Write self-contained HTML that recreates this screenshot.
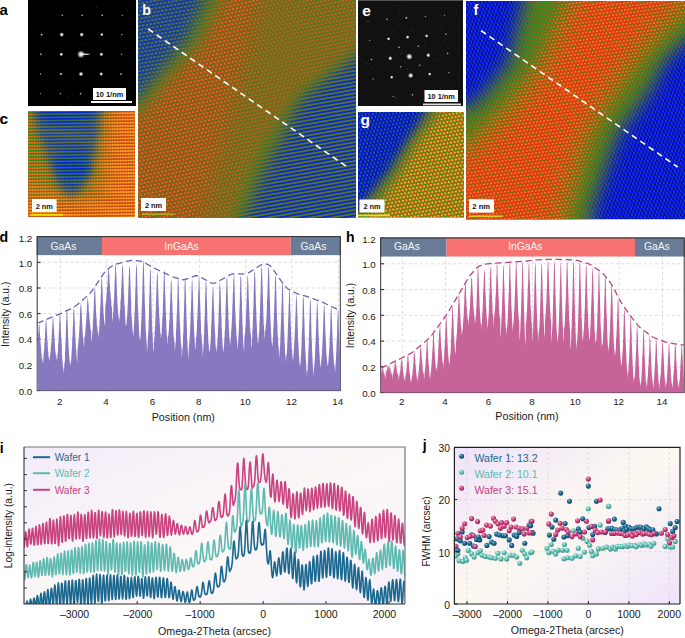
<!DOCTYPE html>
<html><head><meta charset="utf-8"><style>
html,body{margin:0;padding:0;background:#fff;width:685px;height:638px;overflow:hidden;}
svg{display:block;}
</style></head><body>
<svg width="685" height="638" viewBox="0 0 685 638">
<defs><radialGradient id="spot_a"><stop offset="0" stop-color="#fff" stop-opacity="1"/><stop offset="0.35" stop-color="#fff" stop-opacity="0.85"/><stop offset="1" stop-color="#fff" stop-opacity="0"/></radialGradient><radialGradient id="spot_e"><stop offset="0" stop-color="#fff" stop-opacity="1"/><stop offset="0.35" stop-color="#fff" stop-opacity="0.85"/><stop offset="1" stop-color="#fff" stop-opacity="0"/></radialGradient><pattern id="pb_blue" width="3.900" height="7.400" patternUnits="userSpaceOnUse" patternTransform="rotate(-10)"><rect x="-1" y="-1" width="5.90" height="9.40" fill="#0a2cc0"/><rect x="-1" y="1.00" width="5.90" height="1.7" fill="#2a8a30"/><rect x="-1" y="4.70" width="5.90" height="1.7" fill="#2a8a30"/><ellipse cx="1.95" cy="1.85" rx="0.9" ry="0.8" fill="#c8441a"/><ellipse cx="0.00" cy="5.55" rx="0.9" ry="0.8" fill="#c8441a"/><ellipse cx="3.90" cy="5.55" rx="0.9" ry="0.8" fill="#c8441a"/></pattern><pattern id="pb_blue2" width="3.900" height="7.400" patternUnits="userSpaceOnUse" patternTransform="rotate(-10)"><rect x="-1" y="-1" width="5.90" height="9.40" fill="#1234b0"/><ellipse cx="1.95" cy="1.85" rx="1.45" ry="1.25" fill="#2e8a3a"/><ellipse cx="1.95" cy="1.85" rx="0.6" ry="0.6" fill="#d0441a"/><ellipse cx="0.00" cy="5.55" rx="1.45" ry="1.25" fill="#2e8a3a"/><ellipse cx="0.00" cy="5.55" rx="0.6" ry="0.6" fill="#d0441a"/><ellipse cx="3.90" cy="5.55" rx="1.45" ry="1.25" fill="#2e8a3a"/><ellipse cx="3.90" cy="5.55" rx="0.6" ry="0.6" fill="#d0441a"/></pattern><pattern id="pb_green" width="3.900" height="7.400" patternUnits="userSpaceOnUse" patternTransform="rotate(-10)"><rect x="-1" y="-1" width="5.90" height="9.40" fill="#2e8a24"/><ellipse cx="1.95" cy="1.85" rx="1.4" ry="1.2" fill="#b05a1a"/><ellipse cx="1.95" cy="1.85" rx="0.7" ry="0.7" fill="#d84a18"/><ellipse cx="0.00" cy="5.55" rx="1.4" ry="1.2" fill="#b05a1a"/><ellipse cx="0.00" cy="5.55" rx="0.7" ry="0.7" fill="#d84a18"/><ellipse cx="3.90" cy="5.55" rx="1.4" ry="1.2" fill="#b05a1a"/><ellipse cx="3.90" cy="5.55" rx="0.7" ry="0.7" fill="#d84a18"/></pattern><pattern id="pb_orange" width="3.900" height="7.400" patternUnits="userSpaceOnUse" patternTransform="rotate(-12)"><rect x="-1" y="-1" width="5.90" height="9.40" fill="#3a8a1c"/><ellipse cx="1.95" cy="1.85" rx="1.85" ry="1.6" fill="#e22a12"/><ellipse cx="1.95" cy="1.85" rx="0.65" ry="0.65" fill="#ffd040"/><ellipse cx="0.00" cy="5.55" rx="1.85" ry="1.6" fill="#e22a12"/><ellipse cx="0.00" cy="5.55" rx="0.65" ry="0.65" fill="#ffd040"/><ellipse cx="3.90" cy="5.55" rx="1.85" ry="1.6" fill="#e22a12"/><ellipse cx="3.90" cy="5.55" rx="0.65" ry="0.65" fill="#ffd040"/></pattern><clipPath id="clip_b"><rect x="138" y="0" width="218" height="218"/></clipPath><filter id="blur_b_1" filterUnits="userSpaceOnUse" x="78" y="-60" width="338" height="338"><feGaussianBlur stdDeviation="4"/></filter><mask id="mask_b_1" maskUnits="userSpaceOnUse" x="78" y="-60" width="338" height="338"><g filter="url(#blur_b_1)" opacity="1"><polygon points="420.0,-30.0 420.0,250.0 228.0,250.0 258.0,150.0 320.0,60.0" fill="white" /></g></mask><filter id="blur_b_2" filterUnits="userSpaceOnUse" x="78" y="-60" width="338" height="338"><feGaussianBlur stdDeviation="8"/></filter><mask id="mask_b_2" maskUnits="userSpaceOnUse" x="78" y="-60" width="338" height="338"><g filter="url(#blur_b_2)" opacity="1"><polygon points="210.0,-30.0 420.0,-30.0 420.0,20.0 356.0,56.0 300.0,100.0 281.0,140.0 262.0,175.0 245.0,217.0 236.0,250.0 100.0,250.0 100.0,118.0 138.0,98.0 152.0,80.0 168.0,61.0 186.0,40.7 204.0,0.0" fill="white" /></g></mask><filter id="blur_b_3" filterUnits="userSpaceOnUse" x="78" y="-60" width="338" height="338"><feGaussianBlur stdDeviation="6.5"/></filter><mask id="mask_b_3" maskUnits="userSpaceOnUse" x="78" y="-60" width="338" height="338"><g filter="url(#blur_b_3)" opacity="1"><polygon points="228.0,-30.0 420.0,-30.0 420.0,5.0 356.0,45.0 300.0,85.0 260.0,140.0 244.0,175.0 230.0,217.0 222.0,250.0 100.0,250.0 100.0,135.0 143.0,112.0 165.0,84.0 186.0,61.0 203.0,40.7 222.0,0.0" fill="white" /></g></mask><filter id="blur_b_4" filterUnits="userSpaceOnUse" x="78" y="-60" width="338" height="338"><feGaussianBlur stdDeviation="10"/></filter><mask id="mask_b_4" maskUnits="userSpaceOnUse" x="78" y="-60" width="338" height="338"><g filter="url(#blur_b_4)" opacity="0.5"><polygon points="268.0,-30.0 420.0,-30.0 420.0,5.0 356.0,45.0 300.0,85.0 260.0,140.0 244.0,175.0 230.0,217.0 222.0,250.0 200.0,250.0 204.0,218.0 232.0,110.0" fill="white" /></g></mask><pattern id="pc_orange" width="2.600" height="3.150" patternUnits="userSpaceOnUse" patternTransform="rotate(-0.8)"><rect x="-1" y="-1" width="4.6" height="5.15" fill="#b83a12"/><ellipse cx="1.3" cy="1.575" rx="1.5" ry="1.2" fill="#f67818"/><ellipse cx="1.3" cy="1.575" rx="0.75" ry="0.6" fill="#fcd838"/></pattern><pattern id="pc_green" width="2.600" height="3.150" patternUnits="userSpaceOnUse" patternTransform="rotate(-0.8)"><rect x="-1" y="-1" width="4.6" height="5.15" fill="#2a8a1c"/><ellipse cx="1.3" cy="1.575" rx="1.35" ry="0.95" fill="#ec5a14"/><ellipse cx="1.3" cy="1.575" rx="0.675" ry="0.475" fill="#f4a424"/></pattern><pattern id="pc_blue" width="2.600" height="3.150" patternUnits="userSpaceOnUse" patternTransform="rotate(-0.8)"><rect x="-1" y="-1" width="4.6" height="5.15" fill="#0a22d0"/><ellipse cx="1.3" cy="1.575" rx="1.5" ry="0.75" fill="#2a8a3a"/><ellipse cx="1.3" cy="1.575" rx="0.75" ry="0.375" fill="#4a7a30"/></pattern><clipPath id="clip_c"><rect x="28" y="111" width="107" height="106"/></clipPath><filter id="blur_c_1" filterUnits="userSpaceOnUse" x="-32" y="51" width="227" height="226"><feGaussianBlur stdDeviation="8"/></filter><mask id="mask_c_1" maskUnits="userSpaceOnUse" x="-32" y="51" width="227" height="226"><g filter="url(#blur_c_1)" opacity="0.6"><polygon points="20.0,105.0 112.0,105.0 108.0,150.0 104.0,200.0 20.0,200.0" fill="white" /></g></mask><filter id="blur_c_2" filterUnits="userSpaceOnUse" x="-32" y="51" width="227" height="226"><feGaussianBlur stdDeviation="6"/></filter><mask id="mask_c_2" maskUnits="userSpaceOnUse" x="-32" y="51" width="227" height="226"><g filter="url(#blur_c_2)" opacity="1"><polygon points="20.0,105.0 104.0,105.0 100.0,130.0 97.0,150.0 96.0,172.0 88.0,190.0 72.0,198.0 55.0,192.0 40.0,175.0 20.0,175.0" fill="white" /></g></mask><filter id="blur_c_3" filterUnits="userSpaceOnUse" x="-32" y="51" width="227" height="226"><feGaussianBlur stdDeviation="4.5"/></filter><mask id="mask_c_3" maskUnits="userSpaceOnUse" x="-32" y="51" width="227" height="226"><g filter="url(#blur_c_3)" opacity="1"><polygon points="34.0,105.0 102.0,105.0 98.0,135.0 93.0,160.0 88.0,180.0 78.0,193.0 70.0,197.0 60.0,188.0 51.0,168.0 44.0,148.0 36.0,128.0" fill="white" opacity="0.7"/><ellipse cx="66" cy="116" rx="28" ry="9" fill="white"/></g></mask><filter id="blur_c_4" filterUnits="userSpaceOnUse" x="-32" y="51" width="227" height="226"><feGaussianBlur stdDeviation="4.5"/></filter><mask id="mask_c_4" maskUnits="userSpaceOnUse" x="-32" y="51" width="227" height="226"><g filter="url(#blur_c_4)" opacity="1"><ellipse cx="72" cy="166" rx="17" ry="16" fill="white"/></g></mask><pattern id="pg_blue" width="3.600" height="7.000" patternUnits="userSpaceOnUse" patternTransform="rotate(-10)"><rect x="-1" y="-1" width="5.60" height="9.00" fill="#0a16d8"/><ellipse cx="0.00" cy="1.75" rx="0.9" ry="0.72" fill="#000060"/><ellipse cx="3.60" cy="1.75" rx="0.9" ry="0.72" fill="#000060"/><ellipse cx="1.80" cy="5.25" rx="0.9" ry="0.72" fill="#000060"/><ellipse cx="1.80" cy="1.75" rx="1.0" ry="0.9" fill="#1a7a80"/><ellipse cx="0.00" cy="5.25" rx="1.0" ry="0.9" fill="#1a7a80"/><ellipse cx="3.60" cy="5.25" rx="1.0" ry="0.9" fill="#1a7a80"/></pattern><pattern id="pg_green" width="3.600" height="7.000" patternUnits="userSpaceOnUse" patternTransform="rotate(-10)"><rect x="-1" y="-1" width="5.60" height="9.00" fill="#1e9a1c"/><ellipse cx="0.00" cy="1.75" rx="0.9" ry="0.72" fill="#1840a0"/><ellipse cx="3.60" cy="1.75" rx="0.9" ry="0.72" fill="#1840a0"/><ellipse cx="1.80" cy="5.25" rx="0.9" ry="0.72" fill="#1840a0"/><ellipse cx="1.80" cy="1.75" rx="1.3" ry="1.2" fill="#c05a18"/><ellipse cx="0.00" cy="5.25" rx="1.3" ry="1.2" fill="#c05a18"/><ellipse cx="3.60" cy="5.25" rx="1.3" ry="1.2" fill="#c05a18"/></pattern><pattern id="pg_orange" width="3.600" height="7.000" patternUnits="userSpaceOnUse" patternTransform="rotate(-10)"><rect x="-1" y="-1" width="5.60" height="9.00" fill="#229a14"/><ellipse cx="1.80" cy="1.75" rx="1.7" ry="1.5" fill="#f04414"/><ellipse cx="1.80" cy="1.75" rx="0.95" ry="0.95" fill="#fcd030"/><ellipse cx="0.00" cy="5.25" rx="1.7" ry="1.5" fill="#f04414"/><ellipse cx="0.00" cy="5.25" rx="0.95" ry="0.95" fill="#fcd030"/><ellipse cx="3.60" cy="5.25" rx="1.7" ry="1.5" fill="#f04414"/><ellipse cx="3.60" cy="5.25" rx="0.95" ry="0.95" fill="#fcd030"/></pattern><clipPath id="clip_g"><rect x="358" y="112" width="106" height="105.5"/></clipPath><filter id="blur_g_1" filterUnits="userSpaceOnUse" x="298" y="52" width="226" height="225.5"><feGaussianBlur stdDeviation="5"/></filter><mask id="mask_g_1" maskUnits="userSpaceOnUse" x="298" y="52" width="226" height="225.5"><g filter="url(#blur_g_1)" opacity="1"><polygon points="433.0,90.0 480.0,90.0 480.0,240.0 340.0,240.0 340.0,215.0 359.0,210.0 368.0,197.0 389.0,170.5 405.0,143.7 426.0,112.0" fill="white" /></g></mask><filter id="blur_g_2" filterUnits="userSpaceOnUse" x="298" y="52" width="226" height="225.5"><feGaussianBlur stdDeviation="5"/></filter><mask id="mask_g_2" maskUnits="userSpaceOnUse" x="298" y="52" width="226" height="225.5"><g filter="url(#blur_g_2)" opacity="1"><polygon points="446.0,90.0 480.0,90.0 480.0,240.0 340.0,240.0 340.0,230.0 374.0,217.0 383.0,197.0 402.0,170.5 417.0,143.7 440.0,112.0" fill="white" /></g></mask><pattern id="pf_blue" width="3.600" height="6.800" patternUnits="userSpaceOnUse" patternTransform="rotate(-8)"><rect x="-1" y="-1" width="5.60" height="8.80" fill="#0a14ec"/><ellipse cx="0.00" cy="1.70" rx="1.0" ry="0.80" fill="#000050"/><ellipse cx="3.60" cy="1.70" rx="1.0" ry="0.80" fill="#000050"/><ellipse cx="1.80" cy="5.10" rx="1.0" ry="0.80" fill="#000050"/><ellipse cx="1.80" cy="1.70" rx="0.85" ry="0.8" fill="#1a6a98"/><ellipse cx="0.00" cy="5.10" rx="0.85" ry="0.8" fill="#1a6a98"/><ellipse cx="3.60" cy="5.10" rx="0.85" ry="0.8" fill="#1a6a98"/></pattern><pattern id="pf_green" width="3.600" height="6.800" patternUnits="userSpaceOnUse" patternTransform="rotate(-8)"><rect x="-1" y="-1" width="5.60" height="8.80" fill="#1c9a18"/><ellipse cx="0.00" cy="1.70" rx="0.6" ry="0.48" fill="#1238a8"/><ellipse cx="3.60" cy="1.70" rx="0.6" ry="0.48" fill="#1238a8"/><ellipse cx="1.80" cy="5.10" rx="0.6" ry="0.48" fill="#1238a8"/><ellipse cx="1.80" cy="1.70" rx="1.3" ry="1.1" fill="#b05818"/><ellipse cx="0.00" cy="5.10" rx="1.3" ry="1.1" fill="#b05818"/><ellipse cx="3.60" cy="5.10" rx="1.3" ry="1.1" fill="#b05818"/></pattern><pattern id="pf_orange2" width="3.600" height="6.800" patternUnits="userSpaceOnUse" patternTransform="rotate(-8)"><rect x="-1" y="-1" width="5.60" height="8.80" fill="#1c9812"/><ellipse cx="1.80" cy="1.70" rx="1.55" ry="1.35" fill="#e84a14"/><ellipse cx="1.80" cy="1.70" rx="0.7" ry="0.7" fill="#f8b828"/><ellipse cx="0.00" cy="5.10" rx="1.55" ry="1.35" fill="#e84a14"/><ellipse cx="0.00" cy="5.10" rx="0.7" ry="0.7" fill="#f8b828"/><ellipse cx="3.60" cy="5.10" rx="1.55" ry="1.35" fill="#e84a14"/><ellipse cx="3.60" cy="5.10" rx="0.7" ry="0.7" fill="#f8b828"/></pattern><pattern id="pf_orange" width="3.600" height="6.800" patternUnits="userSpaceOnUse" patternTransform="rotate(-8)"><rect x="-1" y="-1" width="5.60" height="8.80" fill="#2a9012"/><ellipse cx="1.80" cy="1.70" rx="2.05" ry="1.8" fill="#f23214"/><ellipse cx="1.80" cy="1.70" rx="0.8" ry="0.8" fill="#fcb428"/><ellipse cx="0.00" cy="5.10" rx="2.05" ry="1.8" fill="#f23214"/><ellipse cx="0.00" cy="5.10" rx="0.8" ry="0.8" fill="#fcb428"/><ellipse cx="3.60" cy="5.10" rx="2.05" ry="1.8" fill="#f23214"/><ellipse cx="3.60" cy="5.10" rx="0.8" ry="0.8" fill="#fcb428"/></pattern><clipPath id="clip_f"><rect x="466" y="1" width="219" height="218.5"/></clipPath><filter id="blur_f_1" filterUnits="userSpaceOnUse" x="406" y="-59" width="339" height="338.5"><feGaussianBlur stdDeviation="9"/></filter><mask id="mask_f_1" maskUnits="userSpaceOnUse" x="406" y="-59" width="339" height="338.5"><g filter="url(#blur_f_1)" opacity="1"><polygon points="530.0,-30.0 720.0,-30.0 720.0,20.0 685.0,42.0 666.0,60.0 651.0,90.0 618.0,135.0 592.6,210.6 590.0,250.0 430.0,250.0 430.0,100.0 466.0,108.0 478.5,100.4 508.7,62.7 523.7,0.0" fill="white" /></g></mask><filter id="blur_f_2" filterUnits="userSpaceOnUse" x="406" y="-59" width="339" height="338.5"><feGaussianBlur stdDeviation="8"/></filter><mask id="mask_f_2" maskUnits="userSpaceOnUse" x="406" y="-59" width="339" height="338.5"><g filter="url(#blur_f_2)" opacity="1"><polygon points="568.0,-30.0 720.0,-30.0 720.0,-5.0 685.0,15.0 669.5,30.0 642.0,60.0 620.0,90.0 592.6,135.0 570.0,210.6 566.0,250.0 430.0,250.0 430.0,144.0 466.0,144.0 507.0,101.0 537.0,63.0 564.0,0.0" fill="white" /></g></mask><filter id="blur_f_3" filterUnits="userSpaceOnUse" x="406" y="-59" width="339" height="338.5"><feGaussianBlur stdDeviation="12"/></filter><mask id="mask_f_3" maskUnits="userSpaceOnUse" x="406" y="-59" width="339" height="338.5"><g filter="url(#blur_f_3)" opacity="1"><polygon points="580.0,-30.0 720.0,-30.0 720.0,-25.0 685.0,-5.0 660.0,20.0 630.0,55.0 607.0,90.0 580.0,135.0 557.0,210.6 553.0,250.0 430.0,250.0 430.0,160.0 466.0,158.0 520.0,110.0 550.0,63.0 578.0,0.0" fill="white" /></g></mask><clipPath id="clip_d"><rect x="36.5" y="236.64000000000001" width="304.5" height="154.66"/></clipPath><clipPath id="clip_h"><rect x="380.0" y="238.04000000000002" width="304.90000000000003" height="155.26"/></clipPath><linearGradient id="bg_i" x1="0" y1="0" x2="1" y2="1"><stop offset="0" stop-color="#f3ecfa"/><stop offset="0.55" stop-color="#fbf8f6"/><stop offset="1" stop-color="#f6f0fb"/></linearGradient><clipPath id="clip_i"><rect x="24" y="447" width="381" height="157"/></clipPath><linearGradient id="bg_j" x1="0" y1="0" x2="1" y2="1"><stop offset="0" stop-color="#efe2fa"/><stop offset="0.5" stop-color="#fcf8f1"/><stop offset="1" stop-color="#efe4fb"/></linearGradient><clipPath id="clip_j"><rect x="454.4" y="447.3" width="225.60000000000002" height="156.7"/></clipPath><radialGradient id="ball1" cx="0.38" cy="0.32" r="0.7"><stop offset="0" stop-color="#8fc0dc"/><stop offset="0.45" stop-color="#1b6a92"/><stop offset="1" stop-color="#0d4460"/></radialGradient><radialGradient id="ball2" cx="0.38" cy="0.32" r="0.7"><stop offset="0" stop-color="#d8f2ee"/><stop offset="0.45" stop-color="#62c1b4"/><stop offset="1" stop-color="#3a9488"/></radialGradient><radialGradient id="ball3" cx="0.38" cy="0.32" r="0.7"><stop offset="0" stop-color="#f3b3d0"/><stop offset="0.45" stop-color="#cc437f"/><stop offset="1" stop-color="#8e2456"/></radialGradient></defs>
<rect width="685" height="638" fill="#fff"/>
<rect x="28" y="0" width="108" height="106" fill="#000"/>
<circle cx="62.4" cy="15.3" r="1.30" fill="url(#spot_a)" opacity="0.64"/>
<circle cx="82.1" cy="15.3" r="1.30" fill="url(#spot_a)" opacity="0.64"/>
<circle cx="102.3" cy="15.3" r="1.40" fill="url(#spot_a)" opacity="0.68"/>
<circle cx="122.2" cy="15.3" r="1.10" fill="url(#spot_a)" opacity="0.58"/>
<circle cx="41.6" cy="34.6" r="1.50" fill="url(#spot_a)" opacity="0.71"/>
<circle cx="61.7" cy="34.6" r="2.40" fill="url(#spot_a)" opacity="1.00"/>
<circle cx="81.7" cy="34.6" r="2.30" fill="url(#spot_a)" opacity="1.00"/>
<circle cx="101.8" cy="34.6" r="1.80" fill="url(#spot_a)" opacity="1.00"/>
<circle cx="121.7" cy="34.6" r="1.20" fill="url(#spot_a)" opacity="0.61"/>
<circle cx="40.9" cy="54.3" r="1.40" fill="url(#spot_a)" opacity="0.68"/>
<circle cx="61.3" cy="54.3" r="2.00" fill="url(#spot_a)" opacity="1.00"/>
<circle cx="101.4" cy="54.3" r="2.10" fill="url(#spot_a)" opacity="1.00"/>
<circle cx="121.5" cy="54.3" r="1.20" fill="url(#spot_a)" opacity="0.61"/>
<circle cx="40.5" cy="74.0" r="1.20" fill="url(#spot_a)" opacity="0.61"/>
<circle cx="60.9" cy="74.0" r="1.70" fill="url(#spot_a)" opacity="0.77"/>
<circle cx="81.0" cy="74.0" r="2.40" fill="url(#spot_a)" opacity="1.00"/>
<circle cx="101.2" cy="74.0" r="2.00" fill="url(#spot_a)" opacity="1.00"/>
<circle cx="121.0" cy="74.0" r="1.40" fill="url(#spot_a)" opacity="0.68"/>
<circle cx="40.5" cy="93.7" r="1.00" fill="url(#spot_a)" opacity="0.55"/>
<circle cx="60.4" cy="93.7" r="1.20" fill="url(#spot_a)" opacity="0.61"/>
<circle cx="80.6" cy="93.7" r="1.40" fill="url(#spot_a)" opacity="0.68"/>
<circle cx="81.0" cy="54.3" r="4.00" fill="url(#spot_a)" opacity="1.00"/>
<circle cx="74.8" cy="12.2" r="0.5" fill="#fff" opacity="0.18"/>
<circle cx="73.8" cy="65.0" r="0.5" fill="#fff" opacity="0.10"/>
<circle cx="115.7" cy="102.6" r="0.5" fill="#fff" opacity="0.20"/>
<circle cx="71.0" cy="104.5" r="0.5" fill="#fff" opacity="0.11"/>
<circle cx="41.0" cy="31.9" r="0.5" fill="#fff" opacity="0.15"/>
<circle cx="134.3" cy="90.9" r="0.5" fill="#fff" opacity="0.15"/>
<circle cx="66.4" cy="84.8" r="0.5" fill="#fff" opacity="0.16"/>
<circle cx="33.5" cy="87.7" r="0.5" fill="#fff" opacity="0.19"/>
<circle cx="54.5" cy="100.1" r="0.5" fill="#fff" opacity="0.08"/>
<circle cx="81.7" cy="36.6" r="0.5" fill="#fff" opacity="0.10"/>
<circle cx="128.9" cy="33.8" r="0.5" fill="#fff" opacity="0.14"/>
<circle cx="79.8" cy="75.4" r="0.5" fill="#fff" opacity="0.11"/>
<circle cx="40.4" cy="52.7" r="0.5" fill="#fff" opacity="0.12"/>
<circle cx="116.4" cy="33.5" r="0.5" fill="#fff" opacity="0.17"/>
<circle cx="29.7" cy="25.2" r="0.5" fill="#fff" opacity="0.08"/>
<circle cx="72.7" cy="45.8" r="0.5" fill="#fff" opacity="0.18"/>
<circle cx="36.5" cy="5.4" r="0.5" fill="#fff" opacity="0.10"/>
<circle cx="72.5" cy="94.5" r="0.5" fill="#fff" opacity="0.10"/>
<circle cx="29.2" cy="55.9" r="0.5" fill="#fff" opacity="0.20"/>
<circle cx="89.5" cy="53.1" r="0.5" fill="#fff" opacity="0.21"/>
<circle cx="100.2" cy="95.6" r="0.5" fill="#fff" opacity="0.18"/>
<circle cx="86.1" cy="43.6" r="0.5" fill="#fff" opacity="0.17"/>
<circle cx="96.4" cy="7.4" r="0.5" fill="#fff" opacity="0.22"/>
<circle cx="124.2" cy="101.7" r="0.5" fill="#fff" opacity="0.10"/>
<circle cx="113.6" cy="11.2" r="0.5" fill="#fff" opacity="0.16"/>
<circle cx="50.8" cy="52.1" r="0.5" fill="#fff" opacity="0.17"/>
<circle cx="95.5" cy="5.4" r="0.5" fill="#fff" opacity="0.11"/>
<circle cx="92.9" cy="18.4" r="0.5" fill="#fff" opacity="0.19"/>
<circle cx="131.2" cy="18.3" r="0.5" fill="#fff" opacity="0.17"/>
<circle cx="98.9" cy="32.6" r="0.5" fill="#fff" opacity="0.17"/>
<circle cx="29.8" cy="94.9" r="0.5" fill="#fff" opacity="0.13"/>
<circle cx="54.8" cy="94.3" r="0.5" fill="#fff" opacity="0.13"/>
<circle cx="56.1" cy="2.8" r="0.5" fill="#fff" opacity="0.20"/>
<circle cx="120.4" cy="30.3" r="0.5" fill="#fff" opacity="0.15"/>
<circle cx="55.0" cy="36.5" r="0.5" fill="#fff" opacity="0.14"/>
<circle cx="46.1" cy="53.2" r="0.5" fill="#fff" opacity="0.11"/>
<circle cx="135.4" cy="0.2" r="0.5" fill="#fff" opacity="0.09"/>
<circle cx="126.3" cy="102.7" r="0.5" fill="#fff" opacity="0.20"/>
<circle cx="49.5" cy="26.2" r="0.5" fill="#fff" opacity="0.20"/>
<circle cx="114.2" cy="75.9" r="0.5" fill="#fff" opacity="0.14"/>
<circle cx="128.6" cy="80.0" r="0.5" fill="#fff" opacity="0.13"/>
<circle cx="106.6" cy="22.6" r="0.5" fill="#fff" opacity="0.20"/>
<circle cx="69.9" cy="13.6" r="0.5" fill="#fff" opacity="0.10"/>
<circle cx="107.7" cy="46.2" r="0.5" fill="#fff" opacity="0.11"/>
<circle cx="104.7" cy="36.6" r="0.5" fill="#fff" opacity="0.10"/>
<circle cx="68.1" cy="97.5" r="0.5" fill="#fff" opacity="0.22"/>
<circle cx="129.0" cy="61.1" r="0.5" fill="#fff" opacity="0.18"/>
<circle cx="31.1" cy="0.8" r="0.5" fill="#fff" opacity="0.15"/>
<circle cx="133.9" cy="54.8" r="0.5" fill="#fff" opacity="0.17"/>
<circle cx="114.0" cy="70.4" r="0.5" fill="#fff" opacity="0.18"/>
<circle cx="47.1" cy="79.7" r="0.5" fill="#fff" opacity="0.12"/>
<circle cx="121.1" cy="74.6" r="0.5" fill="#fff" opacity="0.10"/>
<circle cx="127.0" cy="10.5" r="0.5" fill="#fff" opacity="0.22"/>
<circle cx="62.7" cy="78.2" r="0.5" fill="#fff" opacity="0.08"/>
<circle cx="78.5" cy="48.4" r="0.5" fill="#fff" opacity="0.10"/>
<circle cx="125.9" cy="48.9" r="0.5" fill="#fff" opacity="0.16"/>
<circle cx="54.9" cy="46.6" r="0.5" fill="#fff" opacity="0.15"/>
<circle cx="84.2" cy="44.7" r="0.5" fill="#fff" opacity="0.15"/>
<circle cx="82.6" cy="67.5" r="0.5" fill="#fff" opacity="0.10"/>
<circle cx="119.6" cy="86.9" r="0.5" fill="#fff" opacity="0.14"/>
<circle cx="63.1" cy="37.0" r="0.5" fill="#fff" opacity="0.12"/>
<circle cx="119.3" cy="105.3" r="0.5" fill="#fff" opacity="0.16"/>
<circle cx="86.2" cy="18.2" r="0.5" fill="#fff" opacity="0.13"/>
<circle cx="98.1" cy="92.4" r="0.5" fill="#fff" opacity="0.23"/>
<circle cx="89.1" cy="32.9" r="0.5" fill="#fff" opacity="0.11"/>
<circle cx="85.0" cy="5.6" r="0.5" fill="#fff" opacity="0.23"/>
<circle cx="105.9" cy="101.8" r="0.5" fill="#fff" opacity="0.16"/>
<circle cx="43.6" cy="19.2" r="0.5" fill="#fff" opacity="0.14"/>
<circle cx="104.6" cy="4.4" r="0.5" fill="#fff" opacity="0.14"/>
<circle cx="72.1" cy="21.1" r="0.5" fill="#fff" opacity="0.22"/>
<ellipse cx="85" cy="54.3" rx="4.8" ry="0.8" fill="#fff" opacity="0.8"/>
<rect x="93" y="88" width="33" height="12" fill="#fff"/>
<text x="109.5" y="96.8" font-family="Liberation Sans, sans-serif" font-size="7.4" font-weight="bold" fill="#111" text-anchor="middle" >10 1/nm</text>
<rect x="91" y="101" width="41" height="2" fill="#fff"/>
<rect x="358" y="0" width="105" height="106" fill="#111"/>
<circle cx="406.4" cy="17.8" r="1.50" fill="url(#spot_e)" opacity="0.71"/>
<circle cx="386.9" cy="19.3" r="1.20" fill="url(#spot_e)" opacity="0.61"/>
<circle cx="425.3" cy="16.6" r="1.10" fill="url(#spot_e)" opacity="0.58"/>
<circle cx="444.7" cy="15.2" r="1.00" fill="url(#spot_e)" opacity="0.55"/>
<circle cx="368.0" cy="21.6" r="0.90" fill="url(#spot_e)" opacity="0.52"/>
<circle cx="388.6" cy="38.8" r="1.80" fill="url(#spot_e)" opacity="1.00"/>
<circle cx="407.6" cy="37.1" r="1.90" fill="url(#spot_e)" opacity="1.00"/>
<circle cx="426.6" cy="35.9" r="1.80" fill="url(#spot_e)" opacity="1.00"/>
<circle cx="446.0" cy="34.1" r="1.20" fill="url(#spot_e)" opacity="0.61"/>
<circle cx="369.7" cy="40.5" r="1.00" fill="url(#spot_e)" opacity="0.55"/>
<circle cx="399.0" cy="47.4" r="1.30" fill="url(#spot_e)" opacity="0.64"/>
<circle cx="418.3" cy="46.2" r="1.30" fill="url(#spot_e)" opacity="0.64"/>
<circle cx="371.4" cy="59.5" r="1.30" fill="url(#spot_e)" opacity="0.64"/>
<circle cx="390.3" cy="58.3" r="2.20" fill="url(#spot_e)" opacity="1.00"/>
<circle cx="409.3" cy="56.6" r="3.30" fill="url(#spot_e)" opacity="1.00"/>
<circle cx="428.3" cy="55.2" r="2.20" fill="url(#spot_e)" opacity="1.00"/>
<circle cx="447.6" cy="53.4" r="1.30" fill="url(#spot_e)" opacity="0.64"/>
<circle cx="400.7" cy="66.7" r="1.20" fill="url(#spot_e)" opacity="0.61"/>
<circle cx="419.7" cy="65.2" r="1.20" fill="url(#spot_e)" opacity="0.61"/>
<circle cx="373.1" cy="79.0" r="1.10" fill="url(#spot_e)" opacity="0.58"/>
<circle cx="391.7" cy="77.2" r="1.80" fill="url(#spot_e)" opacity="1.00"/>
<circle cx="410.7" cy="75.5" r="2.80" fill="url(#spot_e)" opacity="1.00"/>
<circle cx="429.7" cy="74.1" r="1.80" fill="url(#spot_e)" opacity="1.00"/>
<circle cx="449.0" cy="72.8" r="1.10" fill="url(#spot_e)" opacity="0.58"/>
<circle cx="393.3" cy="96.6" r="1.10" fill="url(#spot_e)" opacity="0.58"/>
<circle cx="412.4" cy="94.8" r="1.30" fill="url(#spot_e)" opacity="0.64"/>
<circle cx="363.5" cy="12.4" r="0.5" fill="#fff" opacity="0.11"/>
<circle cx="373.3" cy="80.2" r="0.5" fill="#fff" opacity="0.11"/>
<circle cx="399.9" cy="5.4" r="0.5" fill="#fff" opacity="0.20"/>
<circle cx="434.3" cy="59.8" r="0.5" fill="#fff" opacity="0.21"/>
<circle cx="393.9" cy="64.4" r="0.5" fill="#fff" opacity="0.09"/>
<circle cx="424.1" cy="40.3" r="0.5" fill="#fff" opacity="0.13"/>
<circle cx="404.6" cy="72.8" r="0.5" fill="#fff" opacity="0.08"/>
<circle cx="419.4" cy="89.3" r="0.5" fill="#fff" opacity="0.17"/>
<circle cx="456.2" cy="14.6" r="0.5" fill="#fff" opacity="0.20"/>
<circle cx="367.1" cy="63.6" r="0.5" fill="#fff" opacity="0.21"/>
<circle cx="440.6" cy="88.3" r="0.5" fill="#fff" opacity="0.16"/>
<circle cx="401.3" cy="53.1" r="0.5" fill="#fff" opacity="0.20"/>
<circle cx="390.5" cy="59.8" r="0.5" fill="#fff" opacity="0.08"/>
<circle cx="420.4" cy="101.1" r="0.5" fill="#fff" opacity="0.17"/>
<circle cx="364.5" cy="101.3" r="0.5" fill="#fff" opacity="0.15"/>
<circle cx="444.8" cy="83.3" r="0.5" fill="#fff" opacity="0.13"/>
<circle cx="424.7" cy="43.8" r="0.5" fill="#fff" opacity="0.21"/>
<circle cx="432.0" cy="13.4" r="0.5" fill="#fff" opacity="0.15"/>
<circle cx="413.2" cy="96.1" r="0.5" fill="#fff" opacity="0.19"/>
<circle cx="460.1" cy="65.5" r="0.5" fill="#fff" opacity="0.17"/>
<circle cx="446.2" cy="19.2" r="0.5" fill="#fff" opacity="0.17"/>
<circle cx="368.3" cy="63.9" r="0.5" fill="#fff" opacity="0.23"/>
<circle cx="392.7" cy="83.4" r="0.5" fill="#fff" opacity="0.10"/>
<circle cx="445.2" cy="98.6" r="0.5" fill="#fff" opacity="0.19"/>
<circle cx="371.9" cy="68.6" r="0.5" fill="#fff" opacity="0.23"/>
<circle cx="411.1" cy="58.6" r="0.5" fill="#fff" opacity="0.22"/>
<circle cx="436.3" cy="0.5" r="0.5" fill="#fff" opacity="0.14"/>
<circle cx="406.8" cy="101.5" r="0.5" fill="#fff" opacity="0.21"/>
<circle cx="385.7" cy="44.6" r="0.5" fill="#fff" opacity="0.23"/>
<circle cx="358.3" cy="6.2" r="0.5" fill="#fff" opacity="0.20"/>
<circle cx="381.0" cy="31.3" r="0.5" fill="#fff" opacity="0.13"/>
<circle cx="380.3" cy="99.3" r="0.5" fill="#fff" opacity="0.18"/>
<circle cx="446.9" cy="46.4" r="0.5" fill="#fff" opacity="0.14"/>
<circle cx="407.5" cy="69.1" r="0.5" fill="#fff" opacity="0.19"/>
<circle cx="439.0" cy="68.5" r="0.5" fill="#fff" opacity="0.11"/>
<circle cx="412.1" cy="46.6" r="0.5" fill="#fff" opacity="0.10"/>
<circle cx="447.2" cy="36.2" r="0.5" fill="#fff" opacity="0.09"/>
<circle cx="443.8" cy="40.2" r="0.5" fill="#fff" opacity="0.20"/>
<circle cx="396.9" cy="55.1" r="0.5" fill="#fff" opacity="0.20"/>
<circle cx="426.6" cy="64.0" r="0.5" fill="#fff" opacity="0.16"/>
<circle cx="370.3" cy="49.5" r="0.5" fill="#fff" opacity="0.17"/>
<circle cx="391.6" cy="48.2" r="0.5" fill="#fff" opacity="0.17"/>
<circle cx="411.9" cy="104.2" r="0.5" fill="#fff" opacity="0.18"/>
<circle cx="398.9" cy="14.8" r="0.5" fill="#fff" opacity="0.13"/>
<circle cx="386.5" cy="39.0" r="0.5" fill="#fff" opacity="0.12"/>
<circle cx="437.8" cy="60.9" r="0.5" fill="#fff" opacity="0.20"/>
<circle cx="458.5" cy="51.5" r="0.5" fill="#fff" opacity="0.17"/>
<circle cx="401.4" cy="53.5" r="0.5" fill="#fff" opacity="0.14"/>
<circle cx="393.5" cy="31.1" r="0.5" fill="#fff" opacity="0.19"/>
<circle cx="440.8" cy="29.2" r="0.5" fill="#fff" opacity="0.23"/>
<circle cx="389.4" cy="18.4" r="0.5" fill="#fff" opacity="0.11"/>
<circle cx="442.9" cy="26.1" r="0.5" fill="#fff" opacity="0.12"/>
<circle cx="453.9" cy="44.4" r="0.5" fill="#fff" opacity="0.16"/>
<circle cx="387.5" cy="65.8" r="0.5" fill="#fff" opacity="0.18"/>
<circle cx="422.0" cy="18.2" r="0.5" fill="#fff" opacity="0.18"/>
<circle cx="395.9" cy="97.9" r="0.5" fill="#fff" opacity="0.20"/>
<circle cx="413.1" cy="66.2" r="0.5" fill="#fff" opacity="0.22"/>
<circle cx="441.3" cy="15.8" r="0.5" fill="#fff" opacity="0.11"/>
<circle cx="359.7" cy="56.5" r="0.5" fill="#fff" opacity="0.14"/>
<circle cx="462.9" cy="57.5" r="0.5" fill="#fff" opacity="0.12"/>
<circle cx="364.0" cy="42.4" r="0.5" fill="#fff" opacity="0.20"/>
<circle cx="369.6" cy="15.4" r="0.5" fill="#fff" opacity="0.13"/>
<circle cx="411.0" cy="31.4" r="0.5" fill="#fff" opacity="0.13"/>
<circle cx="407.3" cy="72.4" r="0.5" fill="#fff" opacity="0.09"/>
<circle cx="399.7" cy="11.2" r="0.5" fill="#fff" opacity="0.20"/>
<circle cx="390.5" cy="34.2" r="0.5" fill="#fff" opacity="0.10"/>
<circle cx="411.2" cy="29.6" r="0.5" fill="#fff" opacity="0.19"/>
<circle cx="395.2" cy="97.7" r="0.5" fill="#fff" opacity="0.20"/>
<circle cx="404.2" cy="62.0" r="0.5" fill="#fff" opacity="0.21"/>
<circle cx="423.0" cy="46.2" r="0.5" fill="#fff" opacity="0.14"/>
<rect x="358" y="0" width="105" height="0.8" fill="#666"/>
<rect x="424.5" y="90" width="33.5" height="12" fill="#fff"/>
<text x="441.2" y="98.8" font-family="Liberation Sans, sans-serif" font-size="7.4" font-weight="bold" fill="#111" text-anchor="middle" >10 1/nm</text>
<rect x="423" y="103.5" width="38" height="1.8" fill="#ddd"/>
<g clip-path="url(#clip_b)">
<rect x="138" y="0" width="218" height="218" fill="url(#pb_blue2)"/>
<rect x="138" y="0" width="218" height="218" fill="url(#pb_blue)" mask="url(#mask_b_1)"/>
<rect x="138" y="0" width="218" height="218" fill="url(#pb_green)" mask="url(#mask_b_2)"/>
<rect x="138" y="0" width="218" height="218" fill="url(#pb_orange)" mask="url(#mask_b_3)"/>
<rect x="138" y="0" width="218" height="218" fill="url(#pb_green)" mask="url(#mask_b_4)"/>
</g>
<line x1="148.2" y1="29" x2="346.4" y2="166.4" stroke="#fff" stroke-width="1.6" stroke-dasharray="6,4.2"/>
<text x="142.2" y="14.7" font-family="Liberation Sans, sans-serif" font-size="14.3" font-weight="bold" fill="#fff" text-anchor="start" >b</text>
<rect x="141" y="198" width="25" height="13" fill="#fff"/>
<text x="153.5" y="207.8" font-family="Liberation Sans, sans-serif" font-size="7.4" font-weight="bold" fill="#111" text-anchor="middle" >2 nm</text>
<rect x="142" y="213.5" width="32" height="1.4" fill="#b5b820"/>
<g clip-path="url(#clip_c)">
<rect x="28" y="111" width="107" height="106" fill="url(#pc_orange)"/>
<rect x="28" y="111" width="107" height="106" fill="url(#pc_green)" mask="url(#mask_c_1)"/>
<rect x="28" y="111" width="107" height="106" fill="url(#pc_green)" mask="url(#mask_c_2)"/>
<rect x="28" y="111" width="107" height="106" fill="url(#pc_blue)" mask="url(#mask_c_3)"/>
<rect x="28" y="111" width="107" height="106" fill="url(#pc_blue)" mask="url(#mask_c_4)"/>
</g>
<rect x="32" y="199" width="24.6" height="13" fill="#fff"/>
<text x="44.3" y="208.8" font-family="Liberation Sans, sans-serif" font-size="7.4" font-weight="bold" fill="#111" text-anchor="middle" >2 nm</text>
<rect x="30.5" y="213.8" width="32.5" height="1.8" fill="#f0e010"/>
<g clip-path="url(#clip_g)">
<rect x="358" y="112" width="106" height="105.5" fill="url(#pg_blue)"/>
<rect x="358" y="112" width="106" height="105.5" fill="url(#pg_green)" mask="url(#mask_g_1)"/>
<rect x="358" y="112" width="106" height="105.5" fill="url(#pg_orange)" mask="url(#mask_g_2)"/>
</g>
<text x="360.6" y="125.3" font-family="Liberation Sans, sans-serif" font-size="15.5" font-weight="bold" fill="#fff" text-anchor="start" >g</text>
<rect x="359.5" y="199.5" width="25" height="13" fill="#fff"/>
<text x="372" y="209" font-family="Liberation Sans, sans-serif" font-size="7.4" font-weight="bold" fill="#111" text-anchor="middle" >2 nm</text>
<rect x="358" y="214.5" width="32" height="1.8" fill="#e8e020"/>
<g clip-path="url(#clip_f)">
<rect x="466" y="1" width="219" height="218.5" fill="url(#pf_blue)"/>
<rect x="466" y="1" width="219" height="218.5" fill="url(#pf_green)" mask="url(#mask_f_1)"/>
<rect x="466" y="1" width="219" height="218.5" fill="url(#pf_orange2)" mask="url(#mask_f_2)"/>
<rect x="466" y="1" width="219" height="218.5" fill="url(#pf_orange)" mask="url(#mask_f_3)"/>
</g>
<line x1="481" y1="30.6" x2="677.7" y2="167" stroke="#fff" stroke-width="1.6" stroke-dasharray="6,4.2"/>
<text x="473.4" y="14.9" font-family="Liberation Sans, sans-serif" font-size="14.3" font-weight="bold" fill="#fff" text-anchor="start" >f</text>
<text x="362.3" y="15.5" font-family="Liberation Sans, sans-serif" font-size="15.5" font-weight="bold" fill="#fff" text-anchor="start" >e</text>
<rect x="469" y="199.2" width="25" height="13.4" fill="#fff"/>
<text x="481.2" y="209.1" font-family="Liberation Sans, sans-serif" font-size="7.6" font-weight="bold" fill="#111" text-anchor="middle" >2 nm</text>
<rect x="469" y="215.4" width="33" height="1.7" fill="#d8c820"/>
<text x="-0.5" y="15" font-family="Liberation Sans, sans-serif" font-size="15" font-weight="bold" fill="#000" text-anchor="start" >a</text>
<text x="-0.5" y="124" font-family="Liberation Sans, sans-serif" font-size="15.5" font-weight="bold" fill="#000" text-anchor="start" >c</text>
<g stroke="#d2d2d2" stroke-width="0.75" stroke-dasharray="3,2.6"><line x1="37.2" y1="364.9" x2="340.3" y2="364.9"/><line x1="37.2" y1="339.3" x2="340.3" y2="339.3"/><line x1="37.2" y1="313.6" x2="340.3" y2="313.6"/><line x1="37.2" y1="288.0" x2="340.3" y2="288.0"/><line x1="37.2" y1="262.3" x2="340.3" y2="262.3"/><line x1="60.4" y1="236.64000000000001" x2="60.4" y2="390.6"/><line x1="106.7" y1="236.64000000000001" x2="106.7" y2="390.6"/><line x1="153.1" y1="236.64000000000001" x2="153.1" y2="390.6"/><line x1="199.4" y1="236.64000000000001" x2="199.4" y2="390.6"/><line x1="245.8" y1="236.64000000000001" x2="245.8" y2="390.6"/><line x1="292.1" y1="236.64000000000001" x2="292.1" y2="390.6"/><line x1="338.4" y1="236.64000000000001" x2="338.4" y2="390.6"/></g>
<rect x="37.2" y="236.64000000000001" width="303.1" height="153.96" fill="none" stroke="#333" stroke-width="1"/>
<line x1="37.2" y1="390.6" x2="40.7" y2="390.6" stroke="#222" stroke-width="1"/>
<line x1="37.2" y1="364.9" x2="40.7" y2="364.9" stroke="#222" stroke-width="1"/>
<line x1="37.2" y1="339.3" x2="40.7" y2="339.3" stroke="#222" stroke-width="1"/>
<line x1="37.2" y1="313.6" x2="40.7" y2="313.6" stroke="#222" stroke-width="1"/>
<line x1="37.2" y1="288.0" x2="40.7" y2="288.0" stroke="#222" stroke-width="1"/>
<line x1="37.2" y1="262.3" x2="40.7" y2="262.3" stroke="#222" stroke-width="1"/>
<line x1="37.2" y1="236.6" x2="40.7" y2="236.6" stroke="#222" stroke-width="1"/>
<line x1="60.4" y1="390.6" x2="60.4" y2="387.1" stroke="#222" stroke-width="1"/>
<line x1="106.7" y1="390.6" x2="106.7" y2="387.1" stroke="#222" stroke-width="1"/>
<line x1="153.1" y1="390.6" x2="153.1" y2="387.1" stroke="#222" stroke-width="1"/>
<line x1="199.4" y1="390.6" x2="199.4" y2="387.1" stroke="#222" stroke-width="1"/>
<line x1="245.8" y1="390.6" x2="245.8" y2="387.1" stroke="#222" stroke-width="1"/>
<line x1="292.1" y1="390.6" x2="292.1" y2="387.1" stroke="#222" stroke-width="1"/>
<line x1="338.4" y1="390.6" x2="338.4" y2="387.1" stroke="#222" stroke-width="1"/>
<g clip-path="url(#clip_d)"><path d="M37.20,390.6 L37.20,350.44 L37.29,346.20 L37.39,344.54 L37.48,344.94 L37.57,343.87 L37.66,342.28 L37.76,342.22 L37.85,340.92 L37.94,340.60 L38.03,337.91 L38.13,331.90 L38.22,332.99 L38.31,333.70 L38.40,332.28 L38.50,331.34 L38.59,327.21 L38.68,325.40 L38.78,327.56 L38.87,323.81 L38.96,325.81 L39.05,321.93 L39.15,324.34 L39.24,321.29 L39.33,325.45 L39.42,325.08 L39.52,325.24 L39.61,325.49 L39.70,328.10 L39.80,333.19 L39.89,332.05 L39.98,333.91 L40.07,336.29 L40.17,338.19 L40.26,335.01 L40.35,340.52 L40.44,342.74 L40.54,341.20 L40.63,343.44 L40.72,345.06 L40.81,344.59 L40.91,346.29 L41.00,347.63 L41.09,347.51 L41.19,349.82 L41.28,352.51 L41.37,352.92 L41.46,354.08 L41.56,353.48 L41.65,356.71 L41.74,358.86 L41.83,355.81 L41.93,359.14 L42.02,360.85 L42.11,356.84 L42.21,359.32 L42.30,357.33 L42.39,359.56 L42.48,360.86 L42.58,361.15 L42.67,363.15 L42.76,362.43 L42.85,363.12 L42.95,361.63 L43.04,363.51 L43.13,359.91 L43.22,362.71 L43.32,358.88 L43.41,356.35 L43.50,354.72 L43.60,352.58 L43.69,357.87 L43.78,352.36 L43.87,350.38 L43.97,349.64 L44.06,352.09 L44.15,348.23 L44.24,344.12 L44.34,349.21 L44.43,343.99 L44.52,341.28 L44.62,343.24 L44.71,339.20 L44.80,340.75 L44.89,338.57 L44.99,336.86 L45.08,333.14 L45.17,331.86 L45.26,327.98 L45.36,329.71 L45.45,326.19 L45.54,322.08 L45.63,320.80 L45.73,322.80 L45.82,318.93 L45.91,321.09 L46.01,319.39 L46.10,319.52 L46.19,317.71 L46.28,319.79 L46.38,323.55 L46.47,324.07 L46.56,322.02 L46.65,325.88 L46.75,325.10 L46.84,328.63 L46.93,332.42 L47.03,330.68 L47.12,336.05 L47.21,340.14 L47.30,333.86 L47.40,343.11 L47.49,339.75 L47.58,340.68 L47.67,343.65 L47.77,348.58 L47.86,344.74 L47.95,350.77 L48.04,351.84 L48.14,351.15 L48.23,350.08 L48.32,352.11 L48.42,352.15 L48.51,355.54 L48.60,355.93 L48.69,358.64 L48.79,357.85 L48.88,356.82 L48.97,359.19 L49.06,358.27 L49.16,360.79 L49.25,361.25 L49.34,360.36 L49.44,361.04 L49.53,359.62 L49.62,357.57 L49.71,354.33 L49.81,357.77 L49.90,357.37 L49.99,358.45 L50.08,355.84 L50.18,353.94 L50.27,355.98 L50.36,353.90 L50.45,351.60 L50.55,352.35 L50.64,352.17 L50.73,348.30 L50.83,348.94 L50.92,347.26 L51.01,344.62 L51.10,343.46 L51.20,345.08 L51.29,344.12 L51.38,341.20 L51.47,340.60 L51.57,342.55 L51.66,334.93 L51.75,335.80 L51.85,332.83 L51.94,334.86 L52.03,328.44 L52.12,330.32 L52.22,327.62 L52.31,328.29 L52.40,324.05 L52.49,322.26 L52.59,320.22 L52.68,317.42 L52.77,318.11 L52.86,316.31 L52.96,319.05 L53.05,320.03 L53.14,318.11 L53.24,316.83 L53.33,315.61 L53.42,317.77 L53.51,324.63 L53.61,322.36 L53.70,322.08 L53.79,326.55 L53.88,329.39 L53.98,329.49 L54.07,332.70 L54.16,332.11 L54.26,334.92 L54.35,333.73 L54.44,336.92 L54.53,340.70 L54.63,339.53 L54.72,340.22 L54.81,344.40 L54.90,345.37 L55.00,350.17 L55.09,345.13 L55.18,349.09 L55.27,353.07 L55.37,353.37 L55.46,351.32 L55.55,350.29 L55.65,352.73 L55.74,352.40 L55.83,356.11 L55.92,357.19 L56.02,353.45 L56.11,354.69 L56.20,356.09 L56.29,353.87 L56.39,358.39 L56.48,357.46 L56.57,359.59 L56.67,357.76 L56.76,360.90 L56.85,357.21 L56.94,361.02 L57.04,358.57 L57.13,358.80 L57.22,360.70 L57.31,356.26 L57.41,353.99 L57.50,355.04 L57.59,353.78 L57.68,349.79 L57.78,353.64 L57.87,352.82 L57.96,349.83 L58.06,349.45 L58.15,343.17 L58.24,343.70 L58.33,344.43 L58.43,342.35 L58.52,333.99 L58.61,338.94 L58.70,337.43 L58.80,333.51 L58.89,330.93 L58.98,329.73 L59.08,329.83 L59.17,328.17 L59.26,322.59 L59.35,321.56 L59.45,322.28 L59.54,314.46 L59.63,313.18 L59.72,315.10 L59.82,315.09 L59.91,314.11 L60.00,315.84 L60.09,317.07 L60.19,313.82 L60.28,317.17 L60.37,315.30 L60.47,321.26 L60.56,321.08 L60.65,323.51 L60.74,322.14 L60.84,329.90 L60.93,332.81 L61.02,333.53 L61.11,336.60 L61.21,337.68 L61.30,337.80 L61.39,339.14 L61.49,339.39 L61.58,345.92 L61.67,341.29 L61.76,344.36 L61.86,350.31 L61.95,356.03 L62.04,353.41 L62.13,354.69 L62.23,360.77 L62.32,357.64 L62.41,359.55 L62.50,361.98 L62.60,360.50 L62.69,360.92 L62.78,364.87 L62.88,364.48 L62.97,367.08 L63.06,368.14 L63.15,367.17 L63.25,366.90 L63.34,369.44 L63.43,372.90 L63.52,370.26 L63.62,374.25 L63.71,370.58 L63.80,366.89 L63.90,369.73 L63.99,371.25 L64.08,370.92 L64.17,364.91 L64.27,366.13 L64.36,363.91 L64.45,361.91 L64.54,362.44 L64.64,361.49 L64.73,361.18 L64.82,363.66 L64.91,358.93 L65.01,354.34 L65.10,352.47 L65.19,349.22 L65.29,348.03 L65.38,345.21 L65.47,341.65 L65.56,342.47 L65.66,338.85 L65.75,338.85 L65.84,331.29 L65.93,330.44 L66.03,326.86 L66.12,322.06 L66.21,320.13 L66.31,319.44 L66.40,314.87 L66.49,316.16 L66.58,309.98 L66.68,310.51 L66.77,313.85 L66.86,308.11 L66.95,312.00 L67.05,309.29 L67.14,311.37 L67.23,308.60 L67.32,309.86 L67.42,316.84 L67.51,320.96 L67.60,320.98 L67.70,321.72 L67.79,326.63 L67.88,329.58 L67.97,329.86 L68.07,338.45 L68.16,336.68 L68.25,340.24 L68.34,339.12 L68.44,343.14 L68.53,345.82 L68.62,346.23 L68.71,350.17 L68.81,349.09 L68.90,352.02 L68.99,352.99 L69.09,355.12 L69.18,353.37 L69.27,356.64 L69.36,356.65 L69.46,357.87 L69.55,361.39 L69.64,359.69 L69.73,360.97 L69.83,361.80 L69.92,363.83 L70.01,364.44 L70.11,362.55 L70.20,360.18 L70.29,366.16 L70.38,363.55 L70.48,365.40 L70.57,362.75 L70.66,362.84 L70.75,360.95 L70.85,367.57 L70.94,362.45 L71.03,362.21 L71.12,359.44 L71.22,359.47 L71.31,358.07 L71.40,354.21 L71.50,350.48 L71.59,358.11 L71.68,351.75 L71.77,348.95 L71.87,347.89 L71.96,346.84 L72.05,347.06 L72.14,344.49 L72.24,339.44 L72.33,336.85 L72.42,336.76 L72.52,336.52 L72.61,332.63 L72.70,331.11 L72.79,327.38 L72.89,325.92 L72.98,325.00 L73.07,321.04 L73.16,321.22 L73.26,314.86 L73.35,311.59 L73.44,313.50 L73.53,308.08 L73.63,310.75 L73.72,306.74 L73.81,307.02 L73.91,309.16 L74.00,306.76 L74.09,309.47 L74.18,309.83 L74.28,311.30 L74.37,313.00 L74.46,315.82 L74.55,317.32 L74.65,321.17 L74.74,320.82 L74.83,322.59 L74.93,327.71 L75.02,331.64 L75.11,329.59 L75.20,330.82 L75.30,335.30 L75.39,339.37 L75.48,338.22 L75.57,337.59 L75.67,345.85 L75.76,342.98 L75.85,346.09 L75.94,348.66 L76.04,347.51 L76.13,352.35 L76.22,350.59 L76.32,349.87 L76.41,353.22 L76.50,356.33 L76.59,359.07 L76.69,359.02 L76.78,360.93 L76.87,355.04 L76.96,359.23 L77.06,361.30 L77.15,362.20 L77.24,362.04 L77.34,360.76 L77.43,352.24 L77.52,346.26 L77.61,350.53 L77.71,350.10 L77.80,347.42 L77.89,344.55 L77.98,344.05 L78.08,346.72 L78.17,344.40 L78.26,343.64 L78.35,341.88 L78.45,341.31 L78.54,342.46 L78.63,341.85 L78.73,337.80 L78.82,339.07 L78.91,332.77 L79.00,333.86 L79.10,334.40 L79.19,331.48 L79.28,330.21 L79.37,327.81 L79.47,323.99 L79.56,326.80 L79.65,325.77 L79.75,319.62 L79.84,318.65 L79.93,315.98 L80.02,313.38 L80.12,312.46 L80.21,308.41 L80.30,309.44 L80.39,305.32 L80.49,304.95 L80.58,305.45 L80.67,302.01 L80.76,302.02 L80.86,306.77 L80.95,305.12 L81.04,302.31 L81.14,300.74 L81.23,305.36 L81.32,306.59 L81.41,311.07 L81.51,305.59 L81.60,311.53 L81.69,312.70 L81.78,315.08 L81.88,316.44 L81.97,318.90 L82.06,322.50 L82.16,322.17 L82.25,325.13 L82.34,324.43 L82.43,329.92 L82.53,331.08 L82.62,330.25 L82.71,330.48 L82.80,334.03 L82.90,336.99 L82.99,337.10 L83.08,339.02 L83.17,335.54 L83.27,338.53 L83.36,338.82 L83.45,341.61 L83.55,344.12 L83.64,341.58 L83.73,341.37 L83.82,344.07 L83.92,345.78 L84.01,344.12 L84.10,347.27 L84.19,345.33 L84.29,348.29 L84.38,339.34 L84.47,336.15 L84.57,336.26 L84.66,332.84 L84.75,336.57 L84.84,335.44 L84.94,337.06 L85.03,337.79 L85.12,336.89 L85.21,331.78 L85.31,334.08 L85.40,328.74 L85.49,327.22 L85.58,329.49 L85.68,324.69 L85.77,326.33 L85.86,323.44 L85.96,324.77 L86.05,321.18 L86.14,323.49 L86.23,319.09 L86.33,319.74 L86.42,317.63 L86.51,314.65 L86.60,313.98 L86.70,312.87 L86.79,309.70 L86.88,307.89 L86.98,310.40 L87.07,304.92 L87.16,302.93 L87.25,303.86 L87.35,299.83 L87.44,301.38 L87.53,295.99 L87.62,299.14 L87.72,298.75 L87.81,296.22 L87.90,298.72 L87.99,297.21 L88.09,300.30 L88.18,300.33 L88.27,303.59 L88.37,302.94 L88.46,302.14 L88.55,305.25 L88.64,305.48 L88.74,310.62 L88.83,311.76 L88.92,312.33 L89.01,311.67 L89.11,313.37 L89.20,315.33 L89.29,315.30 L89.39,317.95 L89.48,318.81 L89.57,317.32 L89.66,321.97 L89.76,321.46 L89.85,319.63 L89.94,323.40 L90.03,323.06 L90.13,326.36 L90.22,322.15 L90.31,330.91 L90.40,329.38 L90.50,329.78 L90.59,325.14 L90.68,328.02 L90.78,329.58 L90.87,331.86 L90.96,328.94 L91.05,329.60 L91.15,331.25 L91.24,332.78 L91.33,343.20 L91.42,340.33 L91.52,339.68 L91.61,339.58 L91.70,339.35 L91.80,341.72 L91.89,337.39 L91.98,338.56 L92.07,335.51 L92.17,333.63 L92.26,334.69 L92.35,334.15 L92.44,328.99 L92.54,328.88 L92.63,329.37 L92.72,332.45 L92.81,325.23 L92.91,322.30 L93.00,319.66 L93.09,321.38 L93.19,319.51 L93.28,317.26 L93.37,312.88 L93.46,314.78 L93.56,310.71 L93.65,310.19 L93.74,305.76 L93.83,307.08 L93.93,301.12 L94.02,300.50 L94.11,297.64 L94.21,293.80 L94.30,290.16 L94.39,293.25 L94.48,287.92 L94.58,288.65 L94.67,290.16 L94.76,286.75 L94.85,288.96 L94.95,286.70 L95.04,290.20 L95.13,291.89 L95.22,290.07 L95.32,290.41 L95.41,295.45 L95.50,297.01 L95.60,301.63 L95.69,305.21 L95.78,304.99 L95.87,303.51 L95.97,311.76 L96.06,310.86 L96.15,315.27 L96.24,312.99 L96.34,313.08 L96.43,318.66 L96.52,318.50 L96.62,316.55 L96.71,320.60 L96.80,324.08 L96.89,325.43 L96.99,327.91 L97.08,323.61 L97.17,327.54 L97.26,325.02 L97.36,326.24 L97.45,329.97 L97.54,330.43 L97.63,328.55 L97.73,330.32 L97.82,330.56 L97.91,334.62 L98.01,330.00 L98.10,333.58 L98.19,336.28 L98.28,338.32 L98.38,335.92 L98.47,332.17 L98.56,336.27 L98.65,337.36 L98.75,329.85 L98.84,332.67 L98.93,332.44 L99.02,332.87 L99.12,331.51 L99.21,325.43 L99.30,327.41 L99.40,326.47 L99.49,324.88 L99.58,319.27 L99.67,321.74 L99.77,317.64 L99.86,316.49 L99.95,314.62 L100.04,314.78 L100.14,309.78 L100.23,305.84 L100.32,306.86 L100.42,306.30 L100.51,304.72 L100.60,299.51 L100.69,297.99 L100.79,295.20 L100.88,292.45 L100.97,292.72 L101.06,285.74 L101.16,284.09 L101.25,281.93 L101.34,278.60 L101.43,277.13 L101.53,278.67 L101.62,280.27 L101.71,276.25 L101.81,279.19 L101.90,279.61 L101.99,281.08 L102.08,279.32 L102.18,283.84 L102.27,285.26 L102.36,285.76 L102.45,288.88 L102.55,289.24 L102.64,292.80 L102.73,296.29 L102.83,298.22 L102.92,300.56 L103.01,300.29 L103.10,303.37 L103.20,306.01 L103.29,305.35 L103.38,308.47 L103.47,311.17 L103.57,314.73 L103.66,312.46 L103.75,314.25 L103.84,315.95 L103.94,318.15 L104.03,320.10 L104.12,320.05 L104.22,320.21 L104.31,321.85 L104.40,322.76 L104.49,324.17 L104.59,323.32 L104.68,324.13 L104.77,326.54 L104.86,324.04 L104.96,324.28 L105.05,324.40 L105.14,326.24 L105.24,305.95 L105.33,307.43 L105.42,303.29 L105.51,308.32 L105.61,304.37 L105.70,303.62 L105.79,300.61 L105.88,301.50 L105.98,302.55 L106.07,302.59 L106.16,300.35 L106.25,297.81 L106.35,296.94 L106.44,296.42 L106.53,296.31 L106.63,294.32 L106.72,290.89 L106.81,293.99 L106.90,290.81 L107.00,286.72 L107.09,287.68 L107.18,288.49 L107.27,285.15 L107.37,286.63 L107.46,283.88 L107.55,279.57 L107.65,277.53 L107.74,283.02 L107.83,276.90 L107.92,272.96 L108.02,276.17 L108.11,272.99 L108.20,268.90 L108.29,271.01 L108.39,269.13 L108.48,270.05 L108.57,273.57 L108.66,269.13 L108.76,270.09 L108.85,267.88 L108.94,265.58 L109.04,269.10 L109.13,272.79 L109.22,272.87 L109.31,274.97 L109.41,274.99 L109.50,281.31 L109.59,282.34 L109.68,285.55 L109.78,281.95 L109.87,284.62 L109.96,287.26 L110.06,288.83 L110.15,289.91 L110.24,291.94 L110.33,292.09 L110.43,293.70 L110.52,291.31 L110.61,294.56 L110.70,297.92 L110.80,298.59 L110.89,296.24 L110.98,298.71 L111.07,300.00 L111.17,300.11 L111.26,299.34 L111.35,305.57 L111.45,305.44 L111.54,308.07 L111.63,304.42 L111.72,306.69 L111.82,307.77 L111.91,308.38 L112.00,305.92 L112.09,307.76 L112.19,322.09 L112.28,318.46 L112.37,322.56 L112.47,322.51 L112.56,314.51 L112.65,319.53 L112.74,319.09 L112.84,318.56 L112.93,316.44 L113.02,313.61 L113.11,312.50 L113.21,311.66 L113.30,311.90 L113.39,312.81 L113.48,307.90 L113.58,303.93 L113.67,303.12 L113.76,303.77 L113.86,300.08 L113.95,300.47 L114.04,297.86 L114.13,298.08 L114.23,294.19 L114.32,291.11 L114.41,289.44 L114.50,285.28 L114.60,280.72 L114.69,279.31 L114.78,279.87 L114.88,278.03 L114.97,275.15 L115.06,272.99 L115.15,268.20 L115.25,264.55 L115.34,264.92 L115.43,264.87 L115.52,264.92 L115.62,265.45 L115.71,266.60 L115.80,261.82 L115.89,263.10 L115.99,268.20 L116.08,270.98 L116.17,273.08 L116.27,274.55 L116.36,274.77 L116.45,277.76 L116.54,280.11 L116.64,282.46 L116.73,284.73 L116.82,287.69 L116.91,290.41 L117.01,293.61 L117.10,298.77 L117.19,297.62 L117.29,295.79 L117.38,302.11 L117.47,304.02 L117.56,302.52 L117.66,305.91 L117.75,308.49 L117.84,306.00 L117.93,309.15 L118.03,310.16 L118.12,313.88 L118.21,312.94 L118.30,314.18 L118.40,314.33 L118.49,314.43 L118.58,315.21 L118.68,317.67 L118.77,317.18 L118.86,321.11 L118.95,317.94 L119.05,317.97 L119.14,321.02 L119.23,321.41 L119.32,319.54 L119.42,321.15 L119.51,317.44 L119.60,316.71 L119.70,318.19 L119.79,315.27 L119.88,312.22 L119.97,311.06 L120.07,309.92 L120.16,310.83 L120.25,309.79 L120.34,308.42 L120.44,304.99 L120.53,299.99 L120.62,300.14 L120.71,298.05 L120.81,296.71 L120.90,300.54 L120.99,295.90 L121.09,294.36 L121.18,289.08 L121.27,286.13 L121.36,288.50 L121.46,284.94 L121.55,281.67 L121.64,281.36 L121.73,279.26 L121.83,276.95 L121.92,271.49 L122.01,272.42 L122.11,265.90 L122.20,265.24 L122.29,263.81 L122.38,262.26 L122.48,266.49 L122.57,266.75 L122.66,264.33 L122.75,267.12 L122.85,266.51 L122.94,266.53 L123.03,268.70 L123.12,274.04 L123.22,274.99 L123.31,275.70 L123.40,276.76 L123.50,285.59 L123.59,281.74 L123.68,284.94 L123.77,291.05 L123.87,294.07 L123.96,292.68 L124.05,296.46 L124.14,297.52 L124.24,298.19 L124.33,302.57 L124.42,303.49 L124.52,304.77 L124.61,305.80 L124.70,305.88 L124.79,307.68 L124.89,312.10 L124.98,314.55 L125.07,311.02 L125.16,315.72 L125.26,317.43 L125.35,321.57 L125.44,319.09 L125.53,323.10 L125.63,323.41 L125.72,325.89 L125.81,325.02 L125.91,324.45 L126.00,327.82 L126.09,325.59 L126.18,323.90 L126.28,325.89 L126.37,325.46 L126.46,324.12 L126.55,324.57 L126.65,319.94 L126.74,322.15 L126.83,317.80 L126.93,316.43 L127.02,319.32 L127.11,315.68 L127.20,315.31 L127.30,315.11 L127.39,312.03 L127.48,310.20 L127.57,306.64 L127.67,304.22 L127.76,306.38 L127.85,303.04 L127.94,299.16 L128.04,295.73 L128.13,300.41 L128.22,290.92 L128.32,291.25 L128.41,285.46 L128.50,286.60 L128.59,284.68 L128.69,280.21 L128.78,275.17 L128.87,274.39 L128.96,275.93 L129.06,266.96 L129.15,268.16 L129.24,266.69 L129.33,267.01 L129.43,268.29 L129.52,267.14 L129.61,266.60 L129.71,265.86 L129.80,264.76 L129.89,266.66 L129.98,272.10 L130.08,272.77 L130.17,273.66 L130.26,276.75 L130.35,281.31 L130.45,283.30 L130.54,285.63 L130.63,287.52 L130.73,289.61 L130.82,296.15 L130.91,298.64 L131.00,297.80 L131.10,300.08 L131.19,302.49 L131.28,312.27 L131.37,310.40 L131.47,318.39 L131.56,312.78 L131.65,316.05 L131.74,317.96 L131.84,320.13 L131.93,319.07 L132.02,323.77 L132.12,322.74 L132.21,325.09 L132.30,326.80 L132.39,327.81 L132.49,329.59 L132.58,332.88 L132.67,330.25 L132.76,330.97 L132.86,333.17 L132.95,331.85 L133.04,334.13 L133.14,338.09 L133.23,335.47 L133.32,335.45 L133.41,335.59 L133.51,332.35 L133.60,333.57 L133.69,331.64 L133.78,329.07 L133.88,327.48 L133.97,326.04 L134.06,320.75 L134.15,324.29 L134.25,321.01 L134.34,321.88 L134.43,316.60 L134.53,313.16 L134.62,310.80 L134.71,312.02 L134.80,308.90 L134.90,303.39 L134.99,303.37 L135.08,298.61 L135.17,299.50 L135.27,292.05 L135.36,289.73 L135.45,287.71 L135.55,286.94 L135.64,282.42 L135.73,278.45 L135.82,274.76 L135.92,271.91 L136.01,268.49 L136.10,263.96 L136.19,261.27 L136.29,267.83 L136.38,266.61 L136.47,266.95 L136.56,265.30 L136.66,267.33 L136.75,262.93 L136.84,265.33 L136.94,269.77 L137.03,274.27 L137.12,276.26 L137.21,279.73 L137.31,282.87 L137.40,288.25 L137.49,288.85 L137.58,296.10 L137.68,293.95 L137.77,305.27 L137.86,303.39 L137.96,307.37 L138.05,306.26 L138.14,313.26 L138.23,309.43 L138.33,318.34 L138.42,313.80 L138.51,319.08 L138.60,322.02 L138.70,323.27 L138.79,321.81 L138.88,326.13 L138.97,333.86 L139.07,328.85 L139.16,332.18 L139.25,337.10 L139.35,333.75 L139.44,338.65 L139.53,336.93 L139.62,337.65 L139.72,340.00 L139.81,337.99 L139.90,341.47 L139.99,340.16 L140.09,341.20 L140.18,339.91 L140.27,335.08 L140.37,337.63 L140.46,338.86 L140.55,335.77 L140.64,335.67 L140.74,332.65 L140.83,330.78 L140.92,329.20 L141.01,327.36 L141.11,326.61 L141.20,322.63 L141.29,319.28 L141.38,320.23 L141.48,316.77 L141.57,314.08 L141.66,309.22 L141.76,306.90 L141.85,307.63 L141.94,303.25 L142.03,303.33 L142.13,299.30 L142.22,294.31 L142.31,289.95 L142.40,286.05 L142.50,285.14 L142.59,283.71 L142.68,276.83 L142.78,274.34 L142.87,269.53 L142.96,266.29 L143.05,261.40 L143.15,261.09 L143.24,260.78 L143.33,263.33 L143.42,260.59 L143.52,263.52 L143.61,262.44 L143.70,259.07 L143.79,263.47 L143.89,270.27 L143.98,268.96 L144.07,273.62 L144.17,277.00 L144.26,282.38 L144.35,285.58 L144.44,290.10 L144.54,294.32 L144.63,293.27 L144.72,300.07 L144.81,303.36 L144.91,306.27 L145.00,304.72 L145.09,309.42 L145.19,314.53 L145.28,316.52 L145.37,317.97 L145.46,319.69 L145.56,326.80 L145.65,324.18 L145.74,328.46 L145.83,331.37 L145.93,332.69 L146.02,332.20 L146.11,332.01 L146.20,336.65 L146.30,337.27 L146.39,341.19 L146.48,339.82 L146.58,340.17 L146.67,345.44 L146.76,344.20 L146.85,342.12 L146.95,353.65 L147.04,350.70 L147.13,348.32 L147.22,352.04 L147.32,348.69 L147.41,346.80 L147.50,344.03 L147.60,346.89 L147.69,340.84 L147.78,340.80 L147.87,337.38 L147.97,335.60 L148.06,335.23 L148.15,332.87 L148.24,334.96 L148.34,331.90 L148.43,328.81 L148.52,325.01 L148.61,319.90 L148.71,322.38 L148.80,316.71 L148.89,315.67 L148.99,313.06 L149.08,304.05 L149.17,303.44 L149.26,297.11 L149.36,294.51 L149.45,295.00 L149.54,293.13 L149.63,281.82 L149.73,282.72 L149.82,280.19 L149.91,272.62 L150.01,269.54 L150.10,270.52 L150.19,269.94 L150.28,269.02 L150.38,269.23 L150.47,267.97 L150.56,270.16 L150.65,270.19 L150.75,269.90 L150.84,274.70 L150.93,277.36 L151.02,284.02 L151.12,287.72 L151.21,293.65 L151.30,292.35 L151.40,301.64 L151.49,302.20 L151.58,307.84 L151.67,308.91 L151.77,311.47 L151.86,319.31 L151.95,319.65 L152.04,325.53 L152.14,322.24 L152.23,328.47 L152.32,333.20 L152.42,333.95 L152.51,332.39 L152.60,334.24 L152.69,336.72 L152.79,342.61 L152.88,343.20 L152.97,341.44 L153.06,347.53 L153.16,348.17 L153.25,350.62 L153.34,352.14 L153.43,348.53 L153.53,350.44 L153.62,351.40 L153.71,351.58 L153.81,350.93 L153.90,339.22 L153.99,341.66 L154.08,341.62 L154.18,342.11 L154.27,337.08 L154.36,339.05 L154.45,339.71 L154.55,336.01 L154.64,334.00 L154.73,330.89 L154.83,328.92 L154.92,330.51 L155.01,328.82 L155.10,325.99 L155.20,325.69 L155.29,321.49 L155.38,318.23 L155.47,316.79 L155.57,317.67 L155.66,314.48 L155.75,307.26 L155.84,309.16 L155.94,303.21 L156.03,300.76 L156.12,299.89 L156.22,298.42 L156.31,293.26 L156.40,292.49 L156.49,288.18 L156.59,284.64 L156.68,283.18 L156.77,279.14 L156.86,276.14 L156.96,274.73 L157.05,272.20 L157.14,273.10 L157.24,275.43 L157.33,272.61 L157.42,272.55 L157.51,273.21 L157.61,276.06 L157.70,271.67 L157.79,275.01 L157.88,278.15 L157.98,281.77 L158.07,287.72 L158.16,287.89 L158.25,292.64 L158.35,289.29 L158.44,297.06 L158.53,297.24 L158.63,303.90 L158.72,305.47 L158.81,306.44 L158.90,306.24 L159.00,308.72 L159.09,311.31 L159.18,317.46 L159.27,313.67 L159.37,319.50 L159.46,316.40 L159.55,317.63 L159.64,321.25 L159.74,322.49 L159.83,328.27 L159.92,322.24 L160.02,328.06 L160.11,327.74 L160.20,332.39 L160.29,331.84 L160.39,334.86 L160.48,333.78 L160.57,333.91 L160.66,333.93 L160.76,332.05 L160.85,337.61 L160.94,337.83 L161.04,337.81 L161.13,333.44 L161.22,337.72 L161.31,333.48 L161.41,338.59 L161.50,335.43 L161.59,331.77 L161.68,331.58 L161.78,324.09 L161.87,323.42 L161.96,329.72 L162.05,327.17 L162.15,323.61 L162.24,318.12 L162.33,317.32 L162.43,316.83 L162.52,318.05 L162.61,314.74 L162.70,315.98 L162.80,311.38 L162.89,305.14 L162.98,301.89 L163.07,303.29 L163.17,297.87 L163.26,292.17 L163.35,292.12 L163.45,290.09 L163.54,285.31 L163.63,282.39 L163.72,280.09 L163.82,278.05 L163.91,274.53 L164.00,272.91 L164.09,274.18 L164.19,270.60 L164.28,271.49 L164.37,271.16 L164.46,269.40 L164.56,270.30 L164.65,271.67 L164.74,277.08 L164.84,281.49 L164.93,279.94 L165.02,288.85 L165.11,291.86 L165.21,295.37 L165.30,296.25 L165.39,298.75 L165.48,300.38 L165.58,305.53 L165.67,311.09 L165.76,309.72 L165.86,310.98 L165.95,315.25 L166.04,317.95 L166.13,318.91 L166.23,319.46 L166.32,324.48 L166.41,329.14 L166.50,329.46 L166.60,330.56 L166.69,335.49 L166.78,332.24 L166.87,336.78 L166.97,335.82 L167.06,337.80 L167.15,340.05 L167.25,337.47 L167.34,342.72 L167.43,343.83 L167.52,342.74 L167.62,342.29 L167.71,344.32 L167.80,339.12 L167.89,335.79 L167.99,335.69 L168.08,332.46 L168.17,336.34 L168.27,334.87 L168.36,335.61 L168.45,336.53 L168.54,332.56 L168.64,330.01 L168.73,332.45 L168.82,330.55 L168.91,330.18 L169.01,323.91 L169.10,326.19 L169.19,322.25 L169.28,323.35 L169.38,319.77 L169.47,319.26 L169.56,320.64 L169.66,313.95 L169.75,310.99 L169.84,313.83 L169.93,307.90 L170.03,306.05 L170.12,304.88 L170.21,300.79 L170.30,301.46 L170.40,294.60 L170.49,290.07 L170.58,291.97 L170.68,286.79 L170.77,280.96 L170.86,280.43 L170.95,281.01 L171.05,281.81 L171.14,279.76 L171.23,280.40 L171.32,278.97 L171.42,283.15 L171.51,278.19 L171.60,281.95 L171.69,283.10 L171.79,288.83 L171.88,292.98 L171.97,294.56 L172.07,298.24 L172.16,300.00 L172.25,300.84 L172.34,302.76 L172.44,307.13 L172.53,311.18 L172.62,313.57 L172.71,314.05 L172.81,315.36 L172.90,320.38 L172.99,322.12 L173.09,325.36 L173.18,325.47 L173.27,325.88 L173.36,335.09 L173.46,330.68 L173.55,333.81 L173.64,338.72 L173.73,335.03 L173.83,337.10 L173.92,337.41 L174.01,341.84 L174.10,336.08 L174.20,340.85 L174.29,342.47 L174.38,339.51 L174.48,341.69 L174.57,341.70 L174.66,341.24 L174.75,355.11 L174.85,347.54 L174.94,350.85 L175.03,348.90 L175.12,346.80 L175.22,348.93 L175.31,345.81 L175.40,343.70 L175.50,343.88 L175.59,341.37 L175.68,343.82 L175.77,341.34 L175.87,339.48 L175.96,334.67 L176.05,326.21 L176.14,330.85 L176.24,329.49 L176.33,327.09 L176.42,322.76 L176.51,320.88 L176.61,321.98 L176.70,315.26 L176.79,314.62 L176.89,310.29 L176.98,312.93 L177.07,309.22 L177.16,302.15 L177.26,303.77 L177.35,296.48 L177.44,293.45 L177.53,290.62 L177.63,286.95 L177.72,283.79 L177.81,280.04 L177.91,280.86 L178.00,280.15 L178.09,274.50 L178.18,277.98 L178.28,279.02 L178.37,279.47 L178.46,281.66 L178.55,280.70 L178.65,285.02 L178.74,286.05 L178.83,292.87 L178.92,298.82 L179.02,298.43 L179.11,299.00 L179.20,298.52 L179.30,304.11 L179.39,310.71 L179.48,311.91 L179.57,315.89 L179.67,316.90 L179.76,320.69 L179.85,324.49 L179.94,322.75 L180.04,325.42 L180.13,328.23 L180.22,329.25 L180.32,327.93 L180.41,333.46 L180.50,336.16 L180.59,335.41 L180.69,341.79 L180.78,338.64 L180.87,342.93 L180.96,344.25 L181.06,343.60 L181.15,341.62 L181.24,347.17 L181.33,344.67 L181.43,346.41 L181.52,350.29 L181.61,346.15 L181.71,357.74 L181.80,358.67 L181.89,356.85 L181.98,356.04 L182.08,352.65 L182.17,354.21 L182.26,348.79 L182.35,349.98 L182.45,350.41 L182.54,349.13 L182.63,345.46 L182.73,348.08 L182.82,346.52 L182.91,342.09 L183.00,337.12 L183.10,335.84 L183.19,333.90 L183.28,331.98 L183.37,333.29 L183.47,327.16 L183.56,327.29 L183.65,319.51 L183.74,318.28 L183.84,315.49 L183.93,311.51 L184.02,308.53 L184.12,305.49 L184.21,301.95 L184.30,300.36 L184.39,298.31 L184.49,291.51 L184.58,285.72 L184.67,282.81 L184.76,281.34 L184.86,278.66 L184.95,280.65 L185.04,279.03 L185.14,280.91 L185.23,279.43 L185.32,275.82 L185.41,278.15 L185.51,277.58 L185.60,285.75 L185.69,289.29 L185.78,291.68 L185.88,294.09 L185.97,299.05 L186.06,300.09 L186.15,306.42 L186.25,305.97 L186.34,309.87 L186.43,316.95 L186.53,316.65 L186.62,321.09 L186.71,321.50 L186.80,327.20 L186.90,328.18 L186.99,330.25 L187.08,339.03 L187.17,339.67 L187.27,338.04 L187.36,340.65 L187.45,340.47 L187.55,343.91 L187.64,348.59 L187.73,347.20 L187.82,350.85 L187.92,351.31 L188.01,353.18 L188.10,352.74 L188.19,357.21 L188.29,357.55 L188.38,360.43 L188.47,352.60 L188.56,359.02 L188.66,349.42 L188.75,349.74 L188.84,348.33 L188.94,347.36 L189.03,344.61 L189.12,344.61 L189.21,343.35 L189.31,344.03 L189.40,341.83 L189.49,338.04 L189.58,339.01 L189.68,336.86 L189.77,339.74 L189.86,333.13 L189.95,331.81 L190.05,327.93 L190.14,333.70 L190.23,326.27 L190.33,324.38 L190.42,321.72 L190.51,320.73 L190.60,316.68 L190.70,313.20 L190.79,311.85 L190.88,309.80 L190.97,306.86 L191.07,304.33 L191.16,300.56 L191.25,298.99 L191.35,298.33 L191.44,288.69 L191.53,291.41 L191.62,284.91 L191.72,283.76 L191.81,280.74 L191.90,282.01 L191.99,280.21 L192.09,281.71 L192.18,282.56 L192.27,279.43 L192.36,277.43 L192.46,279.99 L192.55,283.86 L192.64,289.44 L192.74,290.85 L192.83,293.04 L192.92,298.29 L193.01,298.37 L193.11,303.18 L193.20,305.34 L193.29,309.83 L193.38,312.59 L193.48,313.92 L193.57,316.23 L193.66,318.84 L193.76,323.93 L193.85,325.77 L193.94,326.69 L194.03,332.44 L194.13,328.98 L194.22,332.42 L194.31,334.89 L194.40,338.20 L194.50,337.00 L194.59,340.76 L194.68,338.14 L194.77,342.49 L194.87,347.47 L194.96,344.44 L195.05,347.98 L195.15,348.96 L195.24,349.29 L195.33,349.80 L195.42,349.62 L195.52,349.01 L195.61,340.92 L195.70,342.99 L195.79,343.82 L195.89,342.24 L195.98,339.34 L196.07,337.57 L196.17,334.87 L196.26,339.90 L196.35,336.02 L196.44,335.38 L196.54,334.37 L196.63,331.89 L196.72,331.09 L196.81,329.48 L196.91,328.48 L197.00,324.64 L197.09,321.45 L197.18,318.35 L197.28,320.44 L197.37,319.31 L197.46,315.55 L197.56,314.33 L197.65,308.35 L197.74,309.44 L197.83,305.17 L197.93,305.27 L198.02,300.65 L198.11,296.83 L198.20,291.41 L198.30,292.76 L198.39,287.71 L198.48,289.35 L198.58,284.54 L198.67,280.57 L198.76,278.94 L198.85,277.20 L198.95,276.87 L199.04,281.23 L199.13,277.17 L199.22,280.38 L199.32,274.75 L199.41,278.31 L199.50,281.95 L199.59,285.85 L199.69,288.76 L199.78,291.82 L199.87,296.20 L199.97,296.42 L200.06,300.24 L200.15,302.15 L200.24,306.47 L200.34,307.73 L200.43,313.11 L200.52,307.32 L200.61,318.00 L200.71,319.87 L200.80,319.45 L200.89,321.14 L200.99,327.18 L201.08,330.89 L201.17,332.34 L201.26,333.43 L201.36,334.80 L201.45,335.30 L201.54,334.59 L201.63,335.99 L201.73,340.64 L201.82,339.71 L201.91,340.23 L202.00,340.30 L202.10,344.25 L202.19,346.20 L202.28,344.02 L202.38,343.08 L202.47,347.37 L202.56,351.88 L202.65,352.07 L202.75,355.41 L202.84,357.27 L202.93,354.60 L203.02,353.17 L203.12,350.37 L203.21,353.38 L203.30,344.13 L203.40,342.83 L203.49,347.13 L203.58,347.61 L203.67,342.54 L203.77,339.47 L203.86,335.66 L203.95,334.74 L204.04,334.26 L204.14,335.22 L204.23,327.92 L204.32,324.67 L204.41,324.19 L204.51,320.28 L204.60,317.56 L204.69,315.48 L204.79,314.22 L204.88,308.25 L204.97,308.47 L205.06,299.81 L205.16,300.93 L205.25,294.87 L205.34,293.78 L205.43,288.14 L205.53,285.69 L205.62,280.62 L205.71,281.92 L205.81,283.58 L205.90,281.04 L205.99,281.23 L206.08,283.50 L206.18,281.98 L206.27,283.93 L206.36,281.08 L206.45,285.71 L206.55,288.55 L206.64,287.07 L206.73,295.18 L206.82,298.08 L206.92,300.81 L207.01,305.41 L207.10,309.31 L207.20,309.43 L207.29,311.98 L207.38,322.32 L207.47,319.68 L207.57,322.58 L207.66,325.47 L207.75,324.36 L207.84,330.04 L207.94,329.52 L208.03,334.29 L208.12,335.99 L208.22,335.66 L208.31,340.24 L208.40,340.78 L208.49,344.14 L208.59,345.15 L208.68,343.38 L208.77,344.84 L208.86,349.26 L208.96,350.30 L209.05,343.95 L209.14,350.79 L209.23,351.79 L209.33,349.53 L209.42,352.22 L209.51,353.92 L209.61,351.15 L209.70,350.40 L209.79,352.01 L209.88,348.21 L209.98,350.11 L210.07,349.22 L210.16,347.58 L210.25,346.87 L210.35,343.87 L210.44,342.85 L210.53,343.30 L210.63,339.79 L210.72,339.42 L210.81,337.65 L210.90,334.88 L211.00,330.65 L211.09,330.03 L211.18,326.00 L211.27,323.23 L211.37,324.03 L211.46,322.78 L211.55,320.72 L211.64,316.18 L211.74,312.50 L211.83,308.49 L211.92,311.37 L212.02,304.32 L212.11,301.22 L212.20,295.72 L212.29,297.10 L212.39,294.53 L212.48,294.33 L212.57,289.78 L212.66,289.26 L212.76,289.13 L212.85,288.97 L212.94,290.23 L213.04,287.51 L213.13,286.64 L213.22,285.97 L213.31,288.06 L213.41,288.93 L213.50,291.93 L213.59,299.86 L213.68,300.35 L213.78,305.05 L213.87,307.28 L213.96,307.72 L214.05,310.93 L214.15,310.41 L214.24,311.75 L214.33,317.27 L214.43,320.77 L214.52,322.93 L214.61,324.84 L214.70,325.80 L214.80,330.33 L214.89,329.73 L214.98,333.17 L215.07,332.43 L215.17,333.53 L215.26,334.40 L215.35,339.55 L215.45,343.27 L215.54,345.24 L215.63,343.79 L215.72,347.08 L215.82,348.55 L215.91,346.98 L216.00,349.00 L216.09,346.46 L216.19,344.61 L216.28,349.19 L216.37,348.40 L216.46,353.74 L216.56,350.05 L216.65,351.27 L216.74,351.39 L216.84,352.08 L216.93,344.52 L217.02,349.67 L217.11,347.75 L217.21,344.15 L217.30,342.26 L217.39,340.79 L217.48,339.58 L217.58,339.85 L217.67,334.90 L217.76,334.17 L217.86,335.40 L217.95,327.50 L218.04,329.18 L218.13,324.55 L218.23,326.93 L218.32,324.10 L218.41,320.50 L218.50,318.23 L218.60,312.36 L218.69,314.77 L218.78,308.58 L218.87,308.01 L218.97,302.15 L219.06,299.74 L219.15,298.12 L219.25,289.62 L219.34,290.74 L219.43,285.22 L219.52,286.49 L219.62,282.76 L219.71,282.30 L219.80,282.15 L219.89,283.03 L219.99,283.91 L220.08,288.22 L220.17,283.31 L220.26,284.27 L220.36,286.36 L220.45,287.51 L220.54,288.13 L220.64,294.54 L220.73,296.70 L220.82,300.48 L220.91,303.25 L221.01,306.40 L221.10,310.86 L221.19,313.72 L221.28,315.13 L221.38,314.90 L221.47,319.37 L221.56,320.21 L221.66,328.16 L221.75,327.44 L221.84,329.37 L221.93,331.24 L222.03,336.91 L222.12,339.75 L222.21,342.13 L222.30,340.56 L222.40,336.92 L222.49,342.56 L222.58,346.76 L222.67,345.11 L222.77,347.57 L222.86,347.77 L222.95,349.95 L223.05,352.42 L223.14,351.66 L223.23,349.81 L223.32,350.96 L223.42,348.50 L223.51,352.67 L223.60,348.15 L223.69,349.44 L223.79,348.42 L223.88,345.49 L223.97,347.11 L224.07,345.20 L224.16,343.18 L224.25,341.76 L224.34,339.92 L224.44,337.38 L224.53,337.11 L224.62,337.13 L224.71,329.63 L224.81,332.35 L224.90,329.41 L224.99,329.24 L225.08,329.58 L225.18,324.36 L225.27,320.14 L225.36,316.56 L225.46,314.76 L225.55,310.43 L225.64,307.13 L225.73,304.13 L225.83,302.94 L225.92,299.62 L226.01,296.96 L226.10,294.92 L226.20,287.10 L226.29,288.78 L226.38,283.00 L226.48,278.83 L226.57,281.81 L226.66,276.21 L226.75,278.26 L226.85,277.10 L226.94,278.12 L227.03,280.39 L227.12,277.00 L227.22,277.39 L227.31,279.17 L227.40,283.59 L227.49,291.08 L227.59,288.97 L227.68,292.73 L227.77,295.87 L227.87,299.41 L227.96,304.63 L228.05,305.08 L228.14,309.55 L228.24,305.97 L228.33,314.55 L228.42,318.71 L228.51,319.63 L228.61,318.51 L228.70,324.60 L228.79,330.33 L228.89,324.82 L228.98,328.95 L229.07,332.38 L229.16,331.78 L229.26,336.57 L229.35,338.59 L229.44,335.92 L229.53,340.07 L229.63,339.26 L229.72,341.35 L229.81,340.74 L229.90,342.98 L230.00,347.84 L230.09,343.15 L230.18,345.79 L230.28,343.41 L230.37,340.18 L230.46,337.31 L230.55,340.12 L230.65,342.79 L230.74,338.63 L230.83,336.09 L230.92,336.68 L231.02,335.76 L231.11,330.76 L231.20,332.52 L231.30,328.74 L231.39,328.93 L231.48,330.35 L231.57,327.65 L231.67,324.63 L231.76,321.54 L231.85,321.71 L231.94,320.97 L232.04,318.21 L232.13,315.18 L232.22,313.72 L232.31,310.90 L232.41,303.86 L232.50,304.50 L232.59,304.12 L232.69,300.00 L232.78,294.29 L232.87,293.35 L232.96,291.99 L233.06,291.51 L233.15,289.21 L233.24,283.56 L233.33,279.99 L233.43,279.71 L233.52,277.70 L233.61,275.21 L233.71,279.40 L233.80,278.45 L233.89,275.23 L233.98,274.05 L234.08,274.52 L234.17,273.37 L234.26,275.52 L234.35,280.03 L234.45,285.42 L234.54,283.88 L234.63,287.76 L234.72,292.14 L234.82,298.39 L234.91,298.87 L235.00,306.43 L235.10,305.72 L235.19,312.48 L235.28,311.03 L235.37,310.71 L235.47,315.04 L235.56,314.28 L235.65,319.62 L235.74,321.58 L235.84,324.44 L235.93,324.82 L236.02,327.82 L236.12,327.26 L236.21,328.19 L236.30,332.22 L236.39,336.64 L236.49,334.84 L236.58,334.65 L236.67,337.24 L236.76,339.05 L236.86,338.80 L236.95,338.95 L237.04,347.26 L237.13,339.89 L237.23,341.74 L237.32,347.62 L237.41,349.43 L237.51,347.53 L237.60,346.22 L237.69,349.53 L237.78,344.37 L237.88,344.67 L237.97,340.85 L238.06,341.12 L238.15,341.39 L238.25,339.46 L238.34,336.73 L238.43,335.97 L238.53,333.38 L238.62,333.88 L238.71,332.89 L238.80,329.45 L238.90,328.85 L238.99,325.25 L239.08,320.63 L239.17,321.92 L239.27,318.52 L239.36,312.01 L239.45,311.63 L239.54,307.73 L239.64,307.10 L239.73,303.65 L239.82,299.06 L239.92,292.08 L240.01,291.02 L240.10,291.68 L240.19,284.08 L240.29,279.58 L240.38,276.35 L240.47,278.26 L240.56,276.03 L240.66,271.82 L240.75,277.70 L240.84,275.26 L240.94,277.35 L241.03,278.35 L241.12,276.83 L241.21,277.75 L241.31,281.16 L241.40,288.67 L241.49,291.39 L241.58,295.62 L241.68,301.26 L241.77,299.37 L241.86,300.73 L241.95,303.95 L242.05,310.76 L242.14,310.25 L242.23,313.56 L242.33,319.08 L242.42,321.12 L242.51,324.42 L242.60,325.75 L242.70,325.12 L242.79,332.71 L242.88,335.44 L242.97,333.58 L243.07,337.17 L243.16,342.83 L243.25,342.95 L243.35,344.29 L243.44,345.45 L243.53,345.12 L243.62,345.17 L243.72,348.61 L243.81,349.10 L243.90,351.76 L243.99,349.14 L244.09,349.14 L244.18,352.65 L244.27,339.43 L244.36,333.87 L244.46,335.74 L244.55,338.77 L244.64,339.70 L244.74,336.28 L244.83,332.57 L244.92,334.98 L245.01,333.35 L245.11,332.67 L245.20,329.22 L245.29,326.44 L245.38,330.12 L245.48,326.72 L245.57,324.93 L245.66,324.05 L245.76,323.36 L245.85,317.55 L245.94,316.82 L246.03,313.66 L246.13,309.97 L246.22,311.35 L246.31,307.31 L246.40,306.75 L246.50,303.69 L246.59,300.37 L246.68,298.74 L246.77,298.68 L246.87,290.15 L246.96,289.95 L247.05,289.54 L247.15,288.62 L247.24,281.37 L247.33,276.96 L247.42,274.67 L247.52,274.40 L247.61,277.23 L247.70,275.20 L247.79,279.36 L247.89,276.04 L247.98,274.51 L248.07,277.39 L248.17,279.57 L248.26,282.04 L248.35,284.90 L248.44,285.15 L248.54,292.90 L248.63,290.96 L248.72,298.61 L248.81,300.09 L248.91,302.83 L249.00,303.96 L249.09,307.14 L249.18,307.57 L249.28,310.73 L249.37,308.68 L249.46,314.28 L249.56,317.54 L249.65,318.27 L249.74,319.71 L249.83,323.02 L249.93,326.50 L250.02,327.53 L250.11,327.17 L250.20,327.36 L250.30,329.39 L250.39,331.75 L250.48,331.66 L250.57,334.75 L250.67,334.26 L250.76,332.87 L250.85,334.19 L250.95,334.32 L251.04,338.11 L251.13,337.30 L251.22,349.24 L251.32,345.26 L251.41,347.36 L251.50,348.42 L251.59,346.02 L251.69,343.61 L251.78,347.25 L251.87,344.49 L251.97,338.51 L252.06,338.74 L252.15,337.42 L252.24,338.72 L252.34,330.76 L252.43,329.90 L252.52,328.50 L252.61,329.86 L252.71,324.36 L252.80,320.90 L252.89,321.27 L252.98,318.56 L253.08,316.34 L253.17,311.53 L253.26,310.31 L253.36,307.55 L253.45,306.73 L253.54,304.04 L253.63,295.86 L253.73,291.38 L253.82,289.40 L253.91,284.91 L254.00,285.18 L254.10,280.65 L254.19,276.18 L254.28,273.47 L254.38,267.92 L254.47,273.63 L254.56,272.12 L254.65,271.64 L254.75,272.27 L254.84,269.23 L254.93,274.63 L255.02,268.55 L255.12,272.56 L255.21,277.28 L255.30,278.70 L255.39,280.29 L255.49,287.80 L255.58,290.01 L255.67,293.83 L255.77,296.68 L255.86,301.66 L255.95,304.99 L256.04,305.27 L256.14,310.18 L256.23,310.04 L256.32,312.87 L256.41,317.73 L256.51,318.55 L256.60,321.38 L256.69,323.99 L256.79,323.63 L256.88,327.72 L256.97,329.24 L257.06,335.20 L257.16,332.00 L257.25,337.48 L257.34,336.91 L257.43,334.41 L257.53,335.29 L257.62,340.56 L257.71,343.18 L257.80,340.81 L257.90,343.01 L257.99,342.10 L258.08,345.65 L258.18,338.66 L258.27,337.52 L258.36,342.77 L258.45,340.78 L258.55,339.80 L258.64,336.08 L258.73,340.16 L258.82,334.75 L258.92,334.24 L259.01,333.86 L259.10,329.41 L259.20,332.83 L259.29,329.94 L259.38,326.93 L259.47,322.07 L259.57,322.03 L259.66,320.79 L259.75,316.05 L259.84,315.59 L259.94,313.50 L260.03,310.34 L260.12,306.52 L260.21,299.31 L260.31,303.82 L260.40,298.33 L260.49,296.22 L260.59,293.39 L260.68,286.85 L260.77,285.08 L260.86,281.99 L260.96,280.78 L261.05,278.08 L261.14,272.35 L261.23,269.85 L261.33,268.36 L261.42,265.90 L261.51,269.45 L261.61,268.47 L261.70,265.50 L261.79,267.11 L261.88,265.62 L261.98,268.48 L262.07,268.87 L262.16,275.10 L262.25,274.56 L262.35,279.00 L262.44,282.92 L262.53,284.07 L262.62,289.49 L262.72,294.43 L262.81,293.21 L262.90,298.43 L263.00,299.57 L263.09,304.36 L263.18,305.09 L263.27,311.59 L263.37,314.86 L263.46,317.55 L263.55,315.71 L263.64,323.18 L263.74,324.95 L263.83,326.28 L263.92,325.04 L264.02,326.47 L264.11,330.60 L264.20,329.13 L264.29,331.53 L264.39,331.20 L264.48,332.97 L264.57,337.25 L264.66,336.56 L264.76,338.13 L264.85,337.65 L264.94,338.71 L265.03,339.43 L265.13,330.24 L265.22,331.28 L265.31,329.58 L265.41,330.36 L265.50,330.03 L265.59,327.13 L265.68,326.12 L265.78,324.51 L265.87,324.51 L265.96,324.85 L266.05,322.70 L266.15,321.29 L266.24,323.41 L266.33,320.53 L266.43,313.70 L266.52,314.90 L266.61,318.35 L266.70,311.24 L266.80,308.76 L266.89,309.38 L266.98,300.51 L267.07,300.48 L267.17,298.75 L267.26,298.24 L267.35,294.44 L267.44,291.13 L267.54,289.13 L267.63,288.53 L267.72,283.98 L267.82,281.11 L267.91,277.73 L268.00,277.11 L268.09,271.35 L268.19,268.49 L268.28,266.09 L268.37,266.17 L268.46,269.34 L268.56,264.96 L268.65,265.18 L268.74,269.21 L268.84,266.84 L268.93,268.31 L269.02,270.82 L269.11,271.52 L269.21,275.87 L269.30,276.46 L269.39,283.41 L269.48,289.00 L269.58,289.83 L269.67,297.88 L269.76,292.85 L269.85,298.78 L269.95,301.36 L270.04,304.80 L270.13,309.55 L270.23,310.92 L270.32,314.88 L270.41,316.96 L270.50,317.86 L270.60,323.23 L270.69,320.11 L270.78,327.55 L270.87,326.06 L270.97,330.93 L271.06,334.03 L271.15,332.76 L271.25,334.91 L271.34,337.29 L271.43,338.47 L271.52,340.94 L271.62,340.18 L271.71,343.04 L271.80,343.04 L271.89,341.76 L271.99,347.04 L272.08,345.65 L272.17,345.85 L272.26,345.85 L272.36,346.50 L272.45,343.88 L272.54,342.35 L272.64,342.00 L272.73,343.86 L272.82,338.39 L272.91,337.10 L273.01,336.95 L273.10,337.53 L273.19,335.67 L273.28,328.61 L273.38,327.23 L273.47,327.70 L273.56,328.34 L273.66,321.91 L273.75,321.64 L273.84,316.33 L273.93,318.11 L274.03,313.51 L274.12,312.12 L274.21,307.51 L274.30,307.31 L274.40,301.42 L274.49,300.91 L274.58,298.80 L274.67,292.86 L274.77,290.28 L274.86,291.48 L274.95,284.15 L275.05,280.45 L275.14,276.79 L275.23,271.16 L275.32,276.44 L275.42,275.38 L275.51,278.73 L275.60,278.40 L275.69,276.85 L275.79,276.14 L275.88,276.40 L275.97,278.19 L276.07,281.68 L276.16,284.73 L276.25,290.47 L276.34,292.62 L276.44,298.25 L276.53,299.41 L276.62,302.32 L276.71,307.25 L276.81,315.41 L276.90,313.35 L276.99,309.94 L277.08,317.74 L277.18,321.35 L277.27,322.41 L277.36,322.87 L277.46,326.66 L277.55,329.89 L277.64,334.06 L277.73,334.16 L277.83,337.78 L277.92,336.60 L278.01,336.07 L278.10,338.52 L278.20,343.15 L278.29,345.26 L278.38,347.28 L278.48,344.87 L278.57,345.62 L278.66,346.06 L278.75,347.64 L278.85,351.18 L278.94,352.93 L279.03,354.44 L279.12,357.98 L279.22,352.27 L279.31,359.33 L279.40,356.60 L279.49,355.32 L279.59,351.93 L279.68,349.94 L279.77,350.93 L279.87,347.26 L279.96,349.32 L280.05,346.09 L280.14,345.66 L280.24,342.50 L280.33,340.66 L280.42,336.74 L280.51,328.52 L280.61,335.51 L280.70,330.92 L280.79,326.78 L280.88,325.43 L280.98,320.22 L281.07,322.21 L281.16,315.96 L281.26,316.08 L281.35,310.05 L281.44,308.26 L281.53,304.99 L281.63,303.39 L281.72,302.54 L281.81,297.76 L281.90,290.85 L282.00,289.21 L282.09,283.71 L282.18,285.45 L282.28,281.80 L282.37,281.22 L282.46,287.54 L282.55,282.80 L282.65,279.81 L282.74,285.12 L282.83,281.88 L282.92,287.10 L283.02,289.31 L283.11,295.38 L283.20,299.73 L283.29,302.58 L283.39,305.89 L283.48,309.67 L283.57,313.48 L283.67,312.83 L283.76,319.15 L283.85,323.33 L283.94,325.71 L284.04,325.77 L284.13,333.70 L284.22,331.07 L284.31,333.17 L284.41,334.51 L284.50,340.13 L284.59,343.08 L284.69,343.29 L284.78,345.37 L284.87,345.03 L284.96,349.25 L285.06,351.86 L285.15,355.18 L285.24,354.49 L285.33,355.28 L285.43,354.37 L285.52,357.52 L285.61,356.08 L285.70,357.09 L285.80,361.59 L285.89,362.76 L285.98,360.00 L286.08,359.10 L286.17,359.85 L286.26,356.43 L286.35,355.81 L286.45,353.98 L286.54,354.83 L286.63,355.14 L286.72,352.34 L286.82,353.58 L286.91,350.14 L287.00,350.38 L287.10,345.09 L287.19,350.72 L287.28,342.16 L287.37,340.18 L287.47,339.95 L287.56,337.08 L287.65,335.10 L287.74,330.69 L287.84,327.60 L287.93,328.28 L288.02,322.59 L288.11,324.33 L288.21,319.57 L288.30,316.73 L288.39,317.13 L288.49,311.12 L288.58,310.01 L288.67,304.11 L288.76,304.18 L288.86,302.65 L288.95,298.43 L289.04,292.51 L289.13,289.75 L289.23,289.74 L289.32,291.91 L289.41,288.98 L289.51,291.60 L289.60,291.02 L289.69,288.76 L289.78,291.01 L289.88,297.30 L289.97,295.74 L290.06,300.46 L290.15,304.48 L290.25,304.45 L290.34,311.26 L290.43,311.83 L290.52,315.77 L290.62,313.91 L290.71,325.16 L290.80,324.02 L290.90,326.35 L290.99,327.44 L291.08,332.81 L291.17,335.58 L291.27,333.96 L291.36,339.63 L291.45,340.37 L291.54,343.00 L291.64,344.07 L291.73,349.21 L291.82,349.37 L291.92,350.05 L292.01,351.25 L292.10,350.75 L292.19,353.18 L292.29,354.24 L292.38,356.52 L292.47,354.94 L292.56,359.35 L292.66,359.06 L292.75,362.27 L292.84,361.79 L292.93,356.86 L293.03,358.40 L293.12,361.49 L293.21,357.48 L293.31,357.18 L293.40,358.11 L293.49,354.37 L293.58,354.50 L293.68,352.84 L293.77,349.81 L293.86,351.48 L293.95,346.80 L294.05,347.87 L294.14,346.25 L294.23,341.59 L294.33,341.57 L294.42,341.22 L294.51,338.80 L294.60,336.20 L294.70,337.37 L294.79,331.18 L294.88,330.27 L294.97,330.47 L295.07,327.43 L295.16,321.52 L295.25,323.10 L295.34,313.95 L295.44,317.46 L295.53,312.27 L295.62,314.75 L295.72,307.07 L295.81,304.96 L295.90,299.97 L295.99,297.39 L296.09,296.26 L296.18,291.51 L296.27,294.20 L296.36,297.12 L296.46,295.07 L296.55,301.32 L296.64,296.92 L296.74,293.44 L296.83,299.61 L296.92,301.48 L297.01,307.14 L297.11,306.51 L297.20,310.83 L297.29,314.02 L297.38,315.12 L297.48,316.60 L297.57,320.98 L297.66,328.54 L297.75,327.07 L297.85,329.88 L297.94,335.07 L298.03,338.37 L298.13,338.38 L298.22,340.42 L298.31,342.15 L298.40,345.52 L298.50,345.81 L298.59,347.47 L298.68,350.43 L298.77,350.88 L298.87,354.40 L298.96,357.86 L299.05,356.31 L299.15,355.96 L299.24,353.72 L299.33,364.14 L299.42,362.05 L299.52,363.67 L299.61,362.24 L299.70,365.08 L299.79,363.61 L299.89,364.92 L299.98,368.15 L300.07,366.51 L300.16,362.75 L300.26,363.50 L300.35,367.52 L300.44,359.48 L300.54,363.72 L300.63,360.64 L300.72,360.72 L300.81,359.39 L300.91,358.33 L301.00,354.18 L301.09,355.13 L301.18,354.23 L301.28,350.97 L301.37,347.84 L301.46,349.54 L301.56,341.91 L301.65,342.48 L301.74,337.28 L301.83,333.49 L301.93,332.94 L302.02,329.83 L302.11,328.94 L302.20,326.50 L302.30,325.91 L302.39,319.61 L302.48,317.17 L302.57,317.48 L302.67,309.13 L302.76,303.38 L302.85,302.09 L302.95,297.11 L303.04,297.37 L303.13,298.84 L303.22,296.79 L303.32,297.60 L303.41,299.15 L303.50,295.01 L303.59,296.69 L303.69,298.31 L303.78,299.58 L303.87,303.82 L303.97,305.84 L304.06,307.38 L304.15,314.99 L304.24,319.37 L304.34,317.61 L304.43,318.77 L304.52,327.58 L304.61,331.11 L304.71,334.54 L304.80,335.03 L304.89,337.51 L304.98,340.83 L305.08,341.25 L305.17,346.87 L305.26,348.79 L305.36,352.32 L305.45,349.40 L305.54,352.07 L305.63,353.60 L305.73,359.60 L305.82,357.17 L305.91,360.85 L306.00,361.58 L306.10,363.28 L306.19,366.34 L306.28,367.25 L306.38,370.95 L306.47,369.99 L306.56,370.17 L306.65,372.59 L306.75,370.63 L306.84,372.41 L306.93,375.65 L307.02,376.15 L307.12,375.35 L307.21,372.60 L307.30,368.71 L307.39,370.71 L307.49,369.75 L307.58,370.93 L307.67,366.49 L307.77,364.38 L307.86,364.71 L307.95,362.21 L308.04,361.55 L308.14,356.89 L308.23,353.64 L308.32,353.29 L308.41,350.72 L308.51,349.17 L308.60,347.99 L308.69,345.64 L308.79,342.24 L308.88,338.46 L308.97,335.82 L309.06,330.92 L309.16,328.40 L309.25,323.85 L309.34,322.01 L309.43,320.68 L309.53,316.67 L309.62,316.53 L309.71,306.70 L309.80,307.42 L309.90,303.42 L309.99,296.45 L310.08,302.04 L310.18,301.20 L310.27,300.17 L310.36,301.19 L310.45,299.94 L310.55,299.67 L310.64,298.96 L310.73,303.31 L310.82,305.47 L310.92,311.06 L311.01,312.79 L311.10,315.15 L311.19,324.08 L311.29,324.47 L311.38,326.88 L311.47,333.94 L311.57,339.19 L311.66,335.66 L311.75,340.32 L311.84,340.32 L311.94,344.49 L312.03,347.05 L312.12,350.15 L312.21,351.64 L312.31,355.83 L312.40,357.24 L312.49,356.82 L312.59,360.76 L312.68,361.16 L312.77,363.89 L312.86,366.16 L312.96,368.88 L313.05,366.82 L313.14,371.30 L313.23,370.16 L313.33,374.88 L313.42,372.27 L313.51,372.80 L313.60,375.34 L313.70,377.62 L313.79,369.08 L313.88,368.38 L313.98,369.18 L314.07,368.90 L314.16,365.15 L314.25,366.25 L314.35,365.86 L314.44,362.35 L314.53,362.80 L314.62,362.79 L314.72,358.38 L314.81,359.22 L314.90,355.15 L315.00,356.50 L315.09,352.80 L315.18,349.18 L315.27,348.70 L315.37,346.55 L315.46,344.50 L315.55,341.49 L315.64,340.66 L315.74,337.58 L315.83,336.41 L315.92,329.76 L316.01,332.51 L316.11,326.59 L316.20,327.28 L316.29,321.57 L316.39,317.21 L316.48,318.85 L316.57,310.40 L316.66,312.49 L316.76,309.08 L316.85,303.69 L316.94,303.96 L317.03,300.04 L317.13,301.01 L317.22,307.15 L317.31,304.72 L317.41,303.42 L317.50,301.28 L317.59,304.15 L317.68,305.97 L317.78,306.65 L317.87,312.88 L317.96,313.50 L318.05,319.67 L318.15,318.10 L318.24,320.15 L318.33,327.80 L318.42,332.81 L318.52,334.12 L318.61,331.63 L318.70,337.00 L318.80,336.28 L318.89,343.11 L318.98,344.56 L319.07,345.11 L319.17,344.89 L319.26,349.28 L319.35,352.68 L319.44,351.92 L319.54,354.00 L319.63,354.80 L319.72,357.57 L319.82,359.81 L319.91,359.88 L320.00,365.82 L320.09,361.69 L320.19,360.84 L320.28,362.99 L320.37,366.60 L320.46,368.32 L320.56,363.39 L320.65,367.18 L320.74,366.74 L320.83,365.07 L320.93,366.23 L321.02,364.50 L321.11,361.05 L321.21,364.05 L321.30,358.56 L321.39,360.46 L321.48,359.47 L321.58,357.07 L321.67,355.82 L321.76,354.17 L321.85,353.64 L321.95,354.24 L322.04,348.40 L322.13,350.06 L322.23,349.56 L322.32,344.42 L322.41,342.97 L322.50,342.27 L322.60,340.00 L322.69,336.90 L322.78,332.14 L322.87,333.66 L322.97,333.57 L323.06,329.84 L323.15,325.32 L323.24,324.13 L323.34,322.40 L323.43,317.08 L323.52,314.34 L323.62,313.33 L323.71,309.55 L323.80,308.39 L323.89,306.06 L323.99,305.59 L324.08,307.57 L324.17,304.39 L324.26,305.23 L324.36,306.09 L324.45,304.97 L324.54,304.96 L324.64,308.84 L324.73,311.53 L324.82,314.83 L324.91,313.60 L325.01,322.13 L325.10,321.80 L325.19,322.70 L325.28,328.91 L325.38,331.17 L325.47,333.64 L325.56,337.56 L325.65,334.19 L325.75,339.11 L325.84,342.90 L325.93,344.08 L326.03,344.54 L326.12,347.40 L326.21,350.31 L326.30,349.39 L326.40,353.70 L326.49,354.35 L326.58,354.77 L326.67,357.89 L326.77,357.68 L326.86,360.28 L326.95,355.13 L327.05,362.02 L327.14,360.88 L327.23,364.65 L327.32,365.88 L327.42,364.60 L327.51,365.51 L327.60,365.84 L327.69,365.41 L327.79,364.86 L327.88,362.56 L327.97,361.88 L328.06,364.99 L328.16,360.89 L328.25,360.29 L328.34,363.78 L328.44,362.46 L328.53,360.59 L328.62,355.43 L328.71,358.11 L328.81,356.89 L328.90,352.30 L328.99,353.71 L329.08,352.00 L329.18,348.84 L329.27,347.86 L329.36,350.92 L329.46,346.76 L329.55,341.03 L329.64,343.01 L329.73,335.79 L329.83,336.03 L329.92,333.12 L330.01,330.70 L330.10,332.22 L330.20,327.66 L330.29,325.74 L330.38,320.65 L330.47,315.50 L330.57,316.08 L330.66,312.70 L330.75,313.67 L330.85,308.32 L330.94,308.12 L331.03,308.05 L331.12,306.60 L331.22,305.11 L331.31,307.85 L331.40,307.12 L331.49,310.88 L331.59,308.87 L331.68,312.93 L331.77,319.22 L331.87,318.08 L331.96,322.75 L332.05,322.27 L332.14,325.95 L332.24,329.24 L332.33,328.62 L332.42,334.63 L332.51,337.27 L332.61,338.90 L332.70,340.96 L332.79,344.95 L332.88,344.30 L332.98,346.58 L333.07,350.30 L333.16,354.11 L333.26,350.60 L333.35,352.06 L333.44,354.45 L333.53,355.79 L333.63,355.66 L333.72,359.78 L333.81,358.54 L333.90,363.08 L334.00,365.52 L334.09,364.79 L334.18,366.27 L334.28,365.49 L334.37,363.60 L334.46,366.77 L334.55,365.93 L334.65,364.05 L334.74,368.03 L334.83,370.96 L334.92,371.95 L335.02,365.99 L335.11,371.38 L335.20,371.97 L335.29,371.36 L335.39,364.25 L335.48,368.16 L335.57,364.58 L335.67,363.01 L335.76,358.84 L335.85,362.45 L335.94,358.13 L336.04,355.98 L336.13,352.10 L336.22,353.42 L336.31,350.52 L336.41,349.59 L336.50,344.89 L336.59,343.04 L336.69,343.38 L336.78,339.30 L336.87,340.84 L336.96,335.44 L337.06,334.78 L337.15,331.32 L337.24,325.97 L337.33,321.09 L337.43,322.06 L337.52,319.90 L337.61,317.39 L337.70,312.36 L337.80,311.68 L337.89,309.50 L337.98,308.47 L338.08,310.26 L338.17,312.25 L338.26,310.08 L338.35,312.91 L338.45,315.01 L338.54,311.48 L338.63,312.98 L338.72,317.04 L338.82,323.13 L338.91,331.73 L339.00,329.37 L339.10,329.43 L339.19,333.97 L339.28,333.06 L339.37,339.75 L339.47,339.62 L339.56,342.46 L339.65,344.63 L339.74,350.00 L339.84,349.59 L339.93,350.90 L340.02,354.12 L340.11,357.73 L340.21,357.93 L340.30,360.54 L340.30,390.6 Z" fill="#8878bf"/></g>
<g clip-path="url(#clip_d)"><path d="M37.20,322.95 L38.36,322.67 L39.52,322.28 L40.68,321.80 L41.83,321.32 L42.99,320.84 L44.15,320.36 L45.31,319.87 L46.47,319.39 L47.63,318.91 L48.79,318.43 L49.95,317.95 L51.10,317.47 L52.26,316.99 L53.42,316.51 L54.58,316.03 L55.74,315.54 L56.90,315.06 L58.06,314.58 L59.21,314.09 L60.37,313.59 L61.53,313.07 L62.69,312.55 L63.85,312.02 L65.01,311.48 L66.17,310.95 L67.32,310.41 L68.48,309.88 L69.64,309.34 L70.80,308.81 L71.96,308.27 L73.12,307.64 L74.28,306.92 L75.44,306.10 L76.59,305.19 L77.75,304.18 L78.91,303.17 L80.07,302.16 L81.23,301.16 L82.39,300.15 L83.55,299.14 L84.70,298.13 L85.86,297.12 L87.02,296.12 L88.18,295.11 L89.34,293.96 L90.50,292.67 L91.66,291.24 L92.81,289.67 L93.97,287.96 L95.13,286.25 L96.29,284.54 L97.45,282.83 L98.61,281.12 L99.77,279.40 L100.93,277.66 L102.08,275.92 L103.24,274.17 L104.40,272.59 L105.56,271.20 L106.72,270.00 L107.88,268.99 L109.04,268.17 L110.19,267.34 L111.35,266.52 L112.51,265.79 L113.67,265.17 L114.83,264.65 L115.99,264.22 L117.15,263.90 L118.30,263.58 L119.46,263.26 L120.62,262.94 L121.78,262.62 L122.94,262.30 L124.10,261.98 L125.26,261.66 L126.42,261.34 L127.57,261.02 L128.73,260.77 L129.89,260.61 L131.05,260.52 L132.21,260.50 L133.37,260.57 L134.53,260.63 L135.68,260.70 L136.84,260.76 L138.00,260.82 L139.16,260.89 L140.32,261.07 L141.48,261.36 L142.64,261.77 L143.79,262.30 L144.95,262.94 L146.11,263.58 L147.27,264.22 L148.43,264.87 L149.59,265.51 L150.75,266.15 L151.91,266.79 L153.06,267.43 L154.22,268.06 L155.38,268.66 L156.54,269.25 L157.70,269.81 L158.86,270.36 L160.02,270.91 L161.17,271.46 L162.33,272.01 L163.49,272.56 L164.65,273.11 L165.81,273.66 L166.97,274.21 L168.13,274.76 L169.28,275.31 L170.44,275.83 L171.60,276.31 L172.76,276.76 L173.92,277.18 L175.08,277.57 L176.24,277.95 L177.40,278.34 L178.55,278.72 L179.71,279.11 L180.87,279.49 L182.03,279.71 L183.19,279.77 L184.35,279.67 L185.51,279.41 L186.66,278.98 L187.82,278.55 L188.98,278.12 L190.14,277.70 L191.30,277.27 L192.46,276.84 L193.62,276.41 L194.77,275.99 L195.93,275.77 L197.09,275.77 L198.25,275.99 L199.41,276.41 L200.57,277.05 L201.73,277.70 L202.89,278.34 L204.04,278.98 L205.20,279.62 L206.36,280.26 L207.52,280.90 L208.68,281.55 L209.84,282.19 L211.00,282.83 L212.15,283.21 L213.31,283.34 L214.47,283.21 L215.63,282.83 L216.79,282.19 L217.95,281.54 L219.11,280.90 L220.26,280.26 L221.42,279.62 L222.58,278.98 L223.74,278.34 L224.90,277.70 L226.06,277.05 L227.22,276.41 L228.38,275.77 L229.53,275.13 L230.69,274.62 L231.85,274.23 L233.01,273.98 L234.17,273.85 L235.33,273.85 L236.49,273.85 L237.64,273.85 L238.80,273.85 L239.96,273.85 L241.12,273.85 L242.28,273.85 L243.44,273.85 L244.60,273.85 L245.76,273.70 L246.91,273.41 L248.07,272.97 L249.23,272.38 L250.39,271.65 L251.55,270.91 L252.71,270.18 L253.87,269.45 L255.02,268.71 L256.18,267.98 L257.34,267.25 L258.50,266.52 L259.66,265.78 L260.82,265.05 L261.98,264.51 L263.13,264.15 L264.29,263.99 L265.45,264.01 L266.61,264.22 L267.77,264.44 L268.93,264.95 L270.09,265.76 L271.25,266.88 L272.40,268.29 L273.56,270.00 L274.72,271.71 L275.88,273.40 L277.04,275.07 L278.20,276.71 L279.36,278.34 L280.51,279.94 L281.67,281.55 L282.83,283.15 L283.99,284.75 L285.15,286.16 L286.31,287.38 L287.47,288.41 L288.62,289.24 L289.78,289.88 L290.94,290.53 L292.10,291.17 L293.26,291.81 L294.42,292.39 L295.58,292.92 L296.74,293.38 L297.89,293.79 L299.05,294.14 L300.21,294.49 L301.37,294.84 L302.53,295.19 L303.69,295.54 L304.85,295.89 L306.00,296.24 L307.16,296.61 L308.32,296.99 L309.48,297.38 L310.64,297.80 L311.80,298.22 L312.96,298.65 L314.11,299.08 L315.27,299.51 L316.43,299.93 L317.59,300.36 L318.75,300.79 L319.91,301.22 L321.07,301.67 L322.23,302.15 L323.38,302.65 L324.54,303.17 L325.70,303.72 L326.86,304.27 L328.02,304.82 L329.18,305.37 L330.34,305.92 L331.49,306.47 L332.65,307.02 L333.81,307.57 L334.97,308.12 L336.13,308.67 L337.29,309.11 L338.45,309.44 L339.60,309.66" fill="none" stroke="#7060b8" stroke-width="1.3" stroke-dasharray="6.5,3.6"/></g>
<rect x="37.2" y="236.64000000000001" width="64.8" height="18.5" fill="#687c98"/>
<rect x="102" y="236.64000000000001" width="188.8" height="18.5" fill="#f87272"/>
<rect x="290.8" y="236.64000000000001" width="49.5" height="18.5" fill="#687c98"/>
<text x="63.5" y="250.14000000000001" font-family="Liberation Sans, sans-serif" font-size="10.3" font-weight="normal" fill="#f4f4f4" text-anchor="middle" >GaAs</text>
<text x="181.5" y="250.14000000000001" font-family="Liberation Sans, sans-serif" font-size="10.3" font-weight="normal" fill="#f4f4f4" text-anchor="middle" >InGaAs</text>
<text x="313.5" y="250.14000000000001" font-family="Liberation Sans, sans-serif" font-size="10.3" font-weight="normal" fill="#f4f4f4" text-anchor="middle" >GaAs</text>
<path d="M37.2,255.14000000000001 L37.2,236.64000000000001 L340.3,236.64000000000001 L340.3,255.14000000000001" fill="none" stroke="#333" stroke-width="1"/>
<text x="32.3" y="394.8" font-family="Liberation Sans, sans-serif" font-size="9.8" font-weight="normal" fill="#1a1a1a" text-anchor="end" >0.0</text>
<text x="32.3" y="369.14" font-family="Liberation Sans, sans-serif" font-size="9.8" font-weight="normal" fill="#1a1a1a" text-anchor="end" >0.2</text>
<text x="32.3" y="343.48" font-family="Liberation Sans, sans-serif" font-size="9.8" font-weight="normal" fill="#1a1a1a" text-anchor="end" >0.4</text>
<text x="32.3" y="317.82" font-family="Liberation Sans, sans-serif" font-size="9.8" font-weight="normal" fill="#1a1a1a" text-anchor="end" >0.6</text>
<text x="32.3" y="292.16" font-family="Liberation Sans, sans-serif" font-size="9.8" font-weight="normal" fill="#1a1a1a" text-anchor="end" >0.8</text>
<text x="32.3" y="266.5" font-family="Liberation Sans, sans-serif" font-size="9.8" font-weight="normal" fill="#1a1a1a" text-anchor="end" >1.0</text>
<text x="32.3" y="241.64000000000001" font-family="Liberation Sans, sans-serif" font-size="9.8" font-weight="normal" fill="#1a1a1a" text-anchor="end" >1.2</text>
<text x="59.8" y="405.0" font-family="Liberation Sans, sans-serif" font-size="9.8" font-weight="normal" fill="#1a1a1a" text-anchor="middle" >2</text>
<text x="106.1" y="405.0" font-family="Liberation Sans, sans-serif" font-size="9.8" font-weight="normal" fill="#1a1a1a" text-anchor="middle" >4</text>
<text x="152.5" y="405.0" font-family="Liberation Sans, sans-serif" font-size="9.8" font-weight="normal" fill="#1a1a1a" text-anchor="middle" >6</text>
<text x="198.8" y="405.0" font-family="Liberation Sans, sans-serif" font-size="9.8" font-weight="normal" fill="#1a1a1a" text-anchor="middle" >8</text>
<text x="245.2" y="405.0" font-family="Liberation Sans, sans-serif" font-size="9.8" font-weight="normal" fill="#1a1a1a" text-anchor="middle" >10</text>
<text x="291.5" y="405.0" font-family="Liberation Sans, sans-serif" font-size="9.8" font-weight="normal" fill="#1a1a1a" text-anchor="middle" >12</text>
<text x="337.8" y="405.0" font-family="Liberation Sans, sans-serif" font-size="9.8" font-weight="normal" fill="#1a1a1a" text-anchor="middle" >14</text>
<text x="183.3" y="420.6" font-family="Liberation Sans, sans-serif" font-size="10.75" font-weight="normal" fill="#1a1a1a" text-anchor="middle" >Position (nm)</text>
<text x="0" y="0" font-family="Liberation Sans, sans-serif" font-size="10.3" font-weight="normal" fill="#1a1a1a" text-anchor="middle" transform="translate(8.8,314.3) rotate(-90)">Intensity (a.u.)</text>
<g stroke="#d2d2d2" stroke-width="0.75" stroke-dasharray="3,2.6"><line x1="380.7" y1="366.8" x2="684.2" y2="366.8"/><line x1="380.7" y1="341.1" x2="684.2" y2="341.1"/><line x1="380.7" y1="315.3" x2="684.2" y2="315.3"/><line x1="380.7" y1="289.6" x2="684.2" y2="289.6"/><line x1="380.7" y1="263.8" x2="684.2" y2="263.8"/><line x1="402.4" y1="238.04000000000002" x2="402.4" y2="392.6"/><line x1="445.7" y1="238.04000000000002" x2="445.7" y2="392.6"/><line x1="489.1" y1="238.04000000000002" x2="489.1" y2="392.6"/><line x1="532.5" y1="238.04000000000002" x2="532.5" y2="392.6"/><line x1="575.8" y1="238.04000000000002" x2="575.8" y2="392.6"/><line x1="619.2" y1="238.04000000000002" x2="619.2" y2="392.6"/><line x1="662.5" y1="238.04000000000002" x2="662.5" y2="392.6"/></g>
<rect x="380.7" y="238.04000000000002" width="303.50000000000006" height="154.56" fill="none" stroke="#333" stroke-width="1"/>
<line x1="380.7" y1="392.6" x2="384.2" y2="392.6" stroke="#222" stroke-width="1"/>
<line x1="380.7" y1="366.8" x2="384.2" y2="366.8" stroke="#222" stroke-width="1"/>
<line x1="380.7" y1="341.1" x2="384.2" y2="341.1" stroke="#222" stroke-width="1"/>
<line x1="380.7" y1="315.3" x2="384.2" y2="315.3" stroke="#222" stroke-width="1"/>
<line x1="380.7" y1="289.6" x2="384.2" y2="289.6" stroke="#222" stroke-width="1"/>
<line x1="380.7" y1="263.8" x2="384.2" y2="263.8" stroke="#222" stroke-width="1"/>
<line x1="380.7" y1="238.0" x2="384.2" y2="238.0" stroke="#222" stroke-width="1"/>
<line x1="402.4" y1="392.6" x2="402.4" y2="389.1" stroke="#222" stroke-width="1"/>
<line x1="445.7" y1="392.6" x2="445.7" y2="389.1" stroke="#222" stroke-width="1"/>
<line x1="489.1" y1="392.6" x2="489.1" y2="389.1" stroke="#222" stroke-width="1"/>
<line x1="532.5" y1="392.6" x2="532.5" y2="389.1" stroke="#222" stroke-width="1"/>
<line x1="575.8" y1="392.6" x2="575.8" y2="389.1" stroke="#222" stroke-width="1"/>
<line x1="619.2" y1="392.6" x2="619.2" y2="389.1" stroke="#222" stroke-width="1"/>
<line x1="662.5" y1="392.6" x2="662.5" y2="389.1" stroke="#222" stroke-width="1"/>
<g clip-path="url(#clip_h)"><path d="M380.70,392.6 L380.70,376.20 L380.79,374.52 L380.87,375.00 L380.96,374.18 L381.05,370.90 L381.13,374.93 L381.22,372.60 L381.31,371.87 L381.39,370.38 L381.48,374.11 L381.57,369.13 L381.65,370.05 L381.74,368.79 L381.83,369.91 L381.91,372.78 L382.00,370.42 L382.09,367.12 L382.17,368.16 L382.26,368.25 L382.35,364.66 L382.43,363.83 L382.52,368.11 L382.61,364.26 L382.69,371.81 L382.78,371.88 L382.87,366.47 L382.95,369.06 L383.04,367.85 L383.13,368.37 L383.21,369.94 L383.30,368.84 L383.39,370.25 L383.47,373.87 L383.56,370.86 L383.65,371.28 L383.74,368.45 L383.82,374.52 L383.91,372.64 L384.00,373.82 L384.08,373.57 L384.17,370.41 L384.26,373.19 L384.34,375.10 L384.43,374.18 L384.52,373.26 L384.60,376.92 L384.69,375.75 L384.78,372.49 L384.86,374.04 L384.95,376.01 L385.04,377.05 L385.12,376.63 L385.21,379.51 L385.30,374.85 L385.38,376.16 L385.47,376.68 L385.56,379.55 L385.64,378.50 L385.73,369.68 L385.82,370.20 L385.90,371.66 L385.99,369.72 L386.08,368.87 L386.16,371.97 L386.25,371.65 L386.34,372.26 L386.42,372.76 L386.51,368.92 L386.60,369.39 L386.68,369.64 L386.77,372.45 L386.86,372.10 L386.94,370.09 L387.03,370.62 L387.12,369.44 L387.20,370.87 L387.29,368.08 L387.38,365.69 L387.46,365.98 L387.55,365.65 L387.64,368.40 L387.72,366.52 L387.81,368.78 L387.90,366.02 L387.98,368.25 L388.07,368.18 L388.16,368.17 L388.24,365.26 L388.33,365.74 L388.42,365.57 L388.50,367.77 L388.59,365.09 L388.68,368.10 L388.76,362.43 L388.85,365.49 L388.94,364.82 L389.02,365.36 L389.11,368.18 L389.20,367.78 L389.28,365.52 L389.37,362.90 L389.46,368.27 L389.54,367.80 L389.63,366.85 L389.72,370.35 L389.81,370.69 L389.89,368.52 L389.98,368.13 L390.07,369.11 L390.15,365.70 L390.24,369.29 L390.33,368.58 L390.41,366.48 L390.50,366.57 L390.59,373.22 L390.67,371.16 L390.76,368.46 L390.85,373.63 L390.93,373.01 L391.02,373.98 L391.11,374.35 L391.19,374.14 L391.28,371.83 L391.37,369.93 L391.45,369.62 L391.54,372.74 L391.63,376.68 L391.71,373.07 L391.80,373.69 L391.89,372.41 L391.97,373.37 L392.06,379.69 L392.15,375.36 L392.23,380.06 L392.32,377.26 L392.41,375.17 L392.49,374.90 L392.58,372.33 L392.67,379.69 L392.75,374.21 L392.84,373.25 L392.93,374.91 L393.01,372.72 L393.10,375.73 L393.19,371.96 L393.27,371.80 L393.36,374.33 L393.45,373.29 L393.53,371.92 L393.62,372.35 L393.71,368.58 L393.79,369.76 L393.88,367.03 L393.97,366.76 L394.05,368.35 L394.14,368.26 L394.23,369.12 L394.31,368.23 L394.40,367.59 L394.49,364.72 L394.57,366.43 L394.66,363.89 L394.75,362.97 L394.83,363.58 L394.92,362.29 L395.01,359.10 L395.09,358.74 L395.18,363.32 L395.27,362.14 L395.35,362.45 L395.44,362.22 L395.53,358.68 L395.61,360.79 L395.70,360.34 L395.79,359.98 L395.88,364.90 L395.96,365.02 L396.05,365.18 L396.14,363.87 L396.22,366.60 L396.31,365.73 L396.40,365.27 L396.48,365.80 L396.57,367.70 L396.66,370.59 L396.74,372.54 L396.83,367.84 L396.92,369.57 L397.00,372.69 L397.09,372.27 L397.18,372.56 L397.26,375.30 L397.35,371.93 L397.44,374.30 L397.52,373.71 L397.61,372.06 L397.70,374.00 L397.78,373.08 L397.87,373.59 L397.96,374.61 L398.04,374.81 L398.13,371.51 L398.22,375.61 L398.30,372.28 L398.39,377.28 L398.48,376.22 L398.56,377.25 L398.65,378.88 L398.74,382.44 L398.82,374.06 L398.91,379.15 L399.00,378.52 L399.08,376.11 L399.17,375.93 L399.26,375.14 L399.34,375.78 L399.43,377.76 L399.52,372.73 L399.60,375.67 L399.69,372.97 L399.78,371.74 L399.86,369.99 L399.95,372.09 L400.04,371.62 L400.12,370.81 L400.21,373.23 L400.30,370.39 L400.38,370.11 L400.47,369.60 L400.56,366.24 L400.64,366.32 L400.73,361.75 L400.82,361.05 L400.90,366.63 L400.99,361.79 L401.08,362.96 L401.16,358.92 L401.25,358.64 L401.34,356.73 L401.42,357.89 L401.51,356.97 L401.60,358.98 L401.68,363.20 L401.77,360.60 L401.86,359.92 L401.94,359.50 L402.03,361.52 L402.12,357.40 L402.21,361.86 L402.29,360.00 L402.38,364.11 L402.47,361.19 L402.55,367.62 L402.64,365.03 L402.73,369.64 L402.81,367.07 L402.90,365.69 L402.99,372.73 L403.07,372.05 L403.16,370.67 L403.25,372.25 L403.33,375.26 L403.42,371.08 L403.51,373.89 L403.59,372.14 L403.68,374.65 L403.77,378.09 L403.85,377.35 L403.94,374.29 L404.03,380.13 L404.11,378.83 L404.20,377.20 L404.29,376.79 L404.37,377.51 L404.46,382.27 L404.55,375.65 L404.63,380.22 L404.72,380.03 L404.81,378.26 L404.89,378.66 L404.98,379.98 L405.07,378.59 L405.15,375.20 L405.24,380.14 L405.33,381.91 L405.41,375.85 L405.50,375.86 L405.59,374.69 L405.67,372.31 L405.76,376.56 L405.85,374.29 L405.93,373.10 L406.02,371.09 L406.11,370.85 L406.19,373.79 L406.28,374.12 L406.37,371.24 L406.45,373.06 L406.54,366.99 L406.63,369.05 L406.71,368.09 L406.80,368.21 L406.89,362.60 L406.97,364.00 L407.06,364.34 L407.15,361.31 L407.23,361.56 L407.32,359.13 L407.41,356.58 L407.49,358.45 L407.58,355.72 L407.67,354.80 L407.75,353.49 L407.84,354.49 L407.93,355.53 L408.02,356.79 L408.10,354.94 L408.19,357.48 L408.28,354.15 L408.36,356.36 L408.45,356.60 L408.54,359.83 L408.62,361.52 L408.71,362.86 L408.80,360.06 L408.88,363.70 L408.97,364.77 L409.06,368.81 L409.14,366.47 L409.23,374.02 L409.32,365.65 L409.40,369.68 L409.49,370.06 L409.58,373.73 L409.66,373.93 L409.75,371.45 L409.84,373.80 L409.92,373.32 L410.01,372.40 L410.10,374.26 L410.18,379.85 L410.27,378.70 L410.36,379.56 L410.44,379.66 L410.53,382.41 L410.62,382.80 L410.70,380.68 L410.79,380.75 L410.88,378.90 L410.96,380.78 L411.05,377.58 L411.14,383.96 L411.22,382.70 L411.31,379.40 L411.40,380.21 L411.48,381.34 L411.57,377.63 L411.66,376.65 L411.74,375.80 L411.83,378.64 L411.92,377.37 L412.00,376.36 L412.09,376.08 L412.18,373.58 L412.26,375.80 L412.35,373.40 L412.44,377.60 L412.52,371.05 L412.61,368.47 L412.70,370.78 L412.78,367.77 L412.87,371.99 L412.96,368.39 L413.04,369.65 L413.13,364.94 L413.22,363.38 L413.30,365.84 L413.39,363.59 L413.48,361.81 L413.56,354.67 L413.65,358.13 L413.74,356.36 L413.82,354.45 L413.91,353.09 L414.00,352.60 L414.09,354.34 L414.17,353.01 L414.26,348.47 L414.35,351.06 L414.43,352.20 L414.52,354.02 L414.61,351.44 L414.69,351.88 L414.78,354.63 L414.87,353.04 L414.95,357.27 L415.04,357.80 L415.13,357.17 L415.21,359.66 L415.30,359.19 L415.39,363.04 L415.47,364.64 L415.56,364.08 L415.65,365.70 L415.73,364.90 L415.82,367.44 L415.91,369.28 L415.99,369.32 L416.08,369.85 L416.17,374.16 L416.25,373.12 L416.34,374.29 L416.43,372.08 L416.51,376.05 L416.60,373.73 L416.69,378.85 L416.77,377.09 L416.86,375.44 L416.95,378.48 L417.03,376.17 L417.12,382.68 L417.21,379.01 L417.29,378.99 L417.38,379.71 L417.47,382.47 L417.55,376.71 L417.64,382.32 L417.73,375.72 L417.81,376.65 L417.90,374.91 L417.99,376.86 L418.07,378.01 L418.16,376.30 L418.25,375.60 L418.33,372.89 L418.42,373.95 L418.51,371.81 L418.59,370.89 L418.68,368.25 L418.77,373.97 L418.85,370.00 L418.94,366.94 L419.03,365.95 L419.11,367.34 L419.20,365.70 L419.29,364.27 L419.37,362.71 L419.46,362.87 L419.55,361.82 L419.63,361.50 L419.72,358.80 L419.81,354.08 L419.89,357.25 L419.98,352.18 L420.07,348.89 L420.16,350.80 L420.24,345.16 L420.33,348.48 L420.42,344.00 L420.50,347.23 L420.59,349.41 L420.68,346.32 L420.76,343.28 L420.85,347.98 L420.94,345.84 L421.02,348.66 L421.11,349.83 L421.20,348.59 L421.28,351.15 L421.37,351.00 L421.46,350.90 L421.54,356.88 L421.63,357.14 L421.72,356.91 L421.80,353.67 L421.89,359.90 L421.98,361.29 L422.06,360.57 L422.15,358.37 L422.24,364.56 L422.32,364.99 L422.41,365.24 L422.50,364.75 L422.58,362.85 L422.67,370.29 L422.76,371.87 L422.84,369.09 L422.93,369.05 L423.02,375.05 L423.10,372.54 L423.19,370.06 L423.28,373.45 L423.36,371.96 L423.45,372.98 L423.54,372.41 L423.62,373.13 L423.71,373.70 L423.80,371.95 L423.88,375.50 L423.97,378.15 L424.06,375.98 L424.14,378.93 L424.23,378.17 L424.32,378.44 L424.40,378.26 L424.49,371.94 L424.58,374.27 L424.66,370.82 L424.75,372.25 L424.84,372.67 L424.92,372.45 L425.01,370.44 L425.10,370.03 L425.18,367.11 L425.27,369.44 L425.36,366.26 L425.44,364.47 L425.53,364.53 L425.62,363.21 L425.70,360.32 L425.79,358.88 L425.88,358.69 L425.96,356.99 L426.05,356.47 L426.14,352.70 L426.23,352.34 L426.31,353.42 L426.40,349.24 L426.49,345.65 L426.57,344.44 L426.66,344.79 L426.75,339.72 L426.83,339.80 L426.92,339.72 L427.01,337.89 L427.09,341.40 L427.18,339.53 L427.27,341.12 L427.35,338.66 L427.44,339.41 L427.53,342.52 L427.61,343.81 L427.70,348.56 L427.79,347.50 L427.87,352.67 L427.96,347.83 L428.05,351.37 L428.13,358.11 L428.22,361.81 L428.31,355.64 L428.39,361.23 L428.48,359.92 L428.57,364.82 L428.65,363.47 L428.74,366.11 L428.83,364.91 L428.91,367.86 L429.00,365.46 L429.09,370.84 L429.17,367.91 L429.26,371.36 L429.35,371.22 L429.43,376.14 L429.52,377.22 L429.61,372.52 L429.69,377.57 L429.78,376.44 L429.87,376.92 L429.95,378.48 L430.04,376.70 L430.13,380.07 L430.21,379.79 L430.30,373.03 L430.39,376.18 L430.47,372.89 L430.56,372.66 L430.65,370.54 L430.73,372.04 L430.82,375.84 L430.91,372.86 L430.99,371.64 L431.08,367.65 L431.17,368.46 L431.25,369.11 L431.34,366.31 L431.43,366.76 L431.51,363.87 L431.60,363.43 L431.69,360.32 L431.77,360.50 L431.86,357.85 L431.95,358.35 L432.03,355.46 L432.12,355.58 L432.21,352.44 L432.30,351.59 L432.38,350.54 L432.47,349.34 L432.56,347.22 L432.64,343.89 L432.73,347.30 L432.82,338.47 L432.90,343.39 L432.99,337.08 L433.08,335.19 L433.16,332.01 L433.25,332.86 L433.34,333.28 L433.42,332.92 L433.51,331.13 L433.60,328.32 L433.68,331.99 L433.77,336.96 L433.86,335.76 L433.94,336.06 L434.03,332.34 L434.12,342.06 L434.20,343.08 L434.29,343.01 L434.38,345.15 L434.46,349.97 L434.55,347.17 L434.64,353.07 L434.72,352.53 L434.81,350.89 L434.90,357.37 L434.98,356.82 L435.07,354.20 L435.16,359.14 L435.24,361.83 L435.33,362.03 L435.42,360.34 L435.50,365.98 L435.59,365.10 L435.68,367.56 L435.76,367.79 L435.85,363.80 L435.94,367.13 L436.02,368.42 L436.11,367.28 L436.20,369.94 L436.28,371.27 L436.37,367.01 L436.46,367.73 L436.54,371.16 L436.63,368.38 L436.72,366.66 L436.80,368.14 L436.89,367.64 L436.98,370.43 L437.06,367.62 L437.15,370.25 L437.24,363.66 L437.32,365.27 L437.41,361.42 L437.50,364.47 L437.58,360.19 L437.67,363.83 L437.76,360.34 L437.84,357.24 L437.93,356.29 L438.02,355.73 L438.10,357.39 L438.19,350.15 L438.28,349.91 L438.37,347.39 L438.45,345.79 L438.54,347.03 L438.63,343.81 L438.71,337.64 L438.80,342.60 L438.89,338.30 L438.97,338.27 L439.06,331.80 L439.15,332.86 L439.23,333.17 L439.32,330.23 L439.41,329.65 L439.49,329.36 L439.58,330.09 L439.67,326.10 L439.75,326.77 L439.84,324.15 L439.93,325.94 L440.01,323.77 L440.10,320.62 L440.19,327.82 L440.27,329.79 L440.36,327.36 L440.45,326.51 L440.53,334.57 L440.62,337.90 L440.71,336.85 L440.79,338.73 L440.88,338.15 L440.97,343.17 L441.05,343.12 L441.14,344.68 L441.23,348.58 L441.31,349.94 L441.40,347.32 L441.49,348.39 L441.57,352.24 L441.66,348.79 L441.75,351.14 L441.83,353.12 L441.92,353.84 L442.01,355.29 L442.09,355.45 L442.18,355.99 L442.27,358.31 L442.35,363.17 L442.44,360.09 L442.53,361.96 L442.61,363.13 L442.70,360.02 L442.79,364.99 L442.87,360.06 L442.96,363.03 L443.05,370.65 L443.13,369.64 L443.22,362.91 L443.31,364.06 L443.39,366.87 L443.48,363.47 L443.57,361.23 L443.65,365.53 L443.74,363.38 L443.83,359.92 L443.91,359.77 L444.00,360.05 L444.09,354.80 L444.17,355.61 L444.26,353.59 L444.35,348.90 L444.44,351.04 L444.52,345.12 L444.61,347.99 L444.70,347.10 L444.78,344.65 L444.87,341.24 L444.96,339.66 L445.04,338.14 L445.13,339.67 L445.22,336.69 L445.30,332.80 L445.39,328.51 L445.48,324.71 L445.56,329.85 L445.65,322.89 L445.74,320.93 L445.82,317.61 L445.91,316.02 L446.00,318.00 L446.08,318.81 L446.17,314.08 L446.26,314.45 L446.34,316.62 L446.43,315.89 L446.52,317.73 L446.60,321.56 L446.69,319.86 L446.78,324.78 L446.86,327.94 L446.95,329.13 L447.04,326.87 L447.12,331.34 L447.21,333.81 L447.30,336.10 L447.38,336.52 L447.47,338.67 L447.56,344.52 L447.64,344.20 L447.73,346.72 L447.82,346.67 L447.90,348.81 L447.99,354.16 L448.08,349.40 L448.16,352.55 L448.25,357.81 L448.34,353.38 L448.42,356.58 L448.51,356.99 L448.60,358.89 L448.68,359.57 L448.77,361.74 L448.86,364.80 L448.94,363.41 L449.03,362.41 L449.12,363.15 L449.20,362.28 L449.29,363.96 L449.38,366.03 L449.46,359.90 L449.55,362.55 L449.64,363.08 L449.72,360.44 L449.81,361.77 L449.90,357.55 L449.98,359.17 L450.07,352.52 L450.16,355.75 L450.24,355.19 L450.33,354.13 L450.42,355.77 L450.51,351.83 L450.59,350.14 L450.68,347.74 L450.77,349.84 L450.85,343.69 L450.94,339.47 L451.03,341.00 L451.11,338.36 L451.20,335.43 L451.29,335.81 L451.37,332.98 L451.46,328.06 L451.55,327.32 L451.63,327.80 L451.72,326.52 L451.81,316.07 L451.89,317.19 L451.98,318.62 L452.07,312.56 L452.15,308.84 L452.24,307.83 L452.33,311.61 L452.41,304.21 L452.50,306.45 L452.59,307.87 L452.67,306.00 L452.76,307.64 L452.85,307.71 L452.93,307.54 L453.02,315.63 L453.11,312.15 L453.19,315.66 L453.28,317.21 L453.37,319.12 L453.45,320.00 L453.54,322.30 L453.63,325.42 L453.71,329.88 L453.80,329.66 L453.89,333.80 L453.97,336.50 L454.06,335.43 L454.15,337.26 L454.23,337.19 L454.32,345.24 L454.41,341.29 L454.49,342.50 L454.58,344.89 L454.67,343.41 L454.75,349.18 L454.84,347.85 L454.93,350.23 L455.01,350.42 L455.10,353.11 L455.19,352.20 L455.27,351.23 L455.36,352.84 L455.45,352.82 L455.53,355.32 L455.62,350.87 L455.71,355.38 L455.79,344.09 L455.88,342.55 L455.97,343.52 L456.05,341.04 L456.14,341.42 L456.23,337.63 L456.31,339.00 L456.40,338.33 L456.49,339.65 L456.58,336.04 L456.66,333.80 L456.75,333.70 L456.84,335.03 L456.92,332.90 L457.01,330.85 L457.10,328.87 L457.18,330.07 L457.27,322.08 L457.36,324.28 L457.44,322.15 L457.53,321.46 L457.62,318.85 L457.70,313.14 L457.79,316.82 L457.88,314.00 L457.96,312.98 L458.05,309.95 L458.14,303.76 L458.22,305.81 L458.31,303.25 L458.40,303.62 L458.48,298.48 L458.57,294.97 L458.66,295.82 L458.74,295.49 L458.83,293.00 L458.92,293.38 L459.00,294.46 L459.09,295.64 L459.18,296.89 L459.26,291.60 L459.35,299.92 L459.44,297.64 L459.52,301.23 L459.61,304.17 L459.70,302.87 L459.78,307.83 L459.87,305.68 L459.96,311.84 L460.04,310.53 L460.13,310.60 L460.22,316.52 L460.30,312.05 L460.39,315.91 L460.48,323.25 L460.56,317.59 L460.65,317.85 L460.74,323.29 L460.82,324.32 L460.91,324.32 L461.00,329.77 L461.08,326.75 L461.17,326.15 L461.26,329.88 L461.34,327.42 L461.43,326.00 L461.52,334.73 L461.60,334.99 L461.69,333.32 L461.78,331.10 L461.86,331.88 L461.95,334.60 L462.04,335.09 L462.12,333.56 L462.21,328.52 L462.30,333.23 L462.38,331.96 L462.47,328.34 L462.56,330.00 L462.65,330.60 L462.73,325.00 L462.82,326.18 L462.91,327.13 L462.99,325.44 L463.08,321.72 L463.17,323.01 L463.25,320.49 L463.34,317.91 L463.43,316.28 L463.51,320.31 L463.60,316.14 L463.69,314.24 L463.77,311.73 L463.86,308.72 L463.95,306.18 L464.03,307.50 L464.12,306.89 L464.21,302.43 L464.29,301.98 L464.38,295.42 L464.47,295.99 L464.55,294.44 L464.64,290.42 L464.73,291.39 L464.81,288.48 L464.90,285.81 L464.99,282.71 L465.07,281.30 L465.16,282.14 L465.25,282.05 L465.33,283.81 L465.42,282.50 L465.51,283.52 L465.59,280.80 L465.68,286.34 L465.77,287.30 L465.85,288.69 L465.94,289.59 L466.03,294.42 L466.11,295.32 L466.20,298.29 L466.29,301.06 L466.37,298.07 L466.46,300.96 L466.55,306.38 L466.63,306.94 L466.72,305.48 L466.81,309.21 L466.89,311.49 L466.98,308.38 L467.07,313.05 L467.15,314.07 L467.24,313.45 L467.33,317.05 L467.41,316.69 L467.50,317.42 L467.59,317.23 L467.67,320.97 L467.76,318.23 L467.85,320.40 L467.93,318.23 L468.02,321.84 L468.11,323.79 L468.19,324.18 L468.28,325.62 L468.37,323.61 L468.45,320.76 L468.54,318.70 L468.63,319.93 L468.72,321.29 L468.80,317.14 L468.89,319.36 L468.98,317.32 L469.06,314.25 L469.15,313.78 L469.24,316.77 L469.32,314.61 L469.41,310.77 L469.50,310.38 L469.58,310.09 L469.67,308.23 L469.76,312.88 L469.84,307.96 L469.93,308.82 L470.02,305.85 L470.10,303.89 L470.19,300.71 L470.28,297.79 L470.36,296.93 L470.45,296.26 L470.54,295.77 L470.62,290.83 L470.71,291.00 L470.80,293.09 L470.88,287.89 L470.97,284.84 L471.06,285.70 L471.14,281.36 L471.23,276.77 L471.32,278.09 L471.40,277.55 L471.49,277.43 L471.58,279.16 L471.66,278.10 L471.75,279.04 L471.84,277.56 L471.92,278.47 L472.01,276.24 L472.10,280.28 L472.18,280.33 L472.27,286.32 L472.36,285.76 L472.44,286.42 L472.53,287.98 L472.62,292.30 L472.70,293.01 L472.79,294.28 L472.88,296.80 L472.96,298.55 L473.05,298.28 L473.14,303.14 L473.22,305.84 L473.31,304.69 L473.40,304.57 L473.48,310.92 L473.57,305.11 L473.66,308.80 L473.74,309.04 L473.83,312.93 L473.92,312.45 L474.00,309.83 L474.09,310.69 L474.18,313.98 L474.26,316.55 L474.35,316.96 L474.44,314.83 L474.52,319.37 L474.61,320.28 L474.70,319.11 L474.79,317.32 L474.87,325.54 L474.96,322.58 L475.05,322.21 L475.13,322.23 L475.22,322.22 L475.31,319.43 L475.39,319.34 L475.48,322.44 L475.57,315.49 L475.65,316.67 L475.74,315.79 L475.83,315.86 L475.91,314.41 L476.00,317.34 L476.09,311.37 L476.17,308.18 L476.26,306.46 L476.35,307.24 L476.43,308.69 L476.52,304.37 L476.61,300.77 L476.69,295.59 L476.78,299.09 L476.87,293.65 L476.95,290.21 L477.04,287.75 L477.13,286.67 L477.21,289.36 L477.30,280.12 L477.39,278.33 L477.47,274.74 L477.56,274.77 L477.65,270.91 L477.73,265.61 L477.82,268.62 L477.91,268.35 L477.99,269.64 L478.08,265.72 L478.17,271.36 L478.25,269.14 L478.34,267.85 L478.43,271.65 L478.51,272.67 L478.60,276.32 L478.69,277.02 L478.77,282.91 L478.86,285.29 L478.95,286.98 L479.03,293.44 L479.12,289.55 L479.21,296.39 L479.29,294.62 L479.38,296.17 L479.47,299.09 L479.55,302.69 L479.64,306.25 L479.73,311.05 L479.81,307.56 L479.90,310.84 L479.99,308.64 L480.07,314.13 L480.16,313.79 L480.25,317.19 L480.33,316.85 L480.42,319.58 L480.51,320.34 L480.59,324.71 L480.68,323.34 L480.77,323.05 L480.86,320.95 L480.94,323.49 L481.03,326.87 L481.12,321.66 L481.20,325.22 L481.29,323.52 L481.38,327.11 L481.46,331.26 L481.55,325.70 L481.64,325.45 L481.72,322.07 L481.81,324.65 L481.90,322.32 L481.98,322.11 L482.07,317.92 L482.16,318.67 L482.24,312.74 L482.33,312.40 L482.42,310.71 L482.50,311.13 L482.59,308.51 L482.68,305.47 L482.76,306.94 L482.85,300.88 L482.94,301.44 L483.02,296.71 L483.11,292.59 L483.20,291.70 L483.28,294.58 L483.37,287.70 L483.46,288.26 L483.54,285.96 L483.63,283.02 L483.72,282.23 L483.80,276.73 L483.89,275.84 L483.98,269.42 L484.06,268.43 L484.15,274.13 L484.24,270.92 L484.32,270.99 L484.41,270.34 L484.50,270.26 L484.58,268.54 L484.67,269.23 L484.76,273.27 L484.84,273.07 L484.93,274.87 L485.02,279.30 L485.10,279.60 L485.19,283.61 L485.28,288.01 L485.36,290.09 L485.45,291.65 L485.54,292.88 L485.62,295.78 L485.71,296.33 L485.80,298.05 L485.88,304.27 L485.97,306.48 L486.06,306.25 L486.14,306.93 L486.23,307.73 L486.32,309.85 L486.40,311.44 L486.49,315.91 L486.58,314.73 L486.66,318.00 L486.75,317.13 L486.84,317.29 L486.93,321.37 L487.01,321.44 L487.10,316.99 L487.19,323.97 L487.27,324.08 L487.36,325.70 L487.45,326.71 L487.53,322.13 L487.62,327.42 L487.71,326.98 L487.79,326.84 L487.88,330.14 L487.97,322.45 L488.05,324.14 L488.14,322.20 L488.23,318.36 L488.31,320.15 L488.40,318.36 L488.49,316.92 L488.57,313.34 L488.66,316.94 L488.75,313.81 L488.83,315.27 L488.92,309.21 L489.01,306.16 L489.09,306.33 L489.18,299.60 L489.27,299.52 L489.35,295.47 L489.44,296.75 L489.53,291.26 L489.61,293.45 L489.70,289.21 L489.79,287.29 L489.87,285.81 L489.96,279.14 L490.05,277.12 L490.13,278.29 L490.22,272.80 L490.31,271.09 L490.39,268.04 L490.48,266.26 L490.57,268.40 L490.65,267.04 L490.74,266.82 L490.83,268.58 L490.91,268.38 L491.00,265.70 L491.09,268.35 L491.17,266.70 L491.26,269.97 L491.35,278.32 L491.43,279.00 L491.52,286.18 L491.61,286.09 L491.69,289.07 L491.78,291.28 L491.87,296.36 L491.95,293.99 L492.04,296.49 L492.13,300.54 L492.21,301.24 L492.30,301.34 L492.39,301.99 L492.47,309.63 L492.56,305.77 L492.65,313.99 L492.73,313.93 L492.82,314.69 L492.91,312.43 L493.00,315.71 L493.08,317.10 L493.17,316.46 L493.26,320.24 L493.34,322.63 L493.43,319.87 L493.52,324.03 L493.60,326.83 L493.69,328.37 L493.78,325.18 L493.86,322.18 L493.95,315.93 L494.04,317.15 L494.12,314.59 L494.21,319.46 L494.30,315.18 L494.38,316.44 L494.47,311.98 L494.56,315.48 L494.64,311.36 L494.73,311.54 L494.82,310.81 L494.90,308.32 L494.99,308.68 L495.08,304.29 L495.16,306.10 L495.25,308.46 L495.34,299.83 L495.42,298.42 L495.51,298.33 L495.60,294.83 L495.68,294.35 L495.77,295.40 L495.86,295.79 L495.94,291.77 L496.03,288.17 L496.12,284.40 L496.20,285.93 L496.29,282.60 L496.38,275.48 L496.46,277.34 L496.55,274.88 L496.64,272.72 L496.72,265.04 L496.81,264.69 L496.90,264.48 L496.98,262.99 L497.07,264.33 L497.16,263.59 L497.24,265.48 L497.33,264.49 L497.42,264.96 L497.50,267.35 L497.59,273.66 L497.68,274.43 L497.76,277.28 L497.85,280.35 L497.94,281.62 L498.02,280.41 L498.11,284.44 L498.20,288.37 L498.28,290.13 L498.37,290.20 L498.46,297.39 L498.54,296.26 L498.63,295.71 L498.72,297.29 L498.80,300.82 L498.89,303.20 L498.98,309.43 L499.07,308.85 L499.15,309.03 L499.24,309.62 L499.33,310.88 L499.41,317.37 L499.50,315.11 L499.59,314.60 L499.67,317.61 L499.76,317.43 L499.85,316.79 L499.93,317.87 L500.02,318.69 L500.11,318.05 L500.19,317.60 L500.28,320.50 L500.37,337.46 L500.45,336.37 L500.54,335.39 L500.63,333.79 L500.71,335.75 L500.80,333.29 L500.89,331.17 L500.97,326.79 L501.06,327.04 L501.15,326.86 L501.23,323.27 L501.32,322.93 L501.41,321.04 L501.49,317.53 L501.58,316.95 L501.67,315.23 L501.75,311.95 L501.84,312.14 L501.93,308.63 L502.01,310.34 L502.10,304.55 L502.19,298.14 L502.27,299.12 L502.36,295.64 L502.45,293.60 L502.53,291.82 L502.62,285.86 L502.71,283.75 L502.79,278.41 L502.88,278.99 L502.97,273.86 L503.05,271.18 L503.14,268.18 L503.23,264.40 L503.31,267.91 L503.40,267.88 L503.49,261.58 L503.57,266.61 L503.66,266.86 L503.75,265.56 L503.83,270.16 L503.92,270.97 L504.01,277.29 L504.09,279.21 L504.18,282.61 L504.27,282.02 L504.35,286.45 L504.44,287.07 L504.53,290.29 L504.61,297.66 L504.70,298.03 L504.79,302.54 L504.87,305.50 L504.96,304.44 L505.05,306.38 L505.14,311.22 L505.22,313.04 L505.31,315.26 L505.40,317.24 L505.48,319.13 L505.57,323.62 L505.66,322.23 L505.74,326.39 L505.83,328.91 L505.92,328.32 L506.00,328.85 L506.09,328.96 L506.18,330.94 L506.26,332.07 L506.35,334.75 L506.44,333.37 L506.52,334.25 L506.61,334.42 L506.70,331.08 L506.78,326.08 L506.87,327.45 L506.96,326.99 L507.04,327.37 L507.13,327.21 L507.22,323.85 L507.30,327.08 L507.39,324.17 L507.48,322.49 L507.56,319.36 L507.65,319.50 L507.74,314.48 L507.82,318.87 L507.91,310.58 L508.00,311.05 L508.08,307.79 L508.17,308.47 L508.26,303.25 L508.34,303.57 L508.43,300.04 L508.52,300.92 L508.60,294.43 L508.69,292.59 L508.78,293.75 L508.86,287.48 L508.95,285.00 L509.04,279.81 L509.12,279.66 L509.21,274.84 L509.30,269.50 L509.38,270.40 L509.47,261.71 L509.56,262.89 L509.64,263.80 L509.73,266.00 L509.82,266.79 L509.90,261.49 L509.99,264.24 L510.08,264.54 L510.16,261.54 L510.25,265.69 L510.34,270.10 L510.42,276.44 L510.51,280.57 L510.60,278.06 L510.68,283.02 L510.77,286.40 L510.86,285.06 L510.94,292.39 L511.03,293.60 L511.12,292.77 L511.21,298.32 L511.29,303.03 L511.38,305.95 L511.47,304.22 L511.55,311.15 L511.64,309.21 L511.73,309.68 L511.81,314.90 L511.90,314.90 L511.99,318.06 L512.07,317.04 L512.16,320.75 L512.25,324.03 L512.33,323.25 L512.42,324.82 L512.51,327.35 L512.59,327.54 L512.68,330.21 L512.77,330.16 L512.85,327.79 L512.94,332.95 L513.03,324.88 L513.11,325.17 L513.20,325.91 L513.29,321.45 L513.37,322.11 L513.46,323.75 L513.55,321.24 L513.63,318.77 L513.72,322.42 L513.81,317.66 L513.89,317.17 L513.98,314.44 L514.07,309.54 L514.15,313.23 L514.24,310.88 L514.33,310.71 L514.41,306.05 L514.50,303.27 L514.59,307.18 L514.67,297.39 L514.76,294.91 L514.85,300.90 L514.93,296.27 L515.02,289.96 L515.11,288.18 L515.19,283.49 L515.28,283.65 L515.37,277.86 L515.45,280.23 L515.54,273.91 L515.63,272.63 L515.71,269.71 L515.80,269.19 L515.89,263.42 L515.97,259.94 L516.06,263.86 L516.15,263.05 L516.23,262.33 L516.32,264.46 L516.41,262.06 L516.49,261.48 L516.58,265.05 L516.67,271.22 L516.75,267.60 L516.84,273.36 L516.93,276.31 L517.01,279.42 L517.10,282.82 L517.19,287.50 L517.28,286.88 L517.36,288.93 L517.45,289.67 L517.54,290.70 L517.62,297.49 L517.71,295.08 L517.80,300.18 L517.88,301.27 L517.97,306.38 L518.06,305.64 L518.14,309.98 L518.23,308.60 L518.32,314.02 L518.40,313.10 L518.49,315.50 L518.58,315.41 L518.66,316.93 L518.75,318.34 L518.84,320.75 L518.92,319.11 L519.01,320.58 L519.10,324.00 L519.18,321.68 L519.27,324.89 L519.36,323.80 L519.44,339.58 L519.53,339.28 L519.62,337.05 L519.70,341.42 L519.79,334.61 L519.88,339.53 L519.96,332.55 L520.05,332.59 L520.14,335.18 L520.22,330.07 L520.31,329.73 L520.40,329.65 L520.48,323.11 L520.57,321.29 L520.66,320.61 L520.74,315.86 L520.83,316.51 L520.92,314.90 L521.00,309.27 L521.09,310.63 L521.18,304.88 L521.26,301.42 L521.35,300.22 L521.44,297.40 L521.52,293.52 L521.61,290.74 L521.70,289.25 L521.78,291.44 L521.87,281.93 L521.96,280.18 L522.04,271.70 L522.13,270.69 L522.22,265.44 L522.30,262.73 L522.39,262.19 L522.48,266.00 L522.56,259.96 L522.65,262.38 L522.74,262.91 L522.82,265.94 L522.91,261.12 L523.00,267.72 L523.08,270.68 L523.17,277.23 L523.26,276.63 L523.35,281.08 L523.43,287.70 L523.52,287.05 L523.61,296.39 L523.69,295.90 L523.78,299.53 L523.87,302.55 L523.95,308.30 L524.04,310.56 L524.13,310.80 L524.21,313.33 L524.30,318.15 L524.39,321.09 L524.47,324.03 L524.56,322.72 L524.65,327.84 L524.73,330.70 L524.82,335.31 L524.91,336.93 L524.99,337.36 L525.08,340.74 L525.17,339.02 L525.25,340.14 L525.34,342.68 L525.43,342.57 L525.51,342.78 L525.60,346.72 L525.69,342.34 L525.77,328.48 L525.86,319.11 L525.95,325.48 L526.03,322.06 L526.12,322.21 L526.21,320.04 L526.29,321.41 L526.38,317.93 L526.47,320.99 L526.55,315.27 L526.64,316.06 L526.73,313.42 L526.81,310.71 L526.90,313.51 L526.99,310.72 L527.07,309.33 L527.16,306.25 L527.25,303.86 L527.33,300.81 L527.42,299.76 L527.51,298.37 L527.59,294.79 L527.68,291.56 L527.77,289.32 L527.85,284.68 L527.94,287.50 L528.03,283.23 L528.11,283.64 L528.20,279.63 L528.29,274.26 L528.37,270.12 L528.46,270.59 L528.55,265.68 L528.63,263.79 L528.72,262.93 L528.81,263.49 L528.89,264.84 L528.98,268.28 L529.07,266.81 L529.15,263.12 L529.24,264.03 L529.33,262.28 L529.42,269.29 L529.50,270.58 L529.59,277.59 L529.68,280.86 L529.76,280.54 L529.85,280.39 L529.94,285.52 L530.02,289.52 L530.11,290.63 L530.20,292.66 L530.28,295.37 L530.37,298.51 L530.46,302.84 L530.54,305.16 L530.63,306.03 L530.72,307.28 L530.80,311.48 L530.89,307.62 L530.98,311.28 L531.06,315.10 L531.15,314.13 L531.24,312.33 L531.32,317.94 L531.41,319.23 L531.50,318.82 L531.58,324.51 L531.67,323.90 L531.76,325.12 L531.84,322.82 L531.93,328.14 L532.02,324.65 L532.10,326.43 L532.19,340.57 L532.28,340.71 L532.36,336.17 L532.45,339.93 L532.54,339.65 L532.62,335.65 L532.71,336.16 L532.80,332.69 L532.88,332.32 L532.97,330.53 L533.06,328.77 L533.14,330.33 L533.23,329.01 L533.32,319.12 L533.40,323.13 L533.49,317.57 L533.58,318.38 L533.66,313.89 L533.75,311.64 L533.84,305.63 L533.92,306.06 L534.01,305.77 L534.10,302.57 L534.18,296.16 L534.27,291.90 L534.36,286.44 L534.44,282.87 L534.53,286.32 L534.62,280.28 L534.70,278.82 L534.79,272.23 L534.88,267.44 L534.96,268.69 L535.05,262.39 L535.14,262.65 L535.22,264.54 L535.31,265.21 L535.40,260.82 L535.49,264.33 L535.57,266.15 L535.66,265.29 L535.75,267.34 L535.83,271.77 L535.92,280.58 L536.01,283.00 L536.09,284.67 L536.18,287.00 L536.27,290.32 L536.35,296.28 L536.44,295.21 L536.53,299.13 L536.61,306.06 L536.70,307.74 L536.79,308.86 L536.87,314.27 L536.96,313.84 L537.05,316.04 L537.13,319.60 L537.22,319.90 L537.31,319.67 L537.39,326.52 L537.48,326.26 L537.57,329.89 L537.65,327.76 L537.74,329.90 L537.83,333.80 L537.91,336.35 L538.00,334.86 L538.09,337.59 L538.17,340.78 L538.26,341.13 L538.35,340.10 L538.43,335.96 L538.52,333.14 L538.61,332.32 L538.69,332.71 L538.78,331.22 L538.87,330.19 L538.95,334.32 L539.04,329.92 L539.13,328.68 L539.21,327.61 L539.30,326.32 L539.39,330.46 L539.47,323.55 L539.56,324.76 L539.65,318.40 L539.73,319.27 L539.82,316.71 L539.91,314.10 L539.99,315.67 L540.08,309.66 L540.17,309.31 L540.25,302.43 L540.34,302.65 L540.43,301.07 L540.51,293.62 L540.60,293.67 L540.69,291.96 L540.77,287.17 L540.86,284.16 L540.95,280.05 L541.03,279.08 L541.12,271.62 L541.21,269.54 L541.29,263.41 L541.38,262.87 L541.47,265.85 L541.56,261.90 L541.64,264.45 L541.73,263.75 L541.82,268.70 L541.90,266.36 L541.99,261.28 L542.08,265.30 L542.16,274.44 L542.25,273.91 L542.34,277.33 L542.42,278.94 L542.51,286.75 L542.60,291.20 L542.68,290.35 L542.77,295.27 L542.86,298.08 L542.94,301.53 L543.03,300.17 L543.12,306.93 L543.20,305.99 L543.29,309.16 L543.38,314.03 L543.46,313.16 L543.55,314.81 L543.64,318.67 L543.72,321.81 L543.81,321.79 L543.90,326.49 L543.98,325.77 L544.07,325.33 L544.16,332.36 L544.24,334.58 L544.33,330.88 L544.42,335.08 L544.50,335.19 L544.59,334.81 L544.68,336.92 L544.76,335.93 L544.85,338.29 L544.94,322.13 L545.02,320.93 L545.11,319.19 L545.20,320.44 L545.28,318.21 L545.37,316.82 L545.46,316.03 L545.54,316.14 L545.63,312.20 L545.72,314.93 L545.80,310.02 L545.89,308.64 L545.98,307.28 L546.06,308.34 L546.15,303.74 L546.24,302.85 L546.32,304.04 L546.41,300.48 L546.50,300.36 L546.58,294.94 L546.67,290.76 L546.76,289.37 L546.84,290.71 L546.93,288.28 L547.02,284.19 L547.10,281.53 L547.19,277.14 L547.28,276.46 L547.36,270.86 L547.45,271.19 L547.54,265.23 L547.63,267.02 L547.71,262.21 L547.80,260.67 L547.89,259.14 L547.97,259.72 L548.06,262.40 L548.15,263.24 L548.23,260.77 L548.32,260.89 L548.41,263.11 L548.49,265.43 L548.58,270.93 L548.67,270.29 L548.75,272.19 L548.84,278.60 L548.93,281.23 L549.01,279.84 L549.10,282.70 L549.19,288.79 L549.27,290.99 L549.36,295.39 L549.45,293.34 L549.53,296.09 L549.62,298.53 L549.71,296.27 L549.79,302.93 L549.88,304.68 L549.97,305.75 L550.05,308.32 L550.14,307.43 L550.23,311.42 L550.31,312.30 L550.40,309.55 L550.49,316.26 L550.57,318.61 L550.66,317.04 L550.75,319.48 L550.83,320.35 L550.92,319.41 L551.01,318.78 L551.09,323.82 L551.18,321.52 L551.27,345.47 L551.35,339.32 L551.44,342.51 L551.53,338.51 L551.61,335.35 L551.70,335.13 L551.79,335.67 L551.87,338.93 L551.96,329.91 L552.05,332.71 L552.13,328.58 L552.22,329.18 L552.31,326.64 L552.39,320.91 L552.48,324.96 L552.57,321.76 L552.65,317.46 L552.74,312.25 L552.83,316.43 L552.91,306.36 L553.00,306.68 L553.09,301.53 L553.17,294.69 L553.26,295.57 L553.35,291.13 L553.43,287.19 L553.52,286.93 L553.61,282.49 L553.70,279.41 L553.78,274.89 L553.87,272.03 L553.96,268.50 L554.04,264.63 L554.13,259.71 L554.22,263.77 L554.30,260.99 L554.39,258.54 L554.48,263.89 L554.56,264.60 L554.65,259.90 L554.74,263.19 L554.82,267.14 L554.91,268.48 L555.00,273.03 L555.08,278.76 L555.17,281.80 L555.26,287.66 L555.34,289.46 L555.43,291.93 L555.52,294.06 L555.60,297.23 L555.69,298.16 L555.78,304.72 L555.86,305.60 L555.95,309.86 L556.04,315.03 L556.12,315.16 L556.21,317.63 L556.30,319.43 L556.38,322.11 L556.47,325.04 L556.56,329.14 L556.64,330.00 L556.73,330.72 L556.82,331.77 L556.90,333.08 L556.99,335.44 L557.08,336.25 L557.16,335.92 L557.25,339.34 L557.34,341.65 L557.42,344.06 L557.51,341.74 L557.60,338.81 L557.68,340.54 L557.77,336.53 L557.86,340.45 L557.94,338.70 L558.03,337.11 L558.12,338.34 L558.20,332.76 L558.29,334.79 L558.38,334.13 L558.46,333.77 L558.55,326.71 L558.64,324.17 L558.72,326.63 L558.81,325.34 L558.90,321.27 L558.98,318.12 L559.07,316.73 L559.16,312.25 L559.24,312.61 L559.33,303.85 L559.42,304.33 L559.50,300.15 L559.59,299.87 L559.68,294.12 L559.77,289.56 L559.85,290.87 L559.94,285.83 L560.03,280.66 L560.11,278.22 L560.20,276.99 L560.29,272.51 L560.37,266.64 L560.46,263.29 L560.55,265.21 L560.63,263.29 L560.72,268.23 L560.81,263.79 L560.89,262.08 L560.98,262.14 L561.07,264.77 L561.15,266.14 L561.24,270.08 L561.33,274.56 L561.41,279.63 L561.50,284.49 L561.59,286.47 L561.67,291.17 L561.76,296.30 L561.85,293.21 L561.93,301.61 L562.02,303.20 L562.11,306.25 L562.19,311.34 L562.28,310.18 L562.37,316.89 L562.45,312.81 L562.54,321.48 L562.63,322.76 L562.71,323.87 L562.80,326.02 L562.89,327.86 L562.97,327.65 L563.06,328.99 L563.15,328.67 L563.23,336.92 L563.32,333.98 L563.41,336.04 L563.49,339.14 L563.58,342.17 L563.67,335.85 L563.75,338.92 L563.84,345.31 L563.93,339.22 L564.01,327.79 L564.10,327.95 L564.19,326.40 L564.27,328.52 L564.36,326.83 L564.45,323.81 L564.53,326.92 L564.62,326.19 L564.71,325.56 L564.79,319.43 L564.88,321.50 L564.97,318.55 L565.05,317.17 L565.14,313.26 L565.23,311.83 L565.31,312.14 L565.40,305.75 L565.49,305.48 L565.57,303.39 L565.66,302.57 L565.75,299.95 L565.84,297.26 L565.92,294.12 L566.01,290.63 L566.10,287.84 L566.18,286.32 L566.27,283.12 L566.36,278.47 L566.44,274.40 L566.53,271.10 L566.62,270.31 L566.70,269.38 L566.79,263.16 L566.88,261.74 L566.96,261.91 L567.05,261.07 L567.14,263.05 L567.22,261.85 L567.31,266.59 L567.40,258.63 L567.48,262.92 L567.57,267.08 L567.66,268.84 L567.74,273.67 L567.83,277.86 L567.92,277.99 L568.00,282.60 L568.09,287.07 L568.18,287.35 L568.26,290.70 L568.35,293.62 L568.44,297.66 L568.52,297.61 L568.61,304.00 L568.70,303.07 L568.78,304.12 L568.87,311.14 L568.96,311.12 L569.04,317.16 L569.13,315.62 L569.22,320.93 L569.30,322.02 L569.39,320.73 L569.48,320.61 L569.56,323.22 L569.65,326.00 L569.74,328.36 L569.82,327.93 L569.91,324.28 L570.00,327.09 L570.08,333.18 L570.17,332.54 L570.26,334.33 L570.34,346.84 L570.43,348.22 L570.52,350.12 L570.60,346.72 L570.69,346.39 L570.78,346.40 L570.86,343.75 L570.95,339.94 L571.04,341.87 L571.12,339.04 L571.21,339.27 L571.30,335.31 L571.38,329.72 L571.47,329.08 L571.56,329.16 L571.64,326.46 L571.73,320.23 L571.82,320.21 L571.91,318.11 L571.99,311.92 L572.08,311.87 L572.17,309.31 L572.25,303.82 L572.34,303.76 L572.43,298.57 L572.51,295.65 L572.60,290.15 L572.69,286.84 L572.77,279.16 L572.86,277.38 L572.95,274.57 L573.03,269.31 L573.12,266.56 L573.21,262.00 L573.29,261.36 L573.38,261.60 L573.47,259.76 L573.55,261.41 L573.64,263.87 L573.73,261.98 L573.81,264.70 L573.90,262.20 L573.99,274.08 L574.07,274.89 L574.16,277.77 L574.25,284.58 L574.33,287.52 L574.42,288.52 L574.51,296.60 L574.59,296.06 L574.68,301.82 L574.77,305.49 L574.85,304.25 L574.94,309.78 L575.03,313.63 L575.11,317.87 L575.20,319.90 L575.29,323.33 L575.37,322.10 L575.46,327.79 L575.55,332.01 L575.63,333.85 L575.72,334.24 L575.81,339.20 L575.89,340.38 L575.98,343.75 L576.07,346.68 L576.15,339.20 L576.24,345.29 L576.33,342.52 L576.41,345.78 L576.50,347.05 L576.59,350.28 L576.67,348.48 L576.76,343.97 L576.85,345.58 L576.93,341.74 L577.02,339.84 L577.11,340.26 L577.19,339.54 L577.28,341.92 L577.37,331.67 L577.45,333.95 L577.54,335.93 L577.63,333.97 L577.71,331.00 L577.80,329.47 L577.89,325.18 L577.98,324.55 L578.06,320.13 L578.15,318.65 L578.24,315.58 L578.32,314.54 L578.41,308.97 L578.50,305.78 L578.58,304.76 L578.67,303.18 L578.76,296.53 L578.84,296.74 L578.93,291.29 L579.02,285.25 L579.10,280.03 L579.19,279.26 L579.28,274.20 L579.36,268.39 L579.45,268.93 L579.54,263.60 L579.62,261.16 L579.71,259.17 L579.80,264.09 L579.88,264.17 L579.97,259.95 L580.06,259.51 L580.14,263.12 L580.23,263.48 L580.32,265.85 L580.40,272.18 L580.49,279.42 L580.58,279.13 L580.66,281.43 L580.75,289.39 L580.84,287.93 L580.92,294.53 L581.01,300.77 L581.10,300.08 L581.18,306.61 L581.27,303.99 L581.36,308.64 L581.44,308.92 L581.53,318.39 L581.62,317.47 L581.70,317.37 L581.79,320.23 L581.88,323.59 L581.96,326.25 L582.05,327.74 L582.14,328.92 L582.22,329.15 L582.31,337.77 L582.40,337.88 L582.48,338.45 L582.57,338.20 L582.66,338.97 L582.74,341.40 L582.83,341.66 L582.92,340.63 L583.00,340.19 L583.09,338.19 L583.18,336.87 L583.26,335.76 L583.35,330.33 L583.44,335.69 L583.52,332.83 L583.61,332.23 L583.70,331.92 L583.78,327.90 L583.87,328.41 L583.96,327.62 L584.05,324.82 L584.13,322.62 L584.22,322.47 L584.31,320.64 L584.39,314.87 L584.48,315.99 L584.57,310.72 L584.65,310.41 L584.74,309.24 L584.83,307.20 L584.91,305.61 L585.00,298.16 L585.09,295.36 L585.17,294.48 L585.26,292.72 L585.35,288.55 L585.43,283.97 L585.52,278.49 L585.61,278.83 L585.69,277.38 L585.78,270.10 L585.87,267.61 L585.95,266.04 L586.04,268.08 L586.13,263.34 L586.21,261.73 L586.30,266.53 L586.39,267.49 L586.47,265.67 L586.56,265.22 L586.65,267.28 L586.73,271.79 L586.82,278.90 L586.91,278.54 L586.99,281.92 L587.08,286.88 L587.17,288.51 L587.25,294.91 L587.34,296.01 L587.43,300.98 L587.51,301.23 L587.60,302.53 L587.69,310.57 L587.77,309.30 L587.86,310.45 L587.95,313.83 L588.03,313.48 L588.12,318.99 L588.21,316.76 L588.29,322.82 L588.38,327.30 L588.47,327.02 L588.55,329.76 L588.64,327.67 L588.73,328.31 L588.81,329.49 L588.90,332.58 L588.99,335.49 L589.07,337.37 L589.16,339.30 L589.25,336.46 L589.33,340.75 L589.42,339.08 L589.51,338.41 L589.59,337.64 L589.68,340.70 L589.77,339.71 L589.85,338.73 L589.94,333.77 L590.03,336.54 L590.12,334.84 L590.20,330.51 L590.29,328.36 L590.38,324.88 L590.46,326.85 L590.55,323.17 L590.64,326.52 L590.72,319.77 L590.81,317.16 L590.90,314.69 L590.98,315.16 L591.07,309.00 L591.16,306.06 L591.24,306.57 L591.33,303.76 L591.42,301.71 L591.50,298.74 L591.59,295.16 L591.68,294.59 L591.76,291.59 L591.85,286.21 L591.94,283.37 L592.02,277.05 L592.11,275.84 L592.20,273.71 L592.28,271.64 L592.37,268.48 L592.46,269.97 L592.54,271.45 L592.63,264.26 L592.72,271.81 L592.80,264.84 L592.89,262.11 L592.98,270.04 L593.06,274.88 L593.15,276.36 L593.24,283.03 L593.32,284.41 L593.41,286.72 L593.50,294.03 L593.58,291.81 L593.67,297.86 L593.76,300.53 L593.84,301.52 L593.93,309.76 L594.02,312.30 L594.10,312.01 L594.19,314.49 L594.28,318.24 L594.36,320.44 L594.45,323.06 L594.54,326.72 L594.62,329.56 L594.71,330.49 L594.80,330.75 L594.88,331.97 L594.97,336.99 L595.06,332.75 L595.14,333.04 L595.23,338.57 L595.32,341.77 L595.40,341.61 L595.49,340.62 L595.58,343.10 L595.66,339.80 L595.75,344.41 L595.84,341.28 L595.92,341.92 L596.01,337.95 L596.10,340.88 L596.19,339.94 L596.27,341.57 L596.36,339.31 L596.45,340.17 L596.53,329.94 L596.62,334.66 L596.71,333.58 L596.79,331.43 L596.88,328.91 L596.97,326.69 L597.05,329.24 L597.14,321.16 L597.23,321.32 L597.31,319.25 L597.40,313.23 L597.49,313.73 L597.57,313.21 L597.66,310.68 L597.75,304.71 L597.83,303.26 L597.92,300.17 L598.01,299.94 L598.09,293.99 L598.18,292.44 L598.27,289.43 L598.35,281.99 L598.44,280.51 L598.53,278.11 L598.61,272.03 L598.70,268.39 L598.79,275.09 L598.87,270.33 L598.96,271.73 L599.05,272.44 L599.13,269.59 L599.22,270.74 L599.31,273.82 L599.39,274.19 L599.48,280.68 L599.57,283.90 L599.65,289.93 L599.74,290.67 L599.83,292.90 L599.91,297.94 L600.00,300.38 L600.09,301.00 L600.17,306.76 L600.26,310.58 L600.35,308.80 L600.43,316.23 L600.52,322.13 L600.61,322.48 L600.69,322.89 L600.78,327.07 L600.87,329.17 L600.95,330.01 L601.04,331.42 L601.13,333.47 L601.21,334.80 L601.30,334.33 L601.39,331.58 L601.47,337.18 L601.56,339.53 L601.65,343.39 L601.73,342.96 L601.82,346.16 L601.91,344.92 L601.99,347.66 L602.08,343.84 L602.17,343.20 L602.26,345.25 L602.34,341.49 L602.43,348.30 L602.52,343.62 L602.60,344.64 L602.69,343.01 L602.78,344.26 L602.86,340.94 L602.95,339.59 L603.04,339.21 L603.12,333.93 L603.21,332.90 L603.30,330.16 L603.38,331.54 L603.47,329.70 L603.56,328.51 L603.64,322.31 L603.73,319.67 L603.82,319.16 L603.90,317.94 L603.99,313.72 L604.08,310.22 L604.16,307.34 L604.25,305.98 L604.34,300.31 L604.42,296.91 L604.51,298.05 L604.60,292.46 L604.68,289.62 L604.77,288.92 L604.86,284.03 L604.94,278.88 L605.03,273.62 L605.12,277.46 L605.20,276.92 L605.29,276.69 L605.38,277.22 L605.46,279.32 L605.55,274.98 L605.64,277.17 L605.72,278.57 L605.81,281.87 L605.90,287.73 L605.98,292.37 L606.07,295.33 L606.16,298.38 L606.24,302.33 L606.33,304.55 L606.42,309.88 L606.50,311.04 L606.59,314.30 L606.68,315.52 L606.76,317.81 L606.85,317.94 L606.94,321.73 L607.02,325.20 L607.11,328.91 L607.20,331.09 L607.28,332.69 L607.37,335.93 L607.46,337.41 L607.54,341.02 L607.63,340.40 L607.72,344.56 L607.80,345.25 L607.89,346.82 L607.98,342.10 L608.06,347.98 L608.15,347.36 L608.24,352.56 L608.33,349.75 L608.41,352.00 L608.50,349.97 L608.59,348.00 L608.67,349.22 L608.76,345.08 L608.85,345.89 L608.93,347.81 L609.02,344.58 L609.11,345.25 L609.19,340.96 L609.28,340.94 L609.37,339.08 L609.45,340.21 L609.54,334.23 L609.63,336.34 L609.71,332.91 L609.80,332.15 L609.89,329.63 L609.97,330.17 L610.06,325.57 L610.15,322.79 L610.23,323.79 L610.32,316.98 L610.41,318.50 L610.49,315.17 L610.58,312.76 L610.67,306.63 L610.75,307.18 L610.84,304.22 L610.93,299.87 L611.01,297.27 L611.10,292.32 L611.19,292.27 L611.27,289.47 L611.36,286.59 L611.45,285.42 L611.53,282.61 L611.62,283.12 L611.71,284.88 L611.79,284.59 L611.88,288.80 L611.97,283.06 L612.05,284.91 L612.14,293.41 L612.23,293.82 L612.31,296.26 L612.40,296.55 L612.49,302.02 L612.57,303.21 L612.66,305.58 L612.75,310.17 L612.83,316.28 L612.92,319.79 L613.01,320.46 L613.09,320.98 L613.18,324.15 L613.27,329.94 L613.35,328.34 L613.44,333.74 L613.53,334.90 L613.61,334.23 L613.70,337.92 L613.79,341.06 L613.87,343.29 L613.96,343.35 L614.05,344.52 L614.13,346.81 L614.22,349.38 L614.31,348.22 L614.40,348.62 L614.48,353.45 L614.57,350.91 L614.66,354.10 L614.74,354.00 L614.83,352.08 L614.92,357.83 L615.00,355.55 L615.09,351.70 L615.18,351.70 L615.26,355.02 L615.35,355.30 L615.44,349.90 L615.52,350.93 L615.61,349.81 L615.70,352.18 L615.78,347.75 L615.87,349.58 L615.96,345.69 L616.04,340.08 L616.13,339.63 L616.22,337.28 L616.30,338.48 L616.39,335.99 L616.48,335.58 L616.56,328.90 L616.65,331.75 L616.74,331.36 L616.82,327.30 L616.91,322.06 L617.00,322.79 L617.08,318.99 L617.17,319.68 L617.26,315.64 L617.34,314.32 L617.43,311.30 L617.52,306.87 L617.60,302.44 L617.69,296.96 L617.78,297.29 L617.86,300.68 L617.95,300.88 L618.04,301.88 L618.12,299.31 L618.21,301.16 L618.30,299.88 L618.38,301.82 L618.47,299.36 L618.56,306.18 L618.64,307.25 L618.73,312.29 L618.82,310.26 L618.90,320.36 L618.99,319.32 L619.08,320.40 L619.16,325.80 L619.25,326.45 L619.34,330.92 L619.42,331.06 L619.51,335.68 L619.60,334.49 L619.68,343.16 L619.77,340.72 L619.86,345.25 L619.94,347.07 L620.03,347.01 L620.12,351.17 L620.20,352.96 L620.29,352.15 L620.38,357.01 L620.47,356.75 L620.55,355.58 L620.64,360.47 L620.73,357.62 L620.81,363.15 L620.90,361.47 L620.99,362.60 L621.07,366.18 L621.16,362.44 L621.25,367.09 L621.33,362.87 L621.42,362.41 L621.51,366.32 L621.59,364.44 L621.68,364.33 L621.77,366.06 L621.85,364.04 L621.94,361.57 L622.03,360.40 L622.11,356.78 L622.20,358.90 L622.29,357.72 L622.37,353.87 L622.46,352.14 L622.55,352.52 L622.63,349.93 L622.72,349.71 L622.81,347.03 L622.89,348.94 L622.98,346.23 L623.07,338.98 L623.15,339.76 L623.24,338.40 L623.33,332.94 L623.41,327.47 L623.50,327.02 L623.59,325.65 L623.67,323.84 L623.76,317.56 L623.85,314.96 L623.93,315.06 L624.02,313.30 L624.11,309.45 L624.19,308.02 L624.28,309.48 L624.37,310.31 L624.45,310.63 L624.54,312.44 L624.63,310.24 L624.71,309.30 L624.80,313.90 L624.89,316.20 L624.97,315.70 L625.06,322.24 L625.15,322.86 L625.23,328.66 L625.32,333.13 L625.41,331.37 L625.49,333.55 L625.58,336.91 L625.67,339.98 L625.75,339.49 L625.84,345.28 L625.93,348.53 L626.01,348.70 L626.10,349.27 L626.19,352.71 L626.27,353.32 L626.36,354.21 L626.45,360.53 L626.54,360.97 L626.62,362.85 L626.71,362.73 L626.80,368.44 L626.88,364.78 L626.97,370.60 L627.06,368.31 L627.14,370.72 L627.23,371.89 L627.32,370.75 L627.40,374.90 L627.49,371.91 L627.58,374.06 L627.66,378.93 L627.75,374.18 L627.84,378.12 L627.92,374.05 L628.01,375.36 L628.10,374.53 L628.18,370.25 L628.27,371.33 L628.36,371.23 L628.44,367.87 L628.53,369.16 L628.62,363.78 L628.70,366.53 L628.79,362.72 L628.88,363.17 L628.96,358.95 L629.05,360.15 L629.14,356.70 L629.22,353.13 L629.31,354.94 L629.40,350.64 L629.48,347.24 L629.57,346.66 L629.66,344.00 L629.74,339.54 L629.83,336.66 L629.92,338.76 L630.00,334.78 L630.09,335.37 L630.18,327.61 L630.26,323.45 L630.35,323.37 L630.44,321.01 L630.52,315.87 L630.61,317.85 L630.70,312.98 L630.78,314.21 L630.87,320.75 L630.96,315.96 L631.04,316.11 L631.13,316.13 L631.22,320.81 L631.30,326.74 L631.39,326.82 L631.48,331.09 L631.56,329.57 L631.65,334.76 L631.74,336.23 L631.82,343.42 L631.91,344.04 L632.00,347.06 L632.08,350.83 L632.17,352.42 L632.26,356.86 L632.34,355.90 L632.43,360.06 L632.52,360.15 L632.61,361.66 L632.69,364.82 L632.78,367.53 L632.87,366.31 L632.95,367.99 L633.04,372.02 L633.13,370.52 L633.21,378.95 L633.30,374.83 L633.39,375.36 L633.47,377.37 L633.56,381.45 L633.65,379.07 L633.73,377.91 L633.82,379.72 L633.91,383.22 L633.99,380.76 L634.08,377.46 L634.17,378.06 L634.25,377.17 L634.34,379.59 L634.43,377.31 L634.51,378.01 L634.60,377.22 L634.69,378.12 L634.77,374.92 L634.86,371.80 L634.95,372.26 L635.03,374.71 L635.12,368.61 L635.21,370.35 L635.29,365.62 L635.38,366.52 L635.47,360.22 L635.55,361.82 L635.64,357.54 L635.73,360.35 L635.81,355.95 L635.90,353.27 L635.99,354.10 L636.07,350.29 L636.16,347.96 L636.25,344.41 L636.33,342.08 L636.42,342.95 L636.51,334.98 L636.59,333.47 L636.68,333.22 L636.77,327.50 L636.85,327.08 L636.94,327.63 L637.03,329.20 L637.11,331.79 L637.20,326.27 L637.29,324.75 L637.37,325.83 L637.46,325.94 L637.55,325.13 L637.63,334.63 L637.72,333.22 L637.81,333.48 L637.89,340.29 L637.98,338.91 L638.07,345.79 L638.15,348.77 L638.24,353.78 L638.33,351.32 L638.41,353.10 L638.50,355.78 L638.59,358.60 L638.68,359.67 L638.76,363.44 L638.85,368.32 L638.94,366.30 L639.02,367.55 L639.11,365.04 L639.20,372.78 L639.28,373.19 L639.37,378.30 L639.46,379.72 L639.54,379.81 L639.63,375.93 L639.72,379.62 L639.80,380.76 L639.89,382.82 L639.98,382.17 L640.06,381.64 L640.15,382.77 L640.24,384.51 L640.32,384.32 L640.41,385.18 L640.50,384.38 L640.58,384.64 L640.67,385.42 L640.76,386.97 L640.84,383.31 L640.93,382.69 L641.02,381.99 L641.10,381.60 L641.19,381.88 L641.28,376.43 L641.36,378.47 L641.45,375.95 L641.54,375.29 L641.62,375.32 L641.71,369.90 L641.80,372.53 L641.88,367.81 L641.97,366.75 L642.06,363.99 L642.14,363.99 L642.23,358.02 L642.32,355.35 L642.40,354.30 L642.49,354.33 L642.58,353.64 L642.66,344.73 L642.75,349.99 L642.84,346.02 L642.92,340.41 L643.01,337.44 L643.10,337.98 L643.18,332.03 L643.27,334.26 L643.36,330.23 L643.44,330.88 L643.53,331.73 L643.62,329.68 L643.70,331.18 L643.79,336.40 L643.88,330.84 L643.96,334.72 L644.05,336.20 L644.14,341.24 L644.22,342.00 L644.31,346.74 L644.40,347.77 L644.48,349.34 L644.57,354.54 L644.66,357.03 L644.75,357.97 L644.83,358.72 L644.92,361.65 L645.01,364.08 L645.09,365.05 L645.18,367.54 L645.27,372.06 L645.35,369.23 L645.44,371.02 L645.53,373.01 L645.61,379.84 L645.70,375.60 L645.79,381.42 L645.87,380.58 L645.96,382.11 L646.05,379.66 L646.13,381.93 L646.22,384.70 L646.31,384.55 L646.39,387.31 L646.48,388.78 L646.57,385.89 L646.65,385.96 L646.74,385.46 L646.83,382.36 L646.91,381.58 L647.00,385.44 L647.09,383.51 L647.17,382.40 L647.26,386.26 L647.35,379.52 L647.43,378.91 L647.52,379.04 L647.61,378.75 L647.69,378.25 L647.78,373.64 L647.87,376.18 L647.95,372.83 L648.04,372.33 L648.13,368.17 L648.21,366.25 L648.30,367.19 L648.39,365.74 L648.47,366.35 L648.56,364.24 L648.65,359.68 L648.73,357.62 L648.82,356.43 L648.91,356.78 L648.99,354.24 L649.08,355.85 L649.17,348.48 L649.25,350.85 L649.34,347.45 L649.43,343.36 L649.51,337.23 L649.60,339.18 L649.69,335.78 L649.77,333.34 L649.86,335.76 L649.95,336.09 L650.03,339.58 L650.12,338.00 L650.21,340.63 L650.29,338.08 L650.38,340.70 L650.47,341.43 L650.55,346.39 L650.64,348.14 L650.73,352.65 L650.82,352.34 L650.90,352.90 L650.99,356.31 L651.08,357.66 L651.16,360.92 L651.25,362.01 L651.34,364.45 L651.42,368.05 L651.51,368.18 L651.60,368.17 L651.68,370.45 L651.77,372.77 L651.86,375.59 L651.94,374.22 L652.03,377.46 L652.12,378.01 L652.20,377.47 L652.29,377.65 L652.38,381.72 L652.46,382.26 L652.55,380.82 L652.64,383.50 L652.72,380.25 L652.81,382.17 L652.90,384.27 L652.98,386.82 L653.07,383.29 L653.16,386.61 L653.24,389.61 L653.33,388.07 L653.42,386.21 L653.50,383.99 L653.59,388.40 L653.68,384.09 L653.76,382.74 L653.85,377.79 L653.94,380.56 L654.02,379.57 L654.11,378.89 L654.20,376.95 L654.28,375.15 L654.37,375.37 L654.46,372.59 L654.54,368.43 L654.63,370.96 L654.72,367.67 L654.80,363.52 L654.89,366.92 L654.98,363.73 L655.06,363.08 L655.15,358.32 L655.24,355.88 L655.32,355.15 L655.41,354.02 L655.50,352.02 L655.58,349.36 L655.67,345.36 L655.76,344.52 L655.84,340.05 L655.93,336.75 L656.02,340.32 L656.10,336.56 L656.19,337.27 L656.28,339.94 L656.36,344.32 L656.45,341.79 L656.54,338.52 L656.62,344.29 L656.71,340.56 L656.80,347.12 L656.89,347.27 L656.97,351.28 L657.06,352.99 L657.15,353.90 L657.23,358.70 L657.32,358.91 L657.41,361.42 L657.49,360.84 L657.58,366.04 L657.67,361.90 L657.75,364.29 L657.84,371.60 L657.93,373.30 L658.01,373.40 L658.10,373.20 L658.19,374.11 L658.27,375.32 L658.36,376.23 L658.45,379.19 L658.53,382.44 L658.62,383.06 L658.71,383.00 L658.79,384.68 L658.88,379.41 L658.97,385.58 L659.05,383.03 L659.14,384.52 L659.23,388.05 L659.31,389.39 L659.40,387.69 L659.49,384.26 L659.57,385.37 L659.66,382.36 L659.75,385.29 L659.83,384.84 L659.92,382.52 L660.01,378.57 L660.09,380.12 L660.18,377.36 L660.27,380.84 L660.35,376.95 L660.44,377.13 L660.53,372.24 L660.61,376.55 L660.70,374.17 L660.79,374.97 L660.87,374.25 L660.96,369.21 L661.05,368.19 L661.13,369.60 L661.22,364.35 L661.31,364.80 L661.39,362.91 L661.48,357.64 L661.57,357.97 L661.65,355.51 L661.74,352.84 L661.83,353.27 L661.91,352.52 L662.00,347.13 L662.09,344.63 L662.17,348.71 L662.26,345.39 L662.35,343.60 L662.43,343.67 L662.52,339.62 L662.61,342.72 L662.69,342.61 L662.78,341.73 L662.87,341.05 L662.96,342.25 L663.04,343.46 L663.13,349.02 L663.22,348.28 L663.30,352.10 L663.39,352.62 L663.48,352.03 L663.56,355.71 L663.65,358.44 L663.74,357.61 L663.82,358.42 L663.91,362.42 L664.00,366.57 L664.08,363.96 L664.17,368.21 L664.26,371.56 L664.34,370.29 L664.43,373.95 L664.52,375.15 L664.60,377.57 L664.69,378.50 L664.78,376.46 L664.86,383.64 L664.95,378.70 L665.04,379.16 L665.12,380.26 L665.21,382.52 L665.30,385.43 L665.38,383.85 L665.47,383.09 L665.56,382.21 L665.64,384.96 L665.73,389.18 L665.82,387.02 L665.90,386.90 L665.99,383.37 L666.08,383.56 L666.16,383.63 L666.25,383.82 L666.34,386.30 L666.42,382.71 L666.51,379.44 L666.60,382.60 L666.68,381.49 L666.77,381.53 L666.86,378.73 L666.94,376.22 L667.03,379.25 L667.12,373.83 L667.20,375.26 L667.29,367.76 L667.38,371.36 L667.46,368.57 L667.55,371.20 L667.64,364.48 L667.72,364.59 L667.81,363.93 L667.90,358.68 L667.98,360.02 L668.07,358.82 L668.16,353.48 L668.24,355.31 L668.33,351.33 L668.42,351.84 L668.50,350.74 L668.59,343.64 L668.68,343.84 L668.76,342.15 L668.85,342.32 L668.94,343.98 L669.03,343.21 L669.11,345.08 L669.20,345.12 L669.29,343.47 L669.37,349.13 L669.46,347.35 L669.55,351.17 L669.63,351.26 L669.72,355.25 L669.81,352.54 L669.89,355.58 L669.98,359.92 L670.07,359.05 L670.15,365.79 L670.24,366.47 L670.33,364.11 L670.41,363.50 L670.50,368.28 L670.59,368.13 L670.67,370.56 L670.76,369.11 L670.85,374.53 L670.93,377.79 L671.02,377.38 L671.11,376.79 L671.19,376.88 L671.28,380.23 L671.37,377.70 L671.45,383.65 L671.54,381.06 L671.63,384.17 L671.71,383.64 L671.80,384.50 L671.89,381.77 L671.97,381.18 L672.06,388.80 L672.15,385.45 L672.23,386.40 L672.32,388.56 L672.41,386.80 L672.49,386.29 L672.58,384.11 L672.67,386.55 L672.75,382.85 L672.84,384.00 L672.93,382.68 L673.01,383.15 L673.10,381.16 L673.19,379.74 L673.27,373.96 L673.36,375.79 L673.45,375.69 L673.53,374.93 L673.62,375.34 L673.71,370.35 L673.79,373.31 L673.88,370.97 L673.97,366.34 L674.05,367.54 L674.14,366.60 L674.23,357.83 L674.31,363.26 L674.40,360.19 L674.49,360.25 L674.57,355.47 L674.66,351.81 L674.75,346.80 L674.83,347.24 L674.92,346.57 L675.01,345.54 L675.10,341.88 L675.18,344.27 L675.27,342.95 L675.36,346.86 L675.44,343.07 L675.53,346.78 L675.62,344.84 L675.70,347.74 L675.79,348.87 L675.88,345.68 L675.96,350.12 L676.05,354.62 L676.14,352.36 L676.22,360.62 L676.31,358.72 L676.40,362.85 L676.48,361.05 L676.57,362.26 L676.66,366.20 L676.74,367.98 L676.83,370.11 L676.92,368.37 L677.00,371.31 L677.09,369.38 L677.18,373.88 L677.26,375.46 L677.35,378.98 L677.44,380.22 L677.52,377.97 L677.61,380.91 L677.70,379.30 L677.78,381.03 L677.87,384.19 L677.96,384.63 L678.04,382.44 L678.13,383.38 L678.22,383.96 L678.30,387.79 L678.39,386.09 L678.48,388.22 L678.56,382.37 L678.65,387.01 L678.74,386.15 L678.82,386.33 L678.91,387.03 L679.00,383.78 L679.08,385.32 L679.17,383.33 L679.26,381.78 L679.34,381.88 L679.43,381.78 L679.52,378.79 L679.60,379.04 L679.69,380.36 L679.78,381.25 L679.86,378.13 L679.95,374.36 L680.04,370.78 L680.12,373.16 L680.21,370.24 L680.30,371.11 L680.38,365.97 L680.47,362.50 L680.56,366.00 L680.64,362.53 L680.73,356.83 L680.82,359.95 L680.90,358.86 L680.99,355.33 L681.08,352.77 L681.17,351.90 L681.25,349.51 L681.34,345.19 L681.43,347.01 L681.51,342.88 L681.60,346.30 L681.69,343.28 L681.77,342.68 L681.86,344.90 L681.95,346.00 L682.03,347.28 L682.12,349.09 L682.21,347.13 L682.29,353.86 L682.38,352.58 L682.47,355.31 L682.55,354.52 L682.64,359.33 L682.73,357.54 L682.81,362.10 L682.90,359.54 L682.99,365.88 L683.07,367.57 L683.16,370.27 L683.25,367.56 L683.33,372.13 L683.42,370.80 L683.51,374.83 L683.59,377.98 L683.68,373.88 L683.77,375.41 L683.85,379.58 L683.94,378.06 L684.03,384.52 L684.11,380.31 L684.20,383.24 L684.20,392.6 Z" fill="#c6649a"/></g>
<g clip-path="url(#clip_h)"><path d="M380.70,367.84 L381.78,367.53 L382.87,367.13 L383.95,366.62 L385.04,366.10 L386.12,365.58 L387.20,365.06 L388.29,364.54 L389.37,364.02 L390.46,363.49 L391.54,362.97 L392.62,362.45 L393.71,361.93 L394.79,361.41 L395.88,360.89 L396.96,360.36 L398.04,359.84 L399.13,359.31 L400.21,358.77 L401.29,358.22 L402.38,357.67 L403.46,357.11 L404.55,356.56 L405.63,356.00 L406.71,355.45 L407.80,354.89 L408.88,354.34 L409.97,353.78 L411.05,353.15 L412.13,352.45 L413.22,351.68 L414.30,350.83 L415.39,349.91 L416.47,348.99 L417.55,348.07 L418.64,347.15 L419.72,346.23 L420.81,345.31 L421.89,344.39 L422.97,343.47 L424.06,342.55 L425.14,341.63 L426.23,340.71 L427.31,339.79 L428.39,338.85 L429.48,337.79 L430.56,336.61 L431.64,335.32 L432.73,333.92 L433.81,332.42 L434.90,330.92 L435.98,329.42 L437.06,327.92 L438.15,326.42 L439.23,324.92 L440.32,323.42 L441.40,321.92 L442.48,320.42 L443.57,318.92 L444.65,317.38 L445.74,315.79 L446.82,314.14 L447.90,312.42 L448.99,310.65 L450.07,308.86 L451.16,307.06 L452.24,305.26 L453.32,303.47 L454.41,301.67 L455.49,299.87 L456.58,298.06 L457.66,296.22 L458.74,294.37 L459.83,292.50 L460.91,290.62 L461.99,288.73 L463.08,286.85 L464.16,284.97 L465.25,283.08 L466.33,281.20 L467.41,279.40 L468.50,277.72 L469.58,276.18 L470.67,274.77 L471.75,273.49 L472.83,272.26 L473.92,271.04 L475.00,269.81 L476.09,268.62 L477.17,267.61 L478.25,266.79 L479.34,266.16 L480.42,265.70 L481.51,265.39 L482.59,265.09 L483.67,264.78 L484.76,264.47 L485.84,264.20 L486.93,263.98 L488.01,263.80 L489.09,263.67 L490.18,263.59 L491.26,263.51 L492.34,263.43 L493.43,263.36 L494.51,263.28 L495.60,263.20 L496.68,263.13 L497.76,263.05 L498.85,262.97 L499.93,262.90 L501.02,262.82 L502.10,262.74 L503.18,262.67 L504.27,262.59 L505.35,262.52 L506.44,262.45 L507.52,262.37 L508.60,262.31 L509.69,262.24 L510.77,262.17 L511.86,262.10 L512.94,262.03 L514.02,261.96 L515.11,261.90 L516.19,261.83 L517.28,261.76 L518.36,261.69 L519.44,261.62 L520.53,261.55 L521.61,261.48 L522.69,261.42 L523.78,261.34 L524.86,261.25 L525.95,261.15 L527.03,261.02 L528.11,260.88 L529.20,260.72 L530.28,260.56 L531.37,260.41 L532.45,260.25 L533.53,260.12 L534.62,260.01 L535.70,259.92 L536.79,259.86 L537.87,259.82 L538.95,259.78 L540.04,259.74 L541.12,259.70 L542.21,259.66 L543.29,259.63 L544.37,259.59 L545.46,259.55 L546.54,259.51 L547.63,259.47 L548.71,259.43 L549.79,259.39 L550.88,259.36 L551.96,259.34 L553.04,259.33 L554.13,259.34 L555.21,259.37 L556.30,259.40 L557.38,259.43 L558.46,259.46 L559.55,259.49 L560.63,259.52 L561.72,259.55 L562.80,259.58 L563.88,259.61 L564.97,259.64 L566.05,259.67 L567.14,259.70 L568.22,259.73 L569.30,259.76 L570.39,259.79 L571.47,259.83 L572.56,259.86 L573.64,259.91 L574.72,260.02 L575.81,260.18 L576.89,260.40 L577.98,260.67 L579.06,260.98 L580.14,261.29 L581.23,261.59 L582.31,261.90 L583.39,262.21 L584.48,262.51 L585.56,262.82 L586.65,263.13 L587.73,263.50 L588.81,263.95 L589.90,264.49 L590.98,265.10 L592.07,265.80 L593.15,266.52 L594.23,267.23 L595.32,267.95 L596.40,268.67 L597.49,269.38 L598.57,270.10 L599.65,270.81 L600.74,271.55 L601.82,272.43 L602.91,273.44 L603.99,274.58 L605.07,275.85 L606.16,277.23 L607.24,278.61 L608.33,279.99 L609.41,281.37 L610.49,282.87 L611.58,284.53 L612.66,286.34 L613.74,288.30 L614.83,290.42 L615.91,292.57 L617.00,294.71 L618.08,296.86 L619.16,298.96 L620.25,300.93 L621.33,302.78 L622.42,304.51 L623.50,306.12 L624.58,307.65 L625.67,309.19 L626.75,310.72 L627.84,312.25 L628.92,313.76 L630.00,315.23 L631.09,316.67 L632.17,318.08 L633.26,319.46 L634.34,320.84 L635.42,322.22 L636.51,323.60 L637.59,324.91 L638.68,326.11 L639.76,327.20 L640.84,328.18 L641.93,329.04 L643.01,329.86 L644.09,330.67 L645.18,331.49 L646.26,332.31 L647.35,333.13 L648.43,333.94 L649.51,334.76 L650.60,335.58 L651.68,336.32 L652.77,336.97 L653.85,337.54 L654.93,338.03 L656.02,338.44 L657.10,338.85 L658.19,339.26 L659.27,339.67 L660.35,340.08 L661.44,340.49 L662.52,340.90 L663.61,341.30 L664.69,341.70 L665.77,342.04 L666.86,342.35 L667.94,342.61 L669.03,342.82 L670.11,343.01 L671.19,343.20 L672.28,343.39 L673.36,343.58 L674.44,343.77 L675.53,343.96 L676.61,344.15 L677.70,344.34 L678.78,344.53 L679.86,344.69 L680.95,344.81 L682.03,344.89 L683.12,344.94 L684.20,344.94" fill="none" stroke="#b84880" stroke-width="1.3" stroke-dasharray="6.5,3.6"/></g>
<rect x="380.7" y="238.04000000000002" width="65.80000000000001" height="18.5" fill="#687c98"/>
<rect x="446.5" y="238.04000000000002" width="188.5" height="18.5" fill="#f87272"/>
<rect x="635" y="238.04000000000002" width="49.200000000000045" height="18.5" fill="#687c98"/>
<text x="407" y="250.44000000000003" font-family="Liberation Sans, sans-serif" font-size="10.3" font-weight="normal" fill="#f4f4f4" text-anchor="middle" >GaAs</text>
<text x="525.3" y="250.44000000000003" font-family="Liberation Sans, sans-serif" font-size="10.3" font-weight="normal" fill="#f4f4f4" text-anchor="middle" >InGaAs</text>
<text x="656.8" y="250.44000000000003" font-family="Liberation Sans, sans-serif" font-size="10.3" font-weight="normal" fill="#f4f4f4" text-anchor="middle" >GaAs</text>
<path d="M380.7,256.54 L380.7,238.04000000000002 L684.2,238.04000000000002 L684.2,256.54" fill="none" stroke="#333" stroke-width="1"/>
<text x="375.8" y="396.8" font-family="Liberation Sans, sans-serif" font-size="9.8" font-weight="normal" fill="#1a1a1a" text-anchor="end" >0.0</text>
<text x="375.8" y="371.04" font-family="Liberation Sans, sans-serif" font-size="9.8" font-weight="normal" fill="#1a1a1a" text-anchor="end" >0.2</text>
<text x="375.8" y="345.28000000000003" font-family="Liberation Sans, sans-serif" font-size="9.8" font-weight="normal" fill="#1a1a1a" text-anchor="end" >0.4</text>
<text x="375.8" y="319.52000000000004" font-family="Liberation Sans, sans-serif" font-size="9.8" font-weight="normal" fill="#1a1a1a" text-anchor="end" >0.6</text>
<text x="375.8" y="293.76" font-family="Liberation Sans, sans-serif" font-size="9.8" font-weight="normal" fill="#1a1a1a" text-anchor="end" >0.8</text>
<text x="375.8" y="268.0" font-family="Liberation Sans, sans-serif" font-size="9.8" font-weight="normal" fill="#1a1a1a" text-anchor="end" >1.0</text>
<text x="375.8" y="243.04000000000002" font-family="Liberation Sans, sans-serif" font-size="9.8" font-weight="normal" fill="#1a1a1a" text-anchor="end" >1.2</text>
<text x="401.8" y="405.0" font-family="Liberation Sans, sans-serif" font-size="9.8" font-weight="normal" fill="#1a1a1a" text-anchor="middle" >2</text>
<text x="445.1" y="405.0" font-family="Liberation Sans, sans-serif" font-size="9.8" font-weight="normal" fill="#1a1a1a" text-anchor="middle" >4</text>
<text x="488.5" y="405.0" font-family="Liberation Sans, sans-serif" font-size="9.8" font-weight="normal" fill="#1a1a1a" text-anchor="middle" >6</text>
<text x="531.9" y="405.0" font-family="Liberation Sans, sans-serif" font-size="9.8" font-weight="normal" fill="#1a1a1a" text-anchor="middle" >8</text>
<text x="575.2" y="405.0" font-family="Liberation Sans, sans-serif" font-size="9.8" font-weight="normal" fill="#1a1a1a" text-anchor="middle" >10</text>
<text x="618.6" y="405.0" font-family="Liberation Sans, sans-serif" font-size="9.8" font-weight="normal" fill="#1a1a1a" text-anchor="middle" >12</text>
<text x="661.9" y="405.0" font-family="Liberation Sans, sans-serif" font-size="9.8" font-weight="normal" fill="#1a1a1a" text-anchor="middle" >14</text>
<text x="527" y="420.2" font-family="Liberation Sans, sans-serif" font-size="10.75" font-weight="normal" fill="#1a1a1a" text-anchor="middle" >Position (nm)</text>
<text x="0" y="0" font-family="Liberation Sans, sans-serif" font-size="10.3" font-weight="normal" fill="#1a1a1a" text-anchor="middle" transform="translate(354.2,315.5) rotate(-90)">Intensity (a.u.)</text>
<text x="-0.5" y="241.8" font-family="Liberation Sans, sans-serif" font-size="14.2" font-weight="bold" fill="#000" text-anchor="start" >d</text>
<text x="346" y="241.5" font-family="Liberation Sans, sans-serif" font-size="14" font-weight="bold" fill="#000" text-anchor="start" >h</text>
<rect x="24" y="447" width="381" height="157" fill="url(#bg_i)"/>
<g clip-path="url(#clip_i)"><path d="M22.00,534.00 L22.20,533.55 L22.40,534.14 L22.60,535.70 L22.80,537.65 L23.00,540.75 L23.20,542.71 L23.40,545.42 L23.60,545.62 L23.80,547.13 L24.00,547.06 L24.20,545.66 L24.40,544.14 L24.60,541.52 L24.80,538.51 L25.00,536.13 L25.20,534.68 L25.40,532.46 L25.60,531.91 L25.80,532.09 L26.00,533.58 L26.20,535.21 L26.40,538.05 L26.60,541.52 L26.80,543.56 L27.00,545.32 L27.20,546.52 L27.40,546.84 L27.60,545.52 L27.80,544.04 L28.00,541.14 L28.20,537.89 L28.40,535.38 L28.60,531.54 L28.80,530.15 L29.00,529.40 L29.20,529.08 L29.40,530.36 L29.60,532.14 L29.80,534.66 L30.00,538.45 L30.20,540.31 L30.40,542.13 L30.60,543.99 L30.80,544.03 L31.00,543.85 L31.20,542.22 L31.40,540.36 L31.60,536.72 L31.80,534.54 L32.00,531.76 L32.20,529.38 L32.40,528.92 L32.60,528.23 L32.80,529.92 L33.00,531.47 L33.20,534.11 L33.40,536.79 L33.60,540.18 L33.80,542.08 L34.00,544.61 L34.20,545.29 L34.40,545.27 L34.60,543.71 L34.80,541.47 L35.00,537.90 L35.20,535.28 L35.40,532.14 L35.60,528.67 L35.80,526.92 L36.00,526.36 L36.20,527.25 L36.40,529.19 L36.60,530.94 L36.80,534.39 L37.00,537.60 L37.20,540.60 L37.40,542.79 L37.60,544.74 L37.80,544.46 L38.00,544.22 L38.20,541.91 L38.40,538.37 L38.60,534.96 L38.80,531.66 L39.00,529.20 L39.20,526.27 L39.40,524.91 L39.60,525.42 L39.80,526.85 L40.00,528.90 L40.20,532.67 L40.40,535.71 L40.60,539.19 L40.80,541.62 L41.00,543.74 L41.20,544.35 L41.40,543.04 L41.60,541.88 L41.80,538.37 L42.00,535.35 L42.20,531.16 L42.40,528.73 L42.60,525.45 L42.80,523.93 L43.00,523.57 L43.20,523.88 L43.40,525.81 L43.60,529.58 L43.80,533.68 L44.00,537.02 L44.20,540.38 L44.40,542.77 L44.60,543.21 L44.80,543.62 L45.00,542.73 L45.20,539.44 L45.40,535.67 L45.60,532.47 L45.80,528.73 L46.00,525.85 L46.20,523.25 L46.40,522.54 L46.60,522.18 L46.80,524.71 L47.00,527.62 L47.20,530.94 L47.40,533.87 L47.60,538.21 L47.80,540.27 L48.00,543.15 L48.20,543.53 L48.40,542.23 L48.60,540.22 L48.80,536.63 L49.00,532.66 L49.20,528.06 L49.40,524.11 L49.60,520.37 L49.80,518.78 L50.00,518.66 L50.20,520.36 L50.40,523.09 L50.60,527.40 L50.80,531.12 L51.00,535.61 L51.20,539.53 L51.40,542.15 L51.60,543.79 L51.80,543.37 L52.00,542.37 L52.20,538.97 L52.40,535.61 L52.60,531.08 L52.80,527.50 L53.00,523.10 L53.20,521.27 L53.40,520.04 L53.60,520.85 L53.80,523.25 L54.00,525.89 L54.20,529.96 L54.40,534.26 L54.60,538.50 L54.80,540.93 L55.00,543.39 L55.20,543.39 L55.40,542.31 L55.60,540.03 L55.80,536.73 L56.00,532.27 L56.20,528.04 L56.40,524.36 L56.60,521.42 L56.80,519.14 L57.00,519.79 L57.20,521.47 L57.40,524.65 L57.60,528.81 L57.80,532.97 L58.00,537.48 L58.20,541.20 L58.40,544.37 L58.60,545.66 L58.80,545.17 L59.00,542.23 L59.20,538.87 L59.40,534.40 L59.60,529.69 L59.80,524.44 L60.00,520.26 L60.20,517.59 L60.40,516.70 L60.60,517.35 L60.80,520.14 L61.00,523.86 L61.20,528.19 L61.40,532.99 L61.60,536.72 L61.80,540.23 L62.00,541.89 L62.20,542.27 L62.40,541.21 L62.60,537.91 L62.80,533.31 L63.00,529.12 L63.20,524.26 L63.40,519.87 L63.60,517.02 L63.80,515.95 L64.00,516.23 L64.20,517.33 L64.40,520.95 L64.60,525.18 L64.80,529.13 L65.00,534.05 L65.20,537.92 L65.40,540.61 L65.60,541.14 L65.80,540.85 L66.00,538.98 L66.20,535.40 L66.40,531.04 L66.60,525.55 L66.80,521.67 L67.00,517.58 L67.20,514.58 L67.40,514.47 L67.60,515.11 L67.80,517.92 L68.00,521.52 L68.20,526.43 L68.40,530.59 L68.60,534.20 L68.80,537.42 L69.00,538.75 L69.20,538.56 L69.40,537.54 L69.60,534.15 L69.80,530.50 L70.00,526.42 L70.20,522.08 L70.40,518.87 L70.60,517.16 L70.80,515.29 L71.00,516.07 L71.20,517.76 L71.40,521.21 L71.60,526.02 L71.80,530.38 L72.00,534.28 L72.20,538.08 L72.40,540.28 L72.60,540.88 L72.80,539.87 L73.00,537.42 L73.20,534.16 L73.40,529.88 L73.60,525.28 L73.80,520.86 L74.00,517.16 L74.20,515.49 L74.40,514.68 L74.60,516.23 L74.80,518.55 L75.00,522.09 L75.20,525.84 L75.40,529.94 L75.60,534.89 L75.80,538.00 L76.00,538.71 L76.20,539.02 L76.40,537.48 L76.60,533.49 L76.80,530.02 L77.00,524.58 L77.20,519.70 L77.40,516.51 L77.60,513.50 L77.80,512.12 L78.00,513.20 L78.20,514.71 L78.40,519.54 L78.60,523.33 L78.80,528.45 L79.00,532.54 L79.20,536.22 L79.40,538.49 L79.60,538.56 L79.80,537.99 L80.00,535.12 L80.20,531.31 L80.40,527.10 L80.60,522.41 L80.80,518.50 L81.00,516.14 L81.20,514.31 L81.40,514.82 L81.60,516.33 L81.80,519.03 L82.00,522.91 L82.20,527.96 L82.40,532.93 L82.60,536.86 L82.80,539.43 L83.00,541.28 L83.20,540.06 L83.40,538.20 L83.60,535.27 L83.80,531.38 L84.00,526.01 L84.20,521.04 L84.40,517.82 L84.60,515.46 L84.80,514.76 L85.00,515.26 L85.20,517.61 L85.40,521.56 L85.60,526.05 L85.80,530.74 L86.00,534.75 L86.20,536.81 L86.40,538.40 L86.60,538.48 L86.80,536.78 L87.00,533.95 L87.20,529.88 L87.40,525.23 L87.60,521.03 L87.80,516.69 L88.00,513.65 L88.20,512.18 L88.40,512.65 L88.60,514.50 L88.80,517.41 L89.00,522.20 L89.20,526.49 L89.40,531.02 L89.60,534.70 L89.80,536.92 L90.00,537.84 L90.20,537.59 L90.40,533.64 L90.60,530.30 L90.80,525.66 L91.00,520.50 L91.20,515.89 L91.40,512.81 L91.60,510.36 L91.80,510.74 L92.00,512.67 L92.20,515.27 L92.40,519.82 L92.60,525.17 L92.80,530.13 L93.00,534.29 L93.20,536.96 L93.40,537.89 L93.60,537.40 L93.80,535.80 L94.00,532.48 L94.20,527.74 L94.40,523.46 L94.60,519.18 L94.80,515.88 L95.00,512.88 L95.20,512.57 L95.40,512.99 L95.60,515.72 L95.80,519.56 L96.00,524.52 L96.20,529.83 L96.40,533.23 L96.60,536.54 L96.80,538.43 L97.00,537.71 L97.20,536.57 L97.40,532.66 L97.60,529.08 L97.80,524.05 L98.00,518.86 L98.20,514.26 L98.40,512.04 L98.60,510.27 L98.80,510.66 L99.00,512.95 L99.20,515.83 L99.40,520.98 L99.60,525.88 L99.80,529.82 L100.00,533.09 L100.20,534.81 L100.40,535.81 L100.60,534.68 L100.80,532.14 L101.00,528.33 L101.20,524.44 L101.40,520.14 L101.60,515.93 L101.80,513.12 L102.00,511.68 L102.20,511.78 L102.40,512.99 L102.60,515.87 L102.80,519.82 L103.00,524.47 L103.20,529.29 L103.40,533.40 L103.60,535.79 L103.80,537.21 L104.00,536.40 L104.20,534.99 L104.40,531.07 L104.60,526.98 L104.80,522.03 L105.00,517.84 L105.20,514.29 L105.40,512.91 L105.60,512.04 L105.80,513.11 L106.00,515.65 L106.20,519.75 L106.40,524.80 L106.60,529.64 L106.80,532.77 L107.00,535.98 L107.20,537.88 L107.40,537.84 L107.60,536.04 L107.80,533.69 L108.00,530.08 L108.20,525.08 L108.40,521.42 L108.60,518.11 L108.80,515.73 L109.00,514.00 L109.20,515.10 L109.40,516.39 L109.60,519.05 L109.80,523.47 L110.00,527.33 L110.20,532.22 L110.40,534.92 L110.60,537.48 L110.80,537.31 L111.00,536.29 L111.20,533.04 L111.40,528.57 L111.60,523.36 L111.80,518.86 L112.00,513.74 L112.20,511.25 L112.40,509.62 L112.60,509.78 L112.80,511.71 L113.00,515.92 L113.20,519.28 L113.40,524.43 L113.60,528.79 L113.80,533.07 L114.00,534.65 L114.20,536.89 L114.40,535.64 L114.60,532.96 L114.80,529.81 L115.00,525.73 L115.20,521.20 L115.40,516.81 L115.60,513.63 L115.80,511.25 L116.00,510.71 L116.20,511.21 L116.40,514.64 L116.60,518.61 L116.80,522.66 L117.00,526.65 L117.20,530.67 L117.40,534.33 L117.60,535.04 L117.80,534.87 L118.00,533.11 L118.20,530.51 L118.40,526.11 L118.60,521.55 L118.80,516.97 L119.00,513.66 L119.20,511.38 L119.40,509.86 L119.60,510.56 L119.80,512.24 L120.00,515.36 L120.20,519.59 L120.40,524.04 L120.60,528.57 L120.80,531.82 L121.00,533.69 L121.20,534.59 L121.40,533.65 L121.60,531.51 L121.80,527.99 L122.00,523.97 L122.20,519.21 L122.40,516.03 L122.60,513.51 L122.80,511.25 L123.00,512.06 L123.20,513.14 L123.40,515.81 L123.60,519.13 L123.80,524.25 L124.00,528.13 L124.20,532.12 L124.40,535.14 L124.60,535.89 L124.80,535.46 L125.00,533.39 L125.20,530.35 L125.40,526.31 L125.60,521.65 L125.80,517.50 L126.00,513.93 L126.20,511.99 L126.40,511.21 L126.60,513.13 L126.80,515.24 L127.00,518.45 L127.20,523.31 L127.40,528.67 L127.60,531.88 L127.80,535.37 L128.00,537.56 L128.20,537.54 L128.40,537.08 L128.60,534.51 L128.80,529.98 L129.00,526.23 L129.20,521.29 L129.40,517.46 L129.60,515.05 L129.80,513.62 L130.00,513.46 L130.20,515.48 L130.40,517.66 L130.60,521.62 L130.80,525.74 L131.00,530.37 L131.20,533.78 L131.40,535.97 L131.60,536.19 L131.80,535.87 L132.00,533.74 L132.20,529.69 L132.40,525.73 L132.60,521.71 L132.80,517.57 L133.00,514.10 L133.20,512.07 L133.40,511.37 L133.60,512.22 L133.80,514.47 L134.00,517.66 L134.20,522.23 L134.40,526.75 L134.60,531.75 L134.80,534.37 L135.00,536.16 L135.20,536.42 L135.40,535.20 L135.60,532.51 L135.80,529.09 L136.00,524.73 L136.20,520.83 L136.40,516.81 L136.60,514.64 L136.80,513.72 L137.00,513.32 L137.20,515.46 L137.40,518.54 L137.60,522.32 L137.80,526.63 L138.00,530.42 L138.20,534.80 L138.40,536.47 L138.60,537.20 L138.80,537.00 L139.00,533.98 L139.20,531.32 L139.40,526.87 L139.60,522.38 L139.80,517.89 L140.00,514.14 L140.20,511.78 L140.40,512.13 L140.60,512.48 L140.80,514.85 L141.00,518.99 L141.20,522.51 L141.40,526.95 L141.60,530.86 L141.80,533.84 L142.00,535.17 L142.20,535.35 L142.40,534.36 L142.60,531.48 L142.80,526.58 L143.00,522.56 L143.20,518.94 L143.40,515.05 L143.60,512.28 L143.80,511.43 L144.00,510.88 L144.20,513.64 L144.40,516.52 L144.60,520.79 L144.80,525.28 L145.00,529.92 L145.20,533.36 L145.40,535.80 L145.60,537.24 L145.80,536.51 L146.00,534.00 L146.20,531.42 L146.40,527.19 L146.60,522.75 L146.80,518.09 L147.00,514.71 L147.20,512.27 L147.40,511.38 L147.60,512.58 L147.80,515.00 L148.00,518.31 L148.20,523.34 L148.40,526.72 L148.60,530.93 L148.80,534.08 L149.00,536.51 L149.20,536.38 L149.40,535.16 L149.60,532.40 L149.80,528.76 L150.00,524.32 L150.20,520.67 L150.40,516.67 L150.60,513.87 L150.80,511.77 L151.00,512.73 L151.20,513.20 L151.40,515.72 L151.60,520.08 L151.80,524.53 L152.00,529.18 L152.20,532.55 L152.40,535.92 L152.60,537.77 L152.80,536.99 L153.00,535.48 L153.20,532.34 L153.40,529.11 L153.60,525.01 L153.80,520.45 L154.00,516.52 L154.20,513.77 L154.40,511.80 L154.60,511.98 L154.80,512.82 L155.00,515.58 L155.20,519.54 L155.40,523.43 L155.60,527.69 L155.80,531.26 L156.00,533.36 L156.20,534.17 L156.40,533.94 L156.60,533.32 L156.80,530.21 L157.00,527.11 L157.20,523.16 L157.40,519.39 L157.60,516.30 L157.80,513.28 L158.00,511.67 L158.20,512.53 L158.40,513.53 L158.60,516.28 L158.80,519.59 L159.00,523.93 L159.20,528.31 L159.40,532.17 L159.60,534.71 L159.80,536.58 L160.00,537.37 L160.20,536.50 L160.40,534.54 L160.60,531.08 L160.80,526.89 L161.00,523.82 L161.20,520.28 L161.40,517.27 L161.60,515.61 L161.80,514.63 L162.00,514.81 L162.20,516.89 L162.40,519.25 L162.60,523.06 L162.80,526.58 L163.00,530.52 L163.20,533.80 L163.40,536.20 L163.60,537.03 L163.80,537.51 L164.00,535.54 L164.20,533.98 L164.40,530.88 L164.60,527.46 L164.80,523.12 L165.00,519.31 L165.20,516.25 L165.40,515.50 L165.60,513.84 L165.80,515.10 L166.00,515.84 L166.20,519.16 L166.40,522.66 L166.60,526.00 L166.80,529.09 L167.00,531.63 L167.20,533.66 L167.40,535.37 L167.60,535.30 L167.80,534.18 L168.00,532.43 L168.20,529.52 L168.40,527.11 L168.60,524.08 L168.80,520.60 L169.00,518.53 L169.20,517.24 L169.40,516.09 L169.60,517.22 L169.80,518.33 L170.00,519.85 L170.20,522.82 L170.40,525.91 L170.60,527.96 L170.80,531.13 L171.00,532.98 L171.20,534.31 L171.40,535.11 L171.60,534.43 L171.80,533.05 L172.00,531.30 L172.20,529.56 L172.40,527.40 L172.60,524.92 L172.80,522.91 L173.00,521.48 L173.20,521.06 L173.40,520.59 L173.60,520.70 L173.80,521.98 L174.00,524.09 L174.20,525.55 L174.40,527.74 L174.60,529.89 L174.80,531.33 L175.00,533.22 L175.20,533.03 L175.40,534.24 L175.60,533.19 L175.80,531.92 L176.00,530.95 L176.20,528.84 L176.40,527.92 L176.60,526.48 L176.80,524.83 L177.00,524.01 L177.20,524.02 L177.40,523.64 L177.60,524.46 L177.80,525.60 L178.00,527.34 L178.20,528.31 L178.40,530.12 L178.60,532.05 L178.80,532.33 L179.00,533.94 L179.20,533.98 L179.40,534.12 L179.60,534.95 L179.80,533.71 L180.00,533.05 L180.20,531.26 L180.40,530.09 L180.60,528.41 L180.80,527.12 L181.00,526.24 L181.20,525.61 L181.40,525.73 L181.60,525.31 L181.80,526.09 L182.00,526.83 L182.20,528.13 L182.40,529.00 L182.60,531.04 L182.80,531.72 L183.00,532.85 L183.20,533.47 L183.40,534.19 L183.60,534.06 L183.80,533.57 L184.00,532.97 L184.20,532.14 L184.40,531.22 L184.60,529.99 L184.80,529.12 L185.00,528.27 L185.20,527.26 L185.40,526.26 L185.60,527.09 L185.80,527.47 L186.00,527.31 L186.20,528.17 L186.40,528.75 L186.60,530.75 L186.80,531.31 L187.00,533.09 L187.20,532.47 L187.40,533.70 L187.60,534.08 L187.80,533.80 L188.00,533.54 L188.20,533.47 L188.40,532.61 L188.60,531.82 L188.80,530.91 L189.00,529.70 L189.20,528.77 L189.40,528.19 L189.60,527.19 L189.80,527.04 L190.00,526.81 L190.20,527.68 L190.40,527.74 L190.60,529.38 L190.80,529.29 L191.00,531.12 L191.20,531.93 L191.40,533.49 L191.60,533.75 L191.80,533.48 L192.00,533.73 L192.20,534.24 L192.40,533.73 L192.60,533.71 L192.80,532.69 L193.00,531.96 L193.20,531.55 L193.40,530.73 L193.60,528.30 L193.80,526.91 L194.00,524.72 L194.20,523.79 L194.40,522.00 L194.60,521.16 L194.80,520.41 L195.00,521.09 L195.20,522.03 L195.40,523.57 L195.60,524.24 L195.80,526.55 L196.00,527.74 L196.20,528.97 L196.40,529.78 L196.60,530.23 L196.80,530.77 L197.00,531.80 L197.20,531.01 L197.40,531.25 L197.60,531.72 L197.80,530.75 L198.00,531.47 L198.20,531.02 L198.40,530.86 L198.60,530.22 L198.80,528.74 L199.00,527.21 L199.20,525.66 L199.40,523.61 L199.60,521.10 L199.80,519.25 L200.00,517.16 L200.20,516.64 L200.40,515.12 L200.60,515.39 L200.80,516.30 L201.00,516.98 L201.20,517.99 L201.40,519.56 L201.60,521.32 L201.80,523.39 L202.00,524.58 L202.20,525.83 L202.40,527.38 L202.60,526.79 L202.80,527.09 L203.00,527.15 L203.20,527.25 L203.40,527.18 L203.60,526.89 L203.80,527.08 L204.00,526.89 L204.20,526.40 L204.40,525.39 L204.60,525.79 L204.80,524.42 L205.00,523.33 L205.20,521.97 L205.40,519.84 L205.60,518.00 L205.80,516.26 L206.00,514.28 L206.20,512.95 L206.40,511.53 L206.60,511.24 L206.80,511.11 L207.00,511.99 L207.20,513.30 L207.40,514.60 L207.60,515.87 L207.80,517.85 L208.00,519.40 L208.20,520.93 L208.40,521.44 L208.60,521.86 L208.80,521.87 L209.00,522.85 L209.20,521.85 L209.40,521.61 L209.60,521.70 L209.80,521.12 L210.00,521.90 L210.20,521.53 L210.40,521.43 L210.60,520.67 L210.80,520.27 L211.00,519.85 L211.20,518.73 L211.40,517.87 L211.60,515.67 L211.80,512.94 L212.00,511.72 L212.20,509.92 L212.40,509.03 L212.60,507.82 L212.80,507.69 L213.00,507.75 L213.20,508.89 L213.40,510.49 L213.60,511.53 L213.80,512.92 L214.00,515.02 L214.20,517.43 L214.40,518.23 L214.60,519.07 L214.80,519.55 L215.00,520.56 L215.20,520.54 L215.40,520.27 L215.60,519.94 L215.80,519.83 L216.00,519.56 L216.20,519.59 L216.40,519.52 L216.60,518.17 L216.80,517.75 L217.00,517.31 L217.20,516.16 L217.40,514.08 L217.60,512.39 L217.80,510.18 L218.00,507.74 L218.20,505.60 L218.40,503.83 L218.60,502.66 L218.80,501.77 L219.00,501.58 L219.20,502.06 L219.40,502.99 L219.60,504.82 L219.80,507.27 L220.00,509.33 L220.20,511.70 L220.40,513.47 L220.60,515.10 L220.80,516.42 L221.00,516.47 L221.20,517.19 L221.40,517.13 L221.60,517.49 L221.80,516.90 L222.00,517.01 L222.20,516.66 L222.40,516.76 L222.60,516.60 L222.80,515.93 L223.00,515.36 L223.20,514.33 L223.40,512.98 L223.60,510.57 L223.80,508.33 L224.00,505.46 L224.20,502.37 L224.40,499.85 L224.60,497.42 L224.80,495.16 L225.00,494.83 L225.20,494.05 L225.40,495.41 L225.60,497.13 L225.80,499.05 L226.00,502.56 L226.20,505.28 L226.40,508.79 L226.60,511.50 L226.80,513.43 L227.00,514.48 L227.20,514.63 L227.40,515.42 L227.60,516.10 L227.80,515.66 L228.00,516.02 L228.20,515.13 L228.40,515.04 L228.60,514.63 L228.80,514.66 L229.00,514.69 L229.20,513.21 L229.40,512.55 L229.60,510.62 L229.80,508.22 L230.00,504.78 L230.20,501.25 L230.40,498.05 L230.60,493.26 L230.80,490.50 L231.00,488.11 L231.20,486.19 L231.40,486.11 L231.60,485.46 L231.80,488.05 L232.00,490.37 L232.20,493.59 L232.40,496.80 L232.60,499.90 L232.80,501.95 L233.00,503.82 L233.20,504.14 L233.40,505.34 L233.60,504.91 L233.80,504.04 L234.00,503.41 L234.20,502.70 L234.40,502.20 L234.60,501.80 L234.80,501.41 L235.00,500.37 L235.20,498.65 L235.40,496.92 L235.60,495.57 L235.80,492.66 L236.00,489.78 L236.20,485.75 L236.40,482.39 L236.60,476.54 L236.80,472.73 L237.00,469.31 L237.20,465.60 L237.40,463.58 L237.60,463.69 L237.80,463.10 L238.00,464.96 L238.20,467.81 L238.40,471.65 L238.60,475.39 L238.80,478.63 L239.00,482.45 L239.20,484.72 L239.40,486.73 L239.60,487.90 L239.80,489.03 L240.00,488.90 L240.20,488.74 L240.40,489.21 L240.60,489.39 L240.80,489.61 L241.00,489.22 L241.20,489.49 L241.40,489.77 L241.60,489.42 L241.80,488.49 L242.00,486.97 L242.20,484.85 L242.40,481.20 L242.60,477.79 L242.80,473.43 L243.00,469.22 L243.20,465.49 L243.40,462.16 L243.60,459.58 L243.80,458.23 L244.00,459.04 L244.20,460.85 L244.40,463.96 L244.60,467.58 L244.80,472.14 L245.00,476.08 L245.20,479.33 L245.40,482.25 L245.60,484.45 L245.80,486.45 L246.00,486.90 L246.20,487.76 L246.40,488.25 L246.60,488.87 L246.80,489.32 L247.00,488.77 L247.20,489.54 L247.40,489.20 L247.60,489.37 L247.80,488.63 L248.00,487.64 L248.20,486.89 L248.40,485.22 L248.60,481.79 L248.80,479.10 L249.00,475.53 L249.20,471.91 L249.40,467.86 L249.60,465.03 L249.80,463.32 L250.00,462.48 L250.20,462.02 L250.40,463.49 L250.60,465.46 L250.80,468.52 L251.00,471.72 L251.20,475.38 L251.40,478.72 L251.60,481.95 L251.80,484.81 L252.00,486.20 L252.20,487.36 L252.40,487.45 L252.60,487.95 L252.80,486.63 L253.00,486.88 L253.20,486.91 L253.40,486.15 L253.60,486.56 L253.80,486.07 L254.00,485.19 L254.20,484.65 L254.40,482.87 L254.60,481.41 L254.80,479.26 L255.00,475.92 L255.20,473.21 L255.40,468.86 L255.60,465.49 L255.80,461.55 L256.00,458.75 L256.20,456.38 L256.40,455.70 L256.60,456.04 L256.80,457.79 L257.00,460.71 L257.20,463.44 L257.40,467.28 L257.60,471.21 L257.80,474.86 L258.00,477.55 L258.20,479.17 L258.40,480.66 L258.60,481.79 L258.80,482.34 L259.00,482.22 L259.20,482.30 L259.40,482.50 L259.60,482.13 L259.80,481.83 L260.00,482.06 L260.20,481.64 L260.40,481.02 L260.60,480.17 L260.80,478.57 L261.00,476.98 L261.20,474.70 L261.40,471.83 L261.60,468.07 L261.80,465.22 L262.00,462.02 L262.20,459.04 L262.40,456.43 L262.60,455.00 L262.80,453.90 L263.00,454.45 L263.20,455.34 L263.40,458.29 L263.60,461.51 L263.80,464.51 L264.00,466.67 L264.20,470.09 L264.40,472.93 L264.60,474.69 L264.80,476.01 L265.00,478.49 L265.20,479.03 L265.40,479.82 L265.60,481.11 L265.80,481.25 L266.00,481.84 L266.20,482.33 L266.40,481.65 L266.60,480.63 L266.80,479.66 L267.00,477.21 L267.20,474.66 L267.40,471.47 L267.60,468.07 L267.80,465.63 L268.00,463.56 L268.20,462.59 L268.40,462.73 L268.60,464.39 L268.80,466.90 L269.00,469.81 L269.20,474.30 L269.40,477.85 L269.60,483.11 L269.80,486.31 L270.00,490.07 L270.20,493.35 L270.40,494.98 L270.60,496.01 L270.80,496.68 L271.00,497.17 L271.20,496.08 L271.40,493.79 L271.60,490.31 L271.80,486.26 L272.00,482.67 L272.20,479.65 L272.40,476.31 L272.60,475.88 L272.80,474.07 L273.00,475.18 L273.20,477.17 L273.40,479.72 L273.60,483.16 L273.80,487.36 L274.00,491.64 L274.20,494.08 L274.40,498.10 L274.60,500.14 L274.80,501.37 L275.00,501.87 L275.20,501.08 L275.40,499.41 L275.60,496.54 L275.80,494.00 L276.00,489.73 L276.20,486.86 L276.40,483.94 L276.60,482.11 L276.80,480.53 L277.00,480.31 L277.20,480.32 L277.40,482.23 L277.60,484.13 L277.80,486.38 L278.00,489.01 L278.20,492.25 L278.40,495.09 L278.60,498.44 L278.80,500.13 L279.00,500.51 L279.20,501.52 L279.40,499.97 L279.60,497.62 L279.80,496.28 L280.00,493.53 L280.20,490.13 L280.40,486.94 L280.60,485.04 L280.80,482.61 L281.00,481.69 L281.20,481.72 L281.40,482.54 L281.60,484.10 L281.80,486.48 L282.00,490.12 L282.20,492.66 L282.40,496.97 L282.60,499.94 L282.80,502.35 L283.00,503.53 L283.20,504.11 L283.40,503.60 L283.60,501.35 L283.80,499.11 L284.00,496.00 L284.20,491.99 L284.40,488.57 L284.60,486.21 L284.80,483.61 L285.00,481.58 L285.20,481.60 L285.40,482.37 L285.60,484.64 L285.80,487.49 L286.00,490.08 L286.20,494.81 L286.40,499.12 L286.60,502.69 L286.80,504.88 L287.00,506.68 L287.20,508.07 L287.40,507.61 L287.60,506.53 L287.80,504.00 L288.00,501.71 L288.20,498.46 L288.40,495.25 L288.60,491.98 L288.80,489.72 L289.00,488.74 L289.20,489.34 L289.40,489.93 L289.60,493.10 L289.80,496.84 L290.00,500.19 L290.20,504.69 L290.40,509.29 L290.60,513.04 L290.80,515.52 L291.00,517.30 L291.20,517.77 L291.40,516.75 L291.60,514.91 L291.80,511.78 L292.00,508.36 L292.20,503.47 L292.40,500.52 L292.60,497.18 L292.80,494.63 L293.00,493.72 L293.20,494.14 L293.40,495.45 L293.60,497.88 L293.80,501.62 L294.00,505.33 L294.20,509.36 L294.40,513.32 L294.60,516.29 L294.80,518.33 L295.00,518.87 L295.20,517.64 L295.40,515.64 L295.60,511.75 L295.80,507.47 L296.00,503.08 L296.20,498.87 L296.40,495.54 L296.60,493.72 L296.80,491.81 L297.00,492.73 L297.20,494.23 L297.40,497.31 L297.60,500.59 L297.80,505.09 L298.00,508.78 L298.20,512.76 L298.40,514.81 L298.60,517.26 L298.80,517.76 L299.00,516.16 L299.20,514.80 L299.40,510.86 L299.60,507.56 L299.80,503.14 L300.00,499.46 L300.20,496.13 L300.40,493.40 L300.60,493.16 L300.80,493.30 L301.00,494.10 L301.20,497.11 L301.40,500.38 L301.60,503.70 L301.80,507.22 L302.00,511.05 L302.20,512.75 L302.40,514.22 L302.60,514.32 L302.80,512.41 L303.00,509.36 L303.20,506.42 L303.40,501.69 L303.60,497.72 L303.80,495.10 L304.00,490.95 L304.20,489.31 L304.40,488.15 L304.60,488.99 L304.80,490.86 L305.00,493.04 L305.20,497.32 L305.40,501.59 L305.60,505.10 L305.80,507.83 L306.00,509.44 L306.20,510.73 L306.40,510.15 L306.60,508.58 L306.80,506.33 L307.00,503.82 L307.20,499.31 L307.40,496.39 L307.60,493.09 L307.80,490.25 L308.00,489.15 L308.20,489.30 L308.40,490.32 L308.60,492.72 L308.80,495.35 L309.00,498.83 L309.20,503.17 L309.40,506.29 L309.60,508.76 L309.80,510.71 L310.00,511.74 L310.20,510.22 L310.40,507.97 L310.60,505.76 L310.80,502.49 L311.00,498.48 L311.20,494.09 L311.40,490.85 L311.60,489.76 L311.80,488.40 L312.00,488.96 L312.20,490.33 L312.40,493.51 L312.60,496.41 L312.80,499.95 L313.00,503.58 L313.20,506.24 L313.40,508.78 L313.60,509.79 L313.80,509.09 L314.00,508.10 L314.20,505.72 L314.40,502.46 L314.60,499.40 L314.80,495.91 L315.00,492.26 L315.20,489.00 L315.40,487.16 L315.60,487.33 L315.80,487.61 L316.00,489.41 L316.20,491.73 L316.40,494.80 L316.60,499.64 L316.80,502.24 L317.00,505.22 L317.20,506.86 L317.40,508.45 L317.60,507.41 L317.80,505.79 L318.00,503.13 L318.20,499.64 L318.40,496.23 L318.60,491.47 L318.80,488.89 L319.00,486.05 L319.20,484.76 L319.40,484.58 L319.60,486.02 L319.80,487.76 L320.00,491.10 L320.20,495.05 L320.40,498.55 L320.60,502.16 L320.80,505.23 L321.00,506.87 L321.20,507.17 L321.40,506.37 L321.60,503.92 L321.80,501.38 L322.00,497.06 L322.20,492.92 L322.40,489.76 L322.60,486.10 L322.80,484.08 L323.00,483.42 L323.20,484.17 L323.40,485.60 L323.60,488.53 L323.80,492.25 L324.00,496.52 L324.20,499.98 L324.40,503.47 L324.60,506.11 L324.80,506.85 L325.00,506.77 L325.20,505.33 L325.40,502.99 L325.60,499.61 L325.80,495.90 L326.00,492.22 L326.20,488.99 L326.40,486.24 L326.60,484.20 L326.80,483.87 L327.00,484.11 L327.20,487.03 L327.40,490.01 L327.60,492.74 L327.80,496.74 L328.00,500.30 L328.20,503.59 L328.40,505.31 L328.60,505.99 L328.80,506.32 L329.00,504.11 L329.20,501.81 L329.40,497.91 L329.60,494.04 L329.80,490.70 L330.00,487.50 L330.20,484.53 L330.40,483.15 L330.60,483.37 L330.80,484.44 L331.00,486.57 L331.20,490.49 L331.40,493.77 L331.60,498.86 L331.80,502.64 L332.00,506.10 L332.20,507.71 L332.40,508.64 L332.60,508.30 L332.80,506.45 L333.00,503.03 L333.20,498.88 L333.40,494.13 L333.60,490.51 L333.80,486.92 L334.00,484.37 L334.20,483.76 L334.40,483.50 L334.60,486.04 L334.80,488.32 L335.00,492.22 L335.20,496.77 L335.40,500.77 L335.60,504.89 L335.80,508.13 L336.00,509.43 L336.20,510.10 L336.40,508.88 L336.60,506.80 L336.80,503.87 L337.00,499.35 L337.20,495.21 L337.40,491.43 L337.60,487.90 L337.80,486.31 L338.00,485.48 L338.20,486.31 L338.40,488.26 L338.60,491.77 L338.80,496.26 L339.00,500.55 L339.20,504.08 L339.40,507.59 L339.60,509.90 L339.80,510.93 L340.00,510.58 L340.20,510.13 L340.40,506.64 L340.60,503.42 L340.80,499.75 L341.00,495.06 L341.20,491.42 L341.40,488.91 L341.60,487.22 L341.80,487.24 L342.00,488.29 L342.20,491.24 L342.40,494.58 L342.60,498.29 L342.80,502.76 L343.00,507.31 L343.20,510.97 L343.40,513.53 L343.60,515.31 L343.80,514.67 L344.00,513.22 L344.20,510.61 L344.40,506.33 L344.60,502.98 L344.80,498.99 L345.00,495.72 L345.20,492.40 L345.40,491.18 L345.60,491.40 L345.80,492.67 L346.00,495.06 L346.20,499.49 L346.40,503.47 L346.60,508.10 L346.80,511.79 L347.00,515.71 L347.20,517.53 L347.40,518.31 L347.60,518.24 L347.80,516.48 L348.00,512.89 L348.20,509.72 L348.40,505.80 L348.60,501.41 L348.80,497.49 L349.00,495.62 L349.20,494.55 L349.40,494.09 L349.60,496.45 L349.80,498.58 L350.00,502.23 L350.20,506.76 L350.40,510.68 L350.60,514.79 L350.80,517.44 L351.00,519.48 L351.20,519.97 L351.40,519.27 L351.60,517.33 L351.80,514.19 L352.00,510.15 L352.20,506.44 L352.40,502.23 L352.60,499.64 L352.80,497.47 L353.00,496.51 L353.20,496.93 L353.40,499.13 L353.60,502.68 L353.80,506.35 L354.00,511.09 L354.20,515.54 L354.40,519.80 L354.60,523.16 L354.80,525.08 L355.00,526.66 L355.20,526.05 L355.40,523.78 L355.60,520.71 L355.80,516.16 L356.00,512.68 L356.20,507.67 L356.40,504.78 L356.60,501.99 L356.80,501.21 L357.00,502.01 L357.20,502.98 L357.40,506.44 L357.60,510.28 L357.80,514.63 L358.00,518.71 L358.20,522.72 L358.40,525.67 L358.60,527.59 L358.80,528.43 L359.00,527.73 L359.20,525.67 L359.40,522.56 L359.60,519.75 L359.80,515.79 L360.00,512.98 L360.20,509.54 L360.40,507.53 L360.60,507.61 L360.80,507.73 L361.00,509.26 L361.20,512.91 L361.40,515.76 L361.60,520.66 L361.80,524.36 L362.00,528.69 L362.20,531.68 L362.40,532.92 L362.60,533.95 L362.80,532.93 L363.00,530.96 L363.20,527.98 L363.40,524.64 L363.60,520.33 L363.80,516.95 L364.00,514.94 L364.20,512.86 L364.40,512.45 L364.60,512.64 L364.80,514.76 L365.00,518.08 L365.20,521.95 L365.40,526.35 L365.60,530.64 L365.80,532.63 L366.00,535.34 L366.20,537.19 L366.40,537.59 L366.60,537.55 L366.80,535.94 L367.00,533.88 L367.20,532.44 L367.40,529.44 L367.60,526.59 L367.80,524.89 L368.00,523.65 L368.20,522.69 L368.40,523.70 L368.60,524.70 L368.80,526.54 L369.00,529.07 L369.20,532.77 L369.40,535.50 L369.60,538.23 L369.80,540.14 L370.00,541.81 L370.20,542.62 L370.40,541.99 L370.60,539.26 L370.80,536.15 L371.00,533.33 L371.20,529.61 L371.40,526.33 L371.60,522.82 L371.80,520.88 L372.00,519.20 L372.20,519.48 L372.40,520.99 L372.60,523.41 L372.80,526.90 L373.00,530.78 L373.20,533.64 L373.40,537.87 L373.60,539.72 L373.80,541.37 L374.00,542.16 L374.20,540.13 L374.40,538.24 L374.60,535.23 L374.80,531.62 L375.00,527.82 L375.20,523.88 L375.40,519.92 L375.60,518.01 L375.80,516.47 L376.00,517.20 L376.20,518.16 L376.40,521.23 L376.60,524.14 L376.80,528.72 L377.00,532.05 L377.20,536.08 L377.40,538.37 L377.60,540.51 L377.80,540.62 L378.00,539.50 L378.20,537.53 L378.40,534.31 L378.60,530.02 L378.80,525.71 L379.00,521.62 L379.20,518.16 L379.40,515.46 L379.60,513.88 L379.80,514.35 L380.00,514.96 L380.20,517.93 L380.40,520.84 L380.60,526.00 L380.80,529.47 L381.00,533.49 L381.20,536.91 L381.40,538.32 L381.60,538.59 L381.80,537.28 L382.00,535.35 L382.20,532.49 L382.40,527.60 L382.60,523.40 L382.80,518.62 L383.00,514.36 L383.20,511.24 L383.40,510.19 L383.60,510.52 L383.80,511.86 L384.00,514.88 L384.20,518.93 L384.40,523.17 L384.60,527.37 L384.80,531.81 L385.00,535.33 L385.20,536.96 L385.40,537.49 L385.60,536.60 L385.80,534.48 L386.00,530.97 L386.20,526.79 L386.40,521.86 L386.60,517.83 L386.80,513.86 L387.00,511.07 L387.20,509.51 L387.40,510.03 L387.60,512.04 L387.80,515.51 L388.00,519.89 L388.20,524.69 L388.40,530.01 L388.60,534.38 L388.80,538.81 L389.00,541.02 L389.20,541.65 L389.40,540.37 L389.60,538.09 L389.80,534.36 L390.00,529.68 L390.20,525.23 L390.40,520.31 L390.60,516.38 L390.80,514.31 L391.00,512.94 L391.20,513.21 L391.40,514.51 L391.60,517.67 L391.80,521.81 L392.00,526.09 L392.20,529.84 L392.40,534.97 L392.60,537.72 L392.80,539.65 L393.00,539.89 L393.20,538.85 L393.40,537.05 L393.60,534.01 L393.80,529.71 L394.00,525.89 L394.20,522.28 L394.40,519.24 L394.60,516.81 L394.80,515.55 L395.00,515.65 L395.20,518.32 L395.40,520.56 L395.60,524.42 L395.80,528.35 L396.00,532.32 L396.20,537.39 L396.40,540.16 L396.60,542.43 L396.80,542.62 L397.00,542.28 L397.20,540.86 L397.40,537.29 L397.60,533.45 L397.80,529.36 L398.00,525.51 L398.20,522.99 L398.40,520.52 L398.60,518.98 L398.80,520.26 L399.00,521.70 L399.20,524.24 L399.40,526.68 L399.60,531.01 L399.80,535.24 L400.00,538.03 L400.20,540.91 L400.40,542.83 L400.60,542.84 L400.80,542.84 L401.00,541.30 L401.20,538.55 L401.40,535.59 L401.60,531.79 L401.80,528.58 L402.00,525.93 L402.20,524.03 L402.40,523.21 L402.60,523.71 L402.80,525.38 L403.00,527.70 L403.20,530.99 L403.40,534.39 L403.60,537.95 L403.80,540.62 L404.00,542.51 L404.20,544.31 L404.40,545.66 L404.60,544.78 L404.80,543.01 L405.00,540.92 L405.20,538.33 L405.40,535.42 L405.60,532.97 L405.80,530.79 L406.00,529.30 L406.20,528.05 L406.40,528.24 L406.60,529.34 L406.80,531.38" fill="none" stroke="#c8437f" stroke-width="1.6" stroke-linejoin="round"/></g>
<g clip-path="url(#clip_i)"><path d="M22.00,572.65 L22.20,570.76 L22.40,569.00 L22.60,567.27 L22.80,566.84 L23.00,567.77 L23.20,568.12 L23.40,569.43 L23.60,571.72 L23.80,573.53 L24.00,576.44 L24.20,577.98 L24.40,579.32 L24.60,579.60 L24.80,578.95 L25.00,577.72 L25.20,575.47 L25.40,572.80 L25.60,570.20 L25.80,568.09 L26.00,565.69 L26.20,565.92 L26.40,564.63 L26.60,565.75 L26.80,566.77 L27.00,568.52 L27.20,571.40 L27.40,573.42 L27.60,575.24 L27.80,576.92 L28.00,577.30 L28.20,577.49 L28.40,576.61 L28.60,574.76 L28.80,572.71 L29.00,570.72 L29.20,568.47 L29.40,566.81 L29.60,565.03 L29.80,565.55 L30.00,566.31 L30.20,567.62 L30.40,569.86 L30.60,572.46 L30.80,574.05 L31.00,576.13 L31.20,577.07 L31.40,577.75 L31.60,577.68 L31.80,576.49 L32.00,575.01 L32.20,572.39 L32.40,569.99 L32.60,567.01 L32.80,564.68 L33.00,563.32 L33.20,562.34 L33.40,562.71 L33.60,563.82 L33.80,565.72 L34.00,568.45 L34.20,571.05 L34.40,573.29 L34.60,574.94 L34.80,576.75 L35.00,576.21 L35.20,575.49 L35.40,574.72 L35.60,572.50 L35.80,569.90 L36.00,567.30 L36.20,564.42 L36.40,562.75 L36.60,562.47 L36.80,562.35 L37.00,562.72 L37.20,565.28 L37.40,566.76 L37.60,569.63 L37.80,572.59 L38.00,574.48 L38.20,576.37 L38.40,577.24 L38.60,576.96 L38.80,576.17 L39.00,573.92 L39.20,570.68 L39.40,567.84 L39.60,565.27 L39.80,562.85 L40.00,561.05 L40.20,560.78 L40.40,561.30 L40.60,562.22 L40.80,564.77 L41.00,566.66 L41.20,569.40 L41.40,572.53 L41.60,574.04 L41.80,575.15 L42.00,575.50 L42.20,574.45 L42.40,572.88 L42.60,569.76 L42.80,567.11 L43.00,565.17 L43.20,561.63 L43.40,559.10 L43.60,558.88 L43.80,558.96 L44.00,560.37 L44.20,562.07 L44.40,564.55 L44.60,568.18 L44.80,570.88 L45.00,572.56 L45.20,574.95 L45.40,575.26 L45.60,575.15 L45.80,573.12 L46.00,571.03 L46.20,567.84 L46.40,564.76 L46.60,561.60 L46.80,559.11 L47.00,557.77 L47.20,557.56 L47.40,558.34 L47.60,560.58 L47.80,562.92 L48.00,566.16 L48.20,569.70 L48.40,571.81 L48.60,574.01 L48.80,574.80 L49.00,575.04 L49.20,574.49 L49.40,572.11 L49.60,569.77 L49.80,565.98 L50.00,562.89 L50.20,560.86 L50.40,558.59 L50.60,559.04 L50.80,558.97 L51.00,559.67 L51.20,562.35 L51.40,565.21 L51.60,568.78 L51.80,571.77 L52.00,574.64 L52.20,576.50 L52.40,576.59 L52.60,575.74 L52.80,574.60 L53.00,571.59 L53.20,568.63 L53.40,564.75 L53.60,561.83 L53.80,559.13 L54.00,557.40 L54.20,556.90 L54.40,558.02 L54.60,560.40 L54.80,562.55 L55.00,565.36 L55.20,568.88 L55.40,571.54 L55.60,573.15 L55.80,574.63 L56.00,574.75 L56.20,572.70 L56.40,569.89 L56.60,567.04 L56.80,563.75 L57.00,559.87 L57.20,556.83 L57.40,555.08 L57.60,553.91 L57.80,553.97 L58.00,555.26 L58.20,557.96 L58.40,561.17 L58.60,565.21 L58.80,568.31 L59.00,571.98 L59.20,573.44 L59.40,573.86 L59.60,573.45 L59.80,570.54 L60.00,567.88 L60.20,564.31 L60.40,561.00 L60.60,557.22 L60.80,555.23 L61.00,553.27 L61.20,553.53 L61.40,554.29 L61.60,557.21 L61.80,560.06 L62.00,564.06 L62.20,567.53 L62.40,570.62 L62.60,573.18 L62.80,574.62 L63.00,573.60 L63.20,571.66 L63.40,569.05 L63.60,565.56 L63.80,560.83 L64.00,556.97 L64.20,553.96 L64.40,551.66 L64.60,551.06 L64.80,552.02 L65.00,553.73 L65.20,556.91 L65.40,561.08 L65.60,564.98 L65.80,568.55 L66.00,571.58 L66.20,573.40 L66.40,574.72 L66.60,573.05 L66.80,570.79 L67.00,567.40 L67.20,562.86 L67.40,559.21 L67.60,555.19 L67.80,552.02 L68.00,551.17 L68.20,551.00 L68.40,552.81 L68.60,555.92 L68.80,560.37 L69.00,563.81 L69.20,568.02 L69.40,571.70 L69.60,574.12 L69.80,574.88 L70.00,573.96 L70.20,571.90 L70.40,568.83 L70.60,564.42 L70.80,560.14 L71.00,555.76 L71.20,553.02 L71.40,549.95 L71.60,550.13 L71.80,550.08 L72.00,552.06 L72.20,555.27 L72.40,559.80 L72.60,564.34 L72.80,567.95 L73.00,571.52 L73.20,573.22 L73.40,573.44 L73.60,572.16 L73.80,569.48 L74.00,564.72 L74.20,560.08 L74.40,556.27 L74.60,552.24 L74.80,549.63 L75.00,547.56 L75.20,548.10 L75.40,550.66 L75.60,553.01 L75.80,557.69 L76.00,561.86 L76.20,566.06 L76.40,569.13 L76.60,572.11 L76.80,571.91 L77.00,571.27 L77.20,569.00 L77.40,566.06 L77.60,561.45 L77.80,557.00 L78.00,552.56 L78.20,549.44 L78.40,547.61 L78.60,547.58 L78.80,548.45 L79.00,550.65 L79.20,555.27 L79.40,559.41 L79.60,563.64 L79.80,567.99 L80.00,570.76 L80.20,573.23 L80.40,572.41 L80.60,570.17 L80.80,567.70 L81.00,563.16 L81.20,559.12 L81.40,554.22 L81.60,549.83 L81.80,547.61 L82.00,546.39 L82.20,547.15 L82.40,549.48 L82.60,552.69 L82.80,557.85 L83.00,562.42 L83.20,567.03 L83.40,571.20 L83.60,573.80 L83.80,573.42 L84.00,572.74 L84.20,568.53 L84.40,565.00 L84.60,559.61 L84.80,554.61 L85.00,549.73 L85.20,546.36 L85.40,544.53 L85.60,544.40 L85.80,546.30 L86.00,550.11 L86.20,553.59 L86.40,558.64 L86.60,563.22 L86.80,567.28 L87.00,571.43 L87.20,571.87 L87.40,571.42 L87.60,569.23 L87.80,565.59 L88.00,560.52 L88.20,555.75 L88.40,550.24 L88.60,545.83 L88.80,544.00 L89.00,543.39 L89.20,544.42 L89.40,547.58 L89.60,551.87 L89.80,557.73 L90.00,562.09 L90.20,566.32 L90.40,570.17 L90.60,571.31 L90.80,571.96 L91.00,570.11 L91.20,566.31 L91.40,561.83 L91.60,556.69 L91.80,552.33 L92.00,547.70 L92.20,544.21 L92.40,542.89 L92.60,543.80 L92.80,546.16 L93.00,549.75 L93.20,554.86 L93.40,559.97 L93.60,565.43 L93.80,569.29 L94.00,571.62 L94.20,572.26 L94.40,570.53 L94.60,567.80 L94.80,562.97 L95.00,557.20 L95.20,551.71 L95.40,546.46 L95.60,543.56 L95.80,540.61 L96.00,540.83 L96.20,542.71 L96.40,546.03 L96.60,551.20 L96.80,556.67 L97.00,561.98 L97.20,566.32 L97.40,569.42 L97.60,570.59 L97.80,569.47 L98.00,566.81 L98.20,562.61 L98.40,557.33 L98.60,551.53 L98.80,547.06 L99.00,542.72 L99.20,540.11 L99.40,539.00 L99.60,540.37 L99.80,543.19 L100.00,548.45 L100.20,554.02 L100.40,559.53 L100.60,564.51 L100.80,568.09 L101.00,570.49 L101.20,570.53 L101.40,568.74 L101.60,564.98 L101.80,559.65 L102.00,554.12 L102.20,548.90 L102.40,544.29 L102.60,541.07 L102.80,539.37 L103.00,540.80 L103.20,544.22 L103.40,548.43 L103.60,554.14 L103.80,559.27 L104.00,564.29 L104.20,568.37 L104.40,570.67 L104.60,571.08 L104.80,569.88 L105.00,566.83 L105.20,562.41 L105.40,556.33 L105.60,551.44 L105.80,546.87 L106.00,543.47 L106.20,541.63 L106.40,542.94 L106.60,544.55 L106.80,548.78 L107.00,553.07 L107.20,559.19 L107.40,564.65 L107.60,568.99 L107.80,572.64 L108.00,574.51 L108.20,572.99 L108.40,570.64 L108.60,567.60 L108.80,562.48 L109.00,556.43 L109.20,550.76 L109.40,547.02 L109.60,544.08 L109.80,543.55 L110.00,543.80 L110.20,546.71 L110.40,550.67 L110.60,555.43 L110.80,560.99 L111.00,565.57 L111.20,568.38 L111.40,569.92 L111.60,569.11 L111.80,567.42 L112.00,563.28 L112.20,557.91 L112.40,552.48 L112.60,547.12 L112.80,542.93 L113.00,540.14 L113.20,539.24 L113.40,540.22 L113.60,543.25 L113.80,548.53 L114.00,554.29 L114.20,560.10 L114.40,565.62 L114.60,569.59 L114.80,572.09 L115.00,572.05 L115.20,570.37 L115.40,567.83 L115.60,562.89 L115.80,558.23 L116.00,552.32 L116.20,547.83 L116.40,544.07 L116.60,543.53 L116.80,543.00 L117.00,545.24 L117.20,548.86 L117.40,553.92 L117.60,559.89 L117.80,565.38 L118.00,570.13 L118.20,573.76 L118.40,574.33 L118.60,574.32 L118.80,571.73 L119.00,566.51 L119.20,561.64 L119.40,555.50 L119.60,550.00 L119.80,546.27 L120.00,544.24 L120.20,543.67 L120.40,544.77 L120.60,547.95 L120.80,552.84 L121.00,558.34 L121.20,563.71 L121.40,567.94 L121.60,572.09 L121.80,573.91 L122.00,574.42 L122.20,571.83 L122.40,567.77 L122.60,562.81 L122.80,557.29 L123.00,551.48 L123.20,546.41 L123.40,543.58 L123.60,542.31 L123.80,542.98 L124.00,545.20 L124.20,549.16 L124.40,554.41 L124.60,559.88 L124.80,565.03 L125.00,568.75 L125.20,571.37 L125.40,571.49 L125.60,570.61 L125.80,567.36 L126.00,562.59 L126.20,557.71 L126.40,552.47 L126.60,547.33 L126.80,544.27 L127.00,542.03 L127.20,542.26 L127.40,543.77 L127.60,547.81 L127.80,552.83 L128.00,558.02 L128.20,563.69 L128.40,568.40 L128.60,572.09 L128.80,573.60 L129.00,573.33 L129.20,570.81 L129.40,566.46 L129.60,561.35 L129.80,556.06 L130.00,551.06 L130.20,547.28 L130.40,544.06 L130.60,542.71 L130.80,543.39 L131.00,547.15 L131.20,551.50 L131.40,556.41 L131.60,562.87 L131.80,568.03 L132.00,572.11 L132.20,574.11 L132.40,575.35 L132.60,573.30 L132.80,569.50 L133.00,564.12 L133.20,558.31 L133.40,552.75 L133.60,547.19 L133.80,543.65 L134.00,541.27 L134.20,541.30 L134.40,543.83 L134.60,547.80 L134.80,552.82 L135.00,559.15 L135.20,565.16 L135.40,569.66 L135.60,573.21 L135.80,574.54 L136.00,574.92 L136.20,571.54 L136.40,567.50 L136.60,562.33 L136.80,557.26 L137.00,551.56 L137.20,546.33 L137.40,543.52 L137.60,541.88 L137.80,543.00 L138.00,546.56 L138.20,550.35 L138.40,555.28 L138.60,560.47 L138.80,565.96 L139.00,569.61 L139.20,571.55 L139.40,572.50 L139.60,570.47 L139.80,567.15 L140.00,562.74 L140.20,556.47 L140.40,551.88 L140.60,546.32 L140.80,543.31 L141.00,541.74 L141.20,542.45 L141.40,545.33 L141.60,549.24 L141.80,554.73 L142.00,560.75 L142.20,567.19 L142.40,572.04 L142.60,575.18 L142.80,576.95 L143.00,576.58 L143.20,573.69 L143.40,569.23 L143.60,564.23 L143.80,558.03 L144.00,552.45 L144.20,548.83 L144.40,545.49 L144.60,544.95 L144.80,544.87 L145.00,548.49 L145.20,552.51 L145.40,558.53 L145.60,562.97 L145.80,567.77 L146.00,571.83 L146.20,573.98 L146.40,574.12 L146.60,572.92 L146.80,569.47 L147.00,564.78 L147.20,559.10 L147.40,553.11 L147.60,548.04 L147.80,544.53 L148.00,541.81 L148.20,542.55 L148.40,543.90 L148.60,547.19 L148.80,552.51 L149.00,557.62 L149.20,563.38 L149.40,567.78 L149.60,571.67 L149.80,572.75 L150.00,572.03 L150.20,570.20 L150.40,566.55 L150.60,562.49 L150.80,557.63 L151.00,551.80 L151.20,547.03 L151.40,544.55 L151.60,543.09 L151.80,543.31 L152.00,545.79 L152.20,549.40 L152.40,553.78 L152.60,559.39 L152.80,563.76 L153.00,567.54 L153.20,570.38 L153.40,571.93 L153.60,571.33 L153.80,568.76 L154.00,564.43 L154.20,559.59 L154.40,554.97 L154.60,550.01 L154.80,546.10 L155.00,542.97 L155.20,541.86 L155.40,542.30 L155.60,544.96 L155.80,548.48 L156.00,552.30 L156.20,557.38 L156.40,561.79 L156.60,565.22 L156.80,568.14 L157.00,569.62 L157.20,568.72 L157.40,567.52 L157.60,563.91 L157.80,559.91 L158.00,555.32 L158.20,550.56 L158.40,547.33 L158.60,544.51 L158.80,543.06 L159.00,543.30 L159.20,545.19 L159.40,548.04 L159.60,551.92 L159.80,556.62 L160.00,561.61 L160.20,565.66 L160.40,568.68 L160.60,571.11 L160.80,571.18 L161.00,570.30 L161.20,567.53 L161.40,563.66 L161.60,559.26 L161.80,554.92 L162.00,551.01 L162.20,546.89 L162.40,545.36 L162.60,544.68 L162.80,544.89 L163.00,546.65 L163.20,549.67 L163.40,554.22 L163.60,558.64 L163.80,562.80 L164.00,566.64 L164.20,568.86 L164.40,570.31 L164.60,570.34 L164.80,568.63 L165.00,566.16 L165.20,562.53 L165.40,558.10 L165.60,553.61 L165.80,549.78 L166.00,547.21 L166.20,544.53 L166.40,544.25 L166.60,544.66 L166.80,547.70 L167.00,549.95 L167.20,554.21 L167.40,557.95 L167.60,563.47 L167.80,565.86 L168.00,569.19 L168.20,570.31 L168.40,571.17 L168.60,569.42 L168.80,567.33 L169.00,563.70 L169.20,560.20 L169.40,556.33 L169.60,553.16 L169.80,548.95 L170.00,547.82 L170.20,546.89 L170.40,547.17 L170.60,548.99 L170.80,551.88 L171.00,555.21 L171.20,559.04 L171.40,562.59 L171.60,566.10 L171.80,569.08 L172.00,570.46 L172.20,571.33 L172.40,571.17 L172.60,569.90 L172.80,567.75 L173.00,564.83 L173.20,561.28 L173.40,559.19 L173.60,556.71 L173.80,554.84 L174.00,553.48 L174.20,553.45 L174.40,553.86 L174.60,555.22 L174.80,557.80 L175.00,560.52 L175.20,563.85 L175.40,566.70 L175.60,568.86 L175.80,570.87 L176.00,572.24 L176.20,572.54 L176.40,572.41 L176.60,570.58 L176.80,569.27 L177.00,566.25 L177.20,564.10 L177.40,562.52 L177.60,560.16 L177.80,558.59 L178.00,557.86 L178.20,557.43 L178.40,557.97 L178.60,559.07 L178.80,560.59 L179.00,562.61 L179.20,564.45 L179.40,566.82 L179.60,568.36 L179.80,570.23 L180.00,570.99 L180.20,571.53 L180.40,571.35 L180.60,570.29 L180.80,569.12 L181.00,567.64 L181.20,566.03 L181.40,564.37 L181.60,562.41 L181.80,560.81 L182.00,560.11 L182.20,559.57 L182.40,559.89 L182.60,560.65 L182.80,561.95 L183.00,562.32 L183.20,564.34 L183.40,566.18 L183.60,568.06 L183.80,569.40 L184.00,570.22 L184.20,570.98 L184.40,570.63 L184.60,570.16 L184.80,569.39 L185.00,567.65 L185.20,566.92 L185.40,564.59 L185.60,562.87 L185.80,561.84 L186.00,559.98 L186.20,559.62 L186.40,559.37 L186.60,559.99 L186.80,561.20 L187.00,561.45 L187.20,562.42 L187.40,564.54 L187.60,566.26 L187.80,567.15 L188.00,568.53 L188.20,569.50 L188.40,569.40 L188.60,569.02 L188.80,568.93 L189.00,568.18 L189.20,567.77 L189.40,566.64 L189.60,565.84 L189.80,563.37 L190.00,561.68 L190.20,560.57 L190.40,559.31 L190.60,557.99 L190.80,557.75 L191.00,558.00 L191.20,558.68 L191.40,559.71 L191.60,561.22 L191.80,562.19 L192.00,564.24 L192.20,565.22 L192.40,565.80 L192.60,566.44 L192.80,566.67 L193.00,566.58 L193.20,566.58 L193.40,566.37 L193.60,565.83 L193.80,566.49 L194.00,565.26 L194.20,564.74 L194.40,562.57 L194.60,561.35 L194.80,558.80 L195.00,557.17 L195.20,554.91 L195.40,553.07 L195.60,551.45 L195.80,550.86 L196.00,551.16 L196.20,550.82 L196.40,552.47 L196.60,554.01 L196.80,556.06 L197.00,558.49 L197.20,560.35 L197.40,561.67 L197.60,563.17 L197.80,563.30 L198.00,563.68 L198.20,563.98 L198.40,564.03 L198.60,563.62 L198.80,563.09 L199.00,563.33 L199.20,563.38 L199.40,562.36 L199.60,561.88 L199.80,560.66 L200.00,559.75 L200.20,557.77 L200.40,555.98 L200.60,553.94 L200.80,551.01 L201.00,548.04 L201.20,546.17 L201.40,543.86 L201.60,543.84 L201.80,543.45 L202.00,543.72 L202.20,545.35 L202.40,547.16 L202.60,550.38 L202.80,552.44 L203.00,554.37 L203.20,556.61 L203.40,558.50 L203.60,559.57 L203.80,560.69 L204.00,561.26 L204.20,560.83 L204.40,561.42 L204.60,561.64 L204.80,561.13 L205.00,561.10 L205.20,560.64 L205.40,560.47 L205.60,560.40 L205.80,559.51 L206.00,558.43 L206.20,557.89 L206.40,555.75 L206.60,553.91 L206.80,551.49 L207.00,549.06 L207.20,546.69 L207.40,544.57 L207.60,542.76 L207.80,542.22 L208.00,541.79 L208.20,542.71 L208.40,543.81 L208.60,545.93 L208.80,547.86 L209.00,550.82 L209.20,552.65 L209.40,554.17 L209.60,555.73 L209.80,557.33 L210.00,558.79 L210.20,558.71 L210.40,559.45 L210.60,559.23 L210.80,559.27 L211.00,559.12 L211.20,559.59 L211.40,559.85 L211.60,559.73 L211.80,559.43 L212.00,558.46 L212.20,557.90 L212.40,556.17 L212.60,554.29 L212.80,552.28 L213.00,549.19 L213.20,546.92 L213.40,544.12 L213.60,542.50 L213.80,540.53 L214.00,540.02 L214.20,540.34 L214.40,541.21 L214.60,542.94 L214.80,544.46 L215.00,547.73 L215.20,549.49 L215.40,551.96 L215.60,553.19 L215.80,555.17 L216.00,555.96 L216.20,556.55 L216.40,556.48 L216.60,556.67 L216.80,556.33 L217.00,556.29 L217.20,556.38 L217.40,555.27 L217.60,555.65 L217.80,555.28 L218.00,554.33 L218.20,554.01 L218.40,553.52 L218.60,551.70 L218.80,549.45 L219.00,547.48 L219.20,544.78 L219.40,541.64 L219.60,539.42 L219.80,537.41 L220.00,535.92 L220.20,535.28 L220.40,535.27 L220.60,536.22 L220.80,537.72 L221.00,539.81 L221.20,542.17 L221.40,544.98 L221.60,547.14 L221.80,548.55 L222.00,550.34 L222.20,551.74 L222.40,551.42 L222.60,551.94 L222.80,551.26 L223.00,551.23 L223.20,551.13 L223.40,550.90 L223.60,550.92 L223.80,549.97 L224.00,549.83 L224.20,549.62 L224.40,548.57 L224.60,546.31 L224.80,544.29 L225.00,541.69 L225.20,538.34 L225.40,533.97 L225.60,530.67 L225.80,526.58 L226.00,524.94 L226.20,523.55 L226.40,522.26 L226.60,523.16 L226.80,524.57 L227.00,527.55 L227.20,531.16 L227.40,534.74 L227.60,538.17 L227.80,540.75 L228.00,543.69 L228.20,546.45 L228.40,547.23 L228.60,547.74 L228.80,548.22 L229.00,547.98 L229.20,548.09 L229.40,548.04 L229.60,548.29 L229.80,548.23 L230.00,549.38 L230.20,549.05 L230.40,548.71 L230.60,547.96 L230.80,546.16 L231.00,543.61 L231.20,541.09 L231.40,537.51 L231.60,533.41 L231.80,528.97 L232.00,524.71 L232.20,521.36 L232.40,518.15 L232.60,516.11 L232.80,515.46 L233.00,516.12 L233.20,517.64 L233.40,519.76 L233.60,522.91 L233.80,525.55 L234.00,528.17 L234.20,530.00 L234.40,531.35 L234.60,531.33 L234.80,531.61 L235.00,532.17 L235.20,531.28 L235.40,531.10 L235.60,530.73 L235.80,530.13 L236.00,529.64 L236.20,528.59 L236.40,528.12 L236.60,527.78 L236.80,525.82 L237.00,523.60 L237.20,521.12 L237.40,516.24 L237.60,512.64 L237.80,507.47 L238.00,501.63 L238.20,497.40 L238.40,494.01 L238.60,491.20 L238.80,490.21 L239.00,491.25 L239.20,493.19 L239.40,496.80 L239.60,501.15 L239.80,506.19 L240.00,511.25 L240.20,516.48 L240.40,519.97 L240.60,522.32 L240.80,524.43 L241.00,525.39 L241.20,526.67 L241.40,525.19 L241.60,525.52 L241.80,525.00 L242.00,524.98 L242.20,523.80 L242.40,523.27 L242.60,523.13 L242.80,522.31 L243.00,520.67 L243.20,518.44 L243.40,515.67 L243.60,512.47 L243.80,507.86 L244.00,502.73 L244.20,498.20 L244.40,492.66 L244.60,488.38 L244.80,485.90 L245.00,484.67 L245.20,485.06 L245.40,487.01 L245.60,490.67 L245.80,495.01 L246.00,500.04 L246.20,505.83 L246.40,510.19 L246.60,514.78 L246.80,516.91 L247.00,519.26 L247.20,521.05 L247.40,520.84 L247.60,522.08 L247.80,521.82 L248.00,522.00 L248.20,521.50 L248.40,521.53 L248.60,521.36 L248.80,520.87 L249.00,520.87 L249.20,520.76 L249.40,519.38 L249.60,517.51 L249.80,514.36 L250.00,510.98 L250.20,506.92 L250.40,502.14 L250.60,498.39 L250.80,494.35 L251.00,491.73 L251.20,489.74 L251.40,488.90 L251.60,489.19 L251.80,491.23 L252.00,494.84 L252.20,498.32 L252.40,502.70 L252.60,506.43 L252.80,510.69 L253.00,514.30 L253.20,516.94 L253.40,519.06 L253.60,519.94 L253.80,520.42 L254.00,521.40 L254.20,521.22 L254.40,520.79 L254.60,520.59 L254.80,520.59 L255.00,519.73 L255.20,518.67 L255.40,519.33 L255.60,517.04 L255.80,515.57 L256.00,512.55 L256.20,509.28 L256.40,506.07 L256.60,501.09 L256.80,496.95 L257.00,492.14 L257.20,488.11 L257.40,485.32 L257.60,483.52 L257.80,483.31 L258.00,483.46 L258.20,485.89 L258.40,489.54 L258.60,493.43 L258.80,497.14 L259.00,500.88 L259.20,504.76 L259.40,506.79 L259.60,509.32 L259.80,511.56 L260.00,511.60 L260.20,513.30 L260.40,513.10 L260.60,513.37 L260.80,514.25 L261.00,513.86 L261.20,513.63 L261.40,513.65 L261.60,513.59 L261.80,512.89 L262.00,512.95 L262.20,511.57 L262.40,509.41 L262.60,507.27 L262.80,503.65 L263.00,499.52 L263.20,495.97 L263.40,492.97 L263.60,490.52 L263.80,489.44 L264.00,488.41 L264.20,489.59 L264.40,491.82 L264.60,494.80 L264.80,498.59 L265.00,502.47 L265.20,507.10 L265.40,512.07 L265.60,514.40 L265.80,517.20 L266.00,519.16 L266.20,521.34 L266.40,523.08 L266.60,523.34 L266.80,524.03 L267.00,525.02 L267.20,525.45 L267.40,525.54 L267.60,525.85 L267.80,524.10 L268.00,521.33 L268.20,518.97 L268.40,516.08 L268.60,512.73 L268.80,510.41 L269.00,507.87 L269.20,507.34 L269.40,507.21 L269.60,508.51 L269.80,510.39 L270.00,513.06 L270.20,516.78 L270.40,520.47 L270.60,524.19 L270.80,526.97 L271.00,530.12 L271.20,532.42 L271.40,533.79 L271.60,534.33 L271.80,534.15 L272.00,533.07 L272.20,530.83 L272.40,527.59 L272.60,523.90 L272.80,519.14 L273.00,516.50 L273.20,513.95 L273.40,511.39 L273.60,510.85 L273.80,510.24 L274.00,511.51 L274.20,513.38 L274.40,516.47 L274.60,519.42 L274.80,523.55 L275.00,527.25 L275.20,530.66 L275.40,533.29 L275.60,535.95 L275.80,536.11 L276.00,536.30 L276.20,534.59 L276.40,532.35 L276.60,529.07 L276.80,525.48 L277.00,521.39 L277.20,519.08 L277.40,515.68 L277.60,513.57 L277.80,511.54 L278.00,512.06 L278.20,513.23 L278.40,515.71 L278.60,518.48 L278.80,522.46 L279.00,526.07 L279.20,529.87 L279.40,533.11 L279.60,534.93 L279.80,536.56 L280.00,536.94 L280.20,536.81 L280.40,534.83 L280.60,532.14 L280.80,528.68 L281.00,525.65 L281.20,522.06 L281.40,519.00 L281.60,516.47 L281.80,514.69 L282.00,515.14 L282.20,515.56 L282.40,517.52 L282.60,519.67 L282.80,523.42 L283.00,526.26 L283.20,530.24 L283.40,533.54 L283.60,536.16 L283.80,538.40 L284.00,538.51 L284.20,537.55 L284.40,535.79 L284.60,532.70 L284.80,529.00 L285.00,524.61 L285.20,520.63 L285.40,516.79 L285.60,514.48 L285.80,513.48 L286.00,513.28 L286.20,513.57 L286.40,516.53 L286.60,519.80 L286.80,524.33 L287.00,528.27 L287.20,533.23 L287.40,537.52 L287.60,540.26 L287.80,542.84 L288.00,544.45 L288.20,543.63 L288.40,542.27 L288.60,539.30 L288.80,535.34 L289.00,531.91 L289.20,528.15 L289.40,524.46 L289.60,522.33 L289.80,520.13 L290.00,520.27 L290.20,521.27 L290.40,523.44 L290.60,526.57 L290.80,530.42 L291.00,534.99 L291.20,539.51 L291.40,543.06 L291.60,545.96 L291.80,547.54 L292.00,547.76 L292.20,546.92 L292.40,544.86 L292.60,540.96 L292.80,537.68 L293.00,533.13 L293.20,530.55 L293.40,526.56 L293.60,524.67 L293.80,524.44 L294.00,525.05 L294.20,527.29 L294.40,530.66 L294.60,534.19 L294.80,539.34 L295.00,543.04 L295.20,547.16 L295.40,550.65 L295.60,551.65 L295.80,552.73 L296.00,552.00 L296.20,550.12 L296.40,546.41 L296.60,542.48 L296.80,537.25 L297.00,533.39 L297.20,529.51 L297.40,526.34 L297.60,524.91 L297.80,524.85 L298.00,526.10 L298.20,528.56 L298.40,532.54 L298.60,536.14 L298.80,539.95 L299.00,542.59 L299.20,545.44 L299.40,547.65 L299.60,547.90 L299.80,546.88 L300.00,544.93 L300.20,542.13 L300.40,538.16 L300.60,533.73 L300.80,530.56 L301.00,527.97 L301.20,525.67 L301.40,525.63 L301.60,526.64 L301.80,529.34 L302.00,532.39 L302.20,535.72 L302.40,539.04 L302.60,543.46 L302.80,546.19 L303.00,548.62 L303.20,550.36 L303.40,549.54 L303.60,548.39 L303.80,545.49 L304.00,542.08 L304.20,537.64 L304.40,533.51 L304.60,530.29 L304.80,527.12 L305.00,525.18 L305.20,524.54 L305.40,525.52 L305.60,527.37 L305.80,530.62 L306.00,534.06 L306.20,537.51 L306.40,541.28 L306.60,544.60 L306.80,547.33 L307.00,547.74 L307.20,546.36 L307.40,544.03 L307.60,540.77 L307.80,536.98 L308.00,533.18 L308.20,528.54 L308.40,524.75 L308.60,522.51 L308.80,521.04 L309.00,522.02 L309.20,523.10 L309.40,525.98 L309.60,529.66 L309.80,533.34 L310.00,538.17 L310.20,541.98 L310.40,544.61 L310.60,546.37 L310.80,546.34 L311.00,545.20 L311.20,542.98 L311.40,539.12 L311.60,535.25 L311.80,530.79 L312.00,526.70 L312.20,523.20 L312.40,520.86 L312.60,520.10 L312.80,520.88 L313.00,522.39 L313.20,525.51 L313.40,529.12 L313.60,533.04 L313.80,538.35 L314.00,541.84 L314.20,545.03 L314.40,546.44 L314.60,546.51 L314.80,544.98 L315.00,541.27 L315.20,538.76 L315.40,534.42 L315.60,530.34 L315.80,526.63 L316.00,523.60 L316.20,521.74 L316.40,520.61 L316.60,522.08 L316.80,524.64 L317.00,528.10 L317.20,531.82 L317.40,535.72 L317.60,540.04 L317.80,543.45 L318.00,545.61 L318.20,546.73 L318.40,545.86 L318.60,543.11 L318.80,540.18 L319.00,535.65 L319.20,531.42 L319.40,526.52 L319.60,523.25 L319.80,519.85 L320.00,518.39 L320.20,518.17 L320.40,520.11 L320.60,522.58 L320.80,526.35 L321.00,530.64 L321.20,534.24 L321.40,538.64 L321.60,541.15 L321.80,542.58 L322.00,542.69 L322.20,541.34 L322.40,538.65 L322.60,535.41 L322.80,530.85 L323.00,526.24 L323.20,521.82 L323.40,518.52 L323.60,516.70 L323.80,515.21 L324.00,514.95 L324.20,516.72 L324.40,520.68 L324.60,524.06 L324.80,528.94 L325.00,533.54 L325.20,537.42 L325.40,540.59 L325.60,541.24 L325.80,541.23 L326.00,539.24 L326.20,535.91 L326.40,531.93 L326.60,527.88 L326.80,523.13 L327.00,518.19 L327.20,515.39 L327.40,513.17 L327.60,513.13 L327.80,513.84 L328.00,516.93 L328.20,520.78 L328.40,525.13 L328.60,529.99 L328.80,534.32 L329.00,538.02 L329.20,540.91 L329.40,541.87 L329.60,541.35 L329.80,539.09 L330.00,536.04 L330.20,531.40 L330.40,527.28 L330.60,523.29 L330.80,519.36 L331.00,516.39 L331.20,515.40 L331.40,515.47 L331.60,517.10 L331.80,519.82 L332.00,524.10 L332.20,528.32 L332.40,532.58 L332.60,536.79 L332.80,540.08 L333.00,542.20 L333.20,542.62 L333.40,540.77 L333.60,539.28 L333.80,535.73 L334.00,531.59 L334.20,527.53 L334.40,523.54 L334.60,519.87 L334.80,517.37 L335.00,516.33 L335.20,517.11 L335.40,519.12 L335.60,521.95 L335.80,526.73 L336.00,531.11 L336.20,535.64 L336.40,540.10 L336.60,542.88 L336.80,544.22 L337.00,544.76 L337.20,543.70 L337.40,540.23 L337.60,536.06 L337.80,532.25 L338.00,526.84 L338.20,522.85 L338.40,519.96 L338.60,517.68 L338.80,517.79 L339.00,518.31 L339.20,521.02 L339.40,524.88 L339.60,529.10 L339.80,534.05 L340.00,537.83 L340.20,542.78 L340.40,544.91 L340.60,546.14 L340.80,545.88 L341.00,544.51 L341.20,541.38 L341.40,537.77 L341.60,533.18 L341.80,528.63 L342.00,525.01 L342.20,522.12 L342.40,520.87 L342.60,520.63 L342.80,521.76 L343.00,524.67 L343.20,528.11 L343.40,532.66 L343.60,537.09 L343.80,541.43 L344.00,544.44 L344.20,546.96 L344.40,547.96 L344.60,547.18 L344.80,545.71 L345.00,542.72 L345.20,539.26 L345.40,534.53 L345.60,530.41 L345.80,526.90 L346.00,524.94 L346.20,523.45 L346.40,523.43 L346.60,525.30 L346.80,528.21 L347.00,532.18 L347.20,536.20 L347.40,540.07 L347.60,544.85 L347.80,547.52 L348.00,550.01 L348.20,550.87 L348.40,549.48 L348.60,547.89 L348.80,544.67 L349.00,541.35 L349.20,536.25 L349.40,532.58 L349.60,528.86 L349.80,526.87 L350.00,525.80 L350.20,527.04 L350.40,529.19 L350.60,532.47 L350.80,535.80 L351.00,540.46 L351.20,545.92 L351.40,550.73 L351.60,554.20 L351.80,556.22 L352.00,557.02 L352.20,557.19 L352.40,555.23 L352.60,550.91 L352.80,546.76 L353.00,542.18 L353.20,538.53 L353.40,534.54 L353.60,532.17 L353.80,530.40 L354.00,530.99 L354.20,532.47 L354.40,535.30 L354.60,538.95 L354.80,542.80 L355.00,546.21 L355.20,550.05 L355.40,552.16 L355.60,553.89 L355.80,554.07 L356.00,554.00 L356.20,552.13 L356.40,549.25 L356.60,546.02 L356.80,543.02 L357.00,539.82 L357.20,537.14 L357.40,536.03 L357.60,535.68 L357.80,536.19 L358.00,538.09 L358.20,540.66 L358.40,544.44 L358.60,547.89 L358.80,551.39 L359.00,555.23 L359.20,557.64 L359.40,559.00 L359.60,559.43 L359.80,558.88 L360.00,556.69 L360.20,554.58 L360.40,551.71 L360.60,548.34 L360.80,545.74 L361.00,543.33 L361.20,541.65 L361.40,541.59 L361.60,542.29 L361.80,543.95 L362.00,546.66 L362.20,549.36 L362.40,552.65 L362.60,556.11 L362.80,559.42 L363.00,561.79 L363.20,562.54 L363.40,563.26 L363.60,562.55 L363.80,561.45 L364.00,558.56 L364.20,556.78 L364.40,553.86 L364.60,551.23 L364.80,550.55 L365.00,549.18 L365.20,549.74 L365.40,550.44 L365.60,552.30 L365.80,554.63 L366.00,557.20 L366.20,560.59 L366.40,562.93 L366.60,565.57 L366.80,568.09 L367.00,569.76 L367.20,569.79 L367.40,569.10 L367.60,568.43 L367.80,567.12 L368.00,565.41 L368.20,563.25 L368.40,562.01 L368.60,560.52 L368.80,559.60 L369.00,559.36 L369.20,560.92 L369.40,561.41 L369.60,563.31 L369.80,565.33 L370.00,568.10 L370.20,569.99 L370.40,572.85 L370.60,573.84 L370.80,575.45 L371.00,574.93 L371.20,574.28 L371.40,572.95 L371.60,571.12 L371.80,568.44 L372.00,565.48 L372.20,563.04 L372.40,560.96 L372.60,558.56 L372.80,558.60 L373.00,558.22 L373.20,558.33 L373.40,560.87 L373.60,563.06 L373.80,565.58 L374.00,568.16 L374.20,570.43 L374.40,572.55 L374.60,573.39 L374.80,573.62 L375.00,572.45 L375.20,571.10 L375.40,568.11 L375.60,565.28 L375.80,561.78 L376.00,558.63 L376.20,556.22 L376.40,554.19 L376.60,552.85 L376.80,552.78 L377.00,553.55 L377.20,555.67 L377.40,558.09 L377.60,561.14 L377.80,564.07 L378.00,566.80 L378.20,569.25 L378.40,570.31 L378.60,570.92 L378.80,570.29 L379.00,568.70 L379.20,565.77 L379.40,562.68 L379.60,559.52 L379.80,556.08 L380.00,553.48 L380.20,551.44 L380.40,550.47 L380.60,550.12 L380.80,551.35 L381.00,553.42 L381.20,556.02 L381.40,558.97 L381.60,562.44 L381.80,565.78 L382.00,567.59 L382.20,568.66 L382.40,569.40 L382.60,567.57 L382.80,565.80 L383.00,562.20 L383.20,557.67 L383.40,554.16 L383.60,550.45 L383.80,547.29 L384.00,545.04 L384.20,544.22 L384.40,544.32 L384.60,546.08 L384.80,548.20 L385.00,551.68 L385.20,555.82 L385.40,559.50 L385.60,562.91 L385.80,565.91 L386.00,567.26 L386.20,567.54 L386.40,566.76 L386.60,564.86 L386.80,561.74 L387.00,557.31 L387.20,553.26 L387.40,549.48 L387.60,545.99 L387.80,543.13 L388.00,542.28 L388.20,541.92 L388.40,543.29 L388.60,545.61 L388.80,549.50 L389.00,553.36 L389.20,556.89 L389.40,560.88 L389.60,563.62 L389.80,565.26 L390.00,565.51 L390.20,564.89 L390.40,562.32 L390.60,559.23 L390.80,555.50 L391.00,551.71 L391.20,548.06 L391.40,543.90 L391.60,542.14 L391.80,541.09 L392.00,541.95 L392.20,543.22 L392.40,547.10 L392.60,550.25 L392.80,555.13 L393.00,558.65 L393.20,563.07 L393.40,566.52 L393.60,568.46 L393.80,568.52 L394.00,567.96 L394.20,566.08 L394.40,563.91 L394.60,559.70 L394.80,556.79 L395.00,552.77 L395.20,549.83 L395.40,547.06 L395.60,546.13 L395.80,546.47 L396.00,547.59 L396.20,550.24 L396.40,554.17 L396.60,557.94 L396.80,562.06 L397.00,565.37 L397.20,568.77 L397.40,570.96 L397.60,571.38 L397.80,570.52 L398.00,569.11 L398.20,566.33 L398.40,562.74 L398.60,558.72 L398.80,554.92 L399.00,553.13 L399.20,550.75 L399.40,549.69 L399.60,550.06 L399.80,551.29 L400.00,555.11 L400.20,558.07 L400.40,561.93 L400.60,565.71 L400.80,569.20 L401.00,572.07 L401.20,573.13 L401.40,573.68 L401.60,573.08 L401.80,571.10 L402.00,567.75 L402.20,564.02 L402.40,559.61 L402.60,555.89 L402.80,552.98 L403.00,551.10 L403.20,550.35 L403.40,551.03 L403.60,552.43 L403.80,555.39 L404.00,559.80 L404.20,563.78 L404.40,567.79 L404.60,571.94 L404.80,575.90 L405.00,576.57 L405.20,577.49 L405.40,576.65 L405.60,574.58 L405.80,571.42 L406.00,568.24 L406.20,563.79 L406.40,559.68 L406.60,557.62 L406.80,554.74" fill="none" stroke="#5dbab0" stroke-width="1.6" stroke-linejoin="round"/></g>
<g clip-path="url(#clip_i)"><path d="M22.00,608.48 L22.20,607.72 L22.40,607.57 L22.60,606.50 L22.80,606.02 L23.00,604.84 L23.20,603.83 L23.40,604.52 L23.60,603.47 L23.80,603.69 L24.00,603.89 L24.20,604.61 L24.40,605.43 L24.60,606.18 L24.80,607.02 L25.00,607.93 L25.20,607.67 L25.40,607.32 L25.60,606.99 L25.80,606.47 L26.00,605.24 L26.20,604.93 L26.40,603.45 L26.60,602.54 L26.80,601.93 L27.00,601.14 L27.20,601.33 L27.40,602.23 L27.60,602.99 L27.80,603.69 L28.00,605.46 L28.20,605.52 L28.40,606.61 L28.60,607.14 L28.80,606.47 L29.00,607.55 L29.20,606.33 L29.40,604.82 L29.60,604.46 L29.80,602.66 L30.00,601.37 L30.20,600.09 L30.40,599.73 L30.60,599.20 L30.80,600.35 L31.00,600.90 L31.20,602.28 L31.40,604.01 L31.60,605.10 L31.80,606.28 L32.00,607.12 L32.20,607.19 L32.40,607.50 L32.60,607.03 L32.80,605.66 L33.00,604.27 L33.20,602.18 L33.40,600.55 L33.60,599.01 L33.80,598.88 L34.00,598.06 L34.20,598.76 L34.40,598.87 L34.60,600.19 L34.80,601.83 L35.00,603.70 L35.20,604.96 L35.40,606.11 L35.60,606.57 L35.80,606.46 L36.00,605.20 L36.20,604.34 L36.40,602.57 L36.60,600.68 L36.80,598.93 L37.00,596.95 L37.20,596.00 L37.40,595.50 L37.60,596.04 L37.80,597.23 L38.00,598.43 L38.20,601.06 L38.40,603.86 L38.60,605.06 L38.80,607.12 L39.00,608.06 L39.20,608.42 L39.40,608.32 L39.60,606.38 L39.80,604.08 L40.00,601.99 L40.20,599.04 L40.40,597.19 L40.60,595.07 L40.80,594.25 L41.00,593.36 L41.20,595.08 L41.40,595.83 L41.60,597.80 L41.80,600.11 L42.00,602.47 L42.20,604.65 L42.40,606.46 L42.60,607.01 L42.80,607.11 L43.00,605.61 L43.20,604.08 L43.40,601.64 L43.60,598.37 L43.80,596.27 L44.00,593.64 L44.20,592.60 L44.40,591.87 L44.60,592.48 L44.80,593.22 L45.00,595.65 L45.20,598.78 L45.40,600.98 L45.60,603.14 L45.80,605.18 L46.00,606.16 L46.20,606.40 L46.40,605.95 L46.60,604.53 L46.80,601.33 L47.00,598.46 L47.20,595.18 L47.40,592.56 L47.60,590.55 L47.80,589.56 L48.00,589.88 L48.20,590.62 L48.40,593.48 L48.60,596.35 L48.80,599.09 L49.00,602.19 L49.20,604.12 L49.40,605.82 L49.60,606.73 L49.80,606.28 L50.00,604.85 L50.20,602.29 L50.40,599.26 L50.60,596.44 L50.80,592.48 L51.00,590.62 L51.20,588.72 L51.40,588.33 L51.60,588.67 L51.80,589.11 L52.00,592.34 L52.20,594.97 L52.40,597.73 L52.60,600.18 L52.80,602.48 L53.00,603.38 L53.20,604.19 L53.40,602.78 L53.60,601.18 L53.80,597.45 L54.00,593.90 L54.20,591.39 L54.40,588.61 L54.60,586.35 L54.80,584.94 L55.00,585.54 L55.20,587.33 L55.40,589.58 L55.60,592.81 L55.80,596.24 L56.00,599.44 L56.20,602.41 L56.40,604.01 L56.60,605.61 L56.80,604.23 L57.00,602.56 L57.20,599.10 L57.40,595.98 L57.60,591.30 L57.80,588.54 L58.00,585.38 L58.20,584.25 L58.40,582.79 L58.60,584.28 L58.80,586.72 L59.00,590.31 L59.20,593.70 L59.40,597.98 L59.60,601.00 L59.80,604.17 L60.00,606.06 L60.20,606.31 L60.40,604.50 L60.60,602.54 L60.80,598.89 L61.00,594.33 L61.20,589.70 L61.40,586.25 L61.60,583.95 L61.80,583.28 L62.00,583.28 L62.20,584.23 L62.40,587.67 L62.60,591.89 L62.80,595.28 L63.00,598.91 L63.20,602.76 L63.40,604.01 L63.60,604.27 L63.80,603.44 L64.00,600.85 L64.20,597.38 L64.40,593.85 L64.60,589.64 L64.80,585.76 L65.00,582.56 L65.20,581.28 L65.40,580.75 L65.60,582.25 L65.80,585.12 L66.00,588.77 L66.20,593.36 L66.40,597.03 L66.60,599.96 L66.80,602.72 L67.00,604.65 L67.20,603.87 L67.40,602.37 L67.60,599.05 L67.80,595.79 L68.00,591.17 L68.20,587.66 L68.40,583.65 L68.60,581.81 L68.80,580.72 L69.00,580.84 L69.20,583.33 L69.40,585.83 L69.60,589.71 L69.80,594.47 L70.00,598.18 L70.20,601.48 L70.40,603.60 L70.60,603.93 L70.80,603.50 L71.00,600.90 L71.20,597.10 L71.40,592.85 L71.60,588.68 L71.80,585.21 L72.00,582.05 L72.20,580.10 L72.40,580.52 L72.60,581.82 L72.80,584.75 L73.00,589.32 L73.20,593.06 L73.40,597.28 L73.60,600.46 L73.80,603.18 L74.00,604.87 L74.20,604.12 L74.40,602.57 L74.60,598.91 L74.80,594.99 L75.00,591.08 L75.20,587.20 L75.40,583.40 L75.60,581.25 L75.80,580.55 L76.00,581.09 L76.20,582.69 L76.40,586.30 L76.60,590.59 L76.80,594.42 L77.00,598.39 L77.20,600.59 L77.40,602.35 L77.60,602.78 L77.80,600.45 L78.00,597.91 L78.20,594.69 L78.40,590.08 L78.60,586.53 L78.80,582.74 L79.00,580.41 L79.20,579.31 L79.40,579.89 L79.60,581.63 L79.80,585.08 L80.00,589.03 L80.20,593.94 L80.40,598.69 L80.60,601.92 L80.80,604.40 L81.00,604.78 L81.20,604.51 L81.40,601.75 L81.60,598.20 L81.80,594.30 L82.00,589.67 L82.20,585.80 L82.40,582.64 L82.60,580.11 L82.80,579.94 L83.00,581.66 L83.20,584.11 L83.40,587.81 L83.60,592.38 L83.80,596.29 L84.00,600.58 L84.20,603.66 L84.40,605.11 L84.60,604.13 L84.80,602.42 L85.00,599.35 L85.20,594.90 L85.40,590.18 L85.60,585.98 L85.80,581.89 L86.00,578.89 L86.20,578.53 L86.40,578.97 L86.60,581.21 L86.80,584.58 L87.00,589.80 L87.20,593.50 L87.40,597.97 L87.60,601.80 L87.80,604.29 L88.00,604.73 L88.20,602.73 L88.40,600.25 L88.60,595.91 L88.80,592.08 L89.00,586.69 L89.20,583.01 L89.40,580.18 L89.60,578.10 L89.80,578.58 L90.00,579.53 L90.20,582.98 L90.40,587.22 L90.60,591.55 L90.80,596.62 L91.00,600.20 L91.20,602.07 L91.40,604.61 L91.60,602.67 L91.80,599.85 L92.00,595.36 L92.20,591.08 L92.40,585.92 L92.60,581.64 L92.80,577.92 L93.00,576.19 L93.20,575.26 L93.40,576.77 L93.60,579.77 L93.80,583.91 L94.00,588.89 L94.20,594.33 L94.40,598.68 L94.60,601.53 L94.80,603.06 L95.00,603.09 L95.20,601.38 L95.40,597.40 L95.60,593.21 L95.80,587.25 L96.00,582.48 L96.20,577.46 L96.40,575.16 L96.60,574.09 L96.80,575.03 L97.00,577.84 L97.20,581.22 L97.40,586.43 L97.60,591.14 L97.80,595.73 L98.00,598.84 L98.20,601.52 L98.40,601.22 L98.60,600.38 L98.80,597.05 L99.00,593.09 L99.20,588.06 L99.40,583.56 L99.60,579.62 L99.80,576.44 L100.00,574.55 L100.20,575.65 L100.40,577.29 L100.60,580.98 L100.80,585.43 L101.00,590.06 L101.20,594.80 L101.40,599.37 L101.60,602.85 L101.80,603.23 L102.00,602.94 L102.20,599.89 L102.40,596.15 L102.60,590.57 L102.80,586.31 L103.00,581.25 L103.20,577.90 L103.40,575.40 L103.60,575.12 L103.80,576.24 L104.00,579.55 L104.20,583.17 L104.40,588.24 L104.60,593.26 L104.80,596.90 L105.00,599.59 L105.20,600.86 L105.40,600.66 L105.60,598.30 L105.80,595.23 L106.00,590.46 L106.20,586.03 L106.40,582.07 L106.60,578.51 L106.80,575.52 L107.00,575.31 L107.20,575.61 L107.40,578.54 L107.60,581.38 L107.80,585.99 L108.00,590.71 L108.20,594.93 L108.40,598.59 L108.60,600.26 L108.80,600.72 L109.00,599.20 L109.20,595.93 L109.40,592.06 L109.60,588.03 L109.80,583.31 L110.00,579.43 L110.20,576.34 L110.40,575.40 L110.60,574.87 L110.80,577.39 L111.00,580.35 L111.20,584.85 L111.40,588.86 L111.60,593.05 L111.80,596.95 L112.00,598.44 L112.20,599.56 L112.40,598.04 L112.60,596.32 L112.80,592.94 L113.00,588.89 L113.20,584.01 L113.40,580.43 L113.60,577.39 L113.80,575.54 L114.00,575.35 L114.20,576.75 L114.40,579.40 L114.60,582.68 L114.80,586.79 L115.00,592.31 L115.20,595.95 L115.40,597.68 L115.60,599.52 L115.80,599.26 L116.00,597.44 L116.20,594.10 L116.40,589.73 L116.60,585.55 L116.80,581.26 L117.00,578.01 L117.20,575.65 L117.40,574.98 L117.60,576.19 L117.80,578.59 L118.00,581.37 L118.20,585.80 L118.40,589.95 L118.60,594.30 L118.80,596.83 L119.00,598.98 L119.20,598.67 L119.40,597.65 L119.60,594.79 L119.80,592.17 L120.00,587.76 L120.20,583.37 L120.40,580.10 L120.60,577.02 L120.80,576.40 L121.00,576.57 L121.20,578.15 L121.40,581.21 L121.60,584.18 L121.80,588.42 L122.00,592.42 L122.20,595.69 L122.40,597.35 L122.60,599.00 L122.80,597.72 L123.00,595.76 L123.20,592.05 L123.40,588.46 L123.60,584.13 L123.80,580.19 L124.00,577.10 L124.20,575.69 L124.40,575.42 L124.60,576.65 L124.80,580.12 L125.00,582.69 L125.20,587.09 L125.40,591.21 L125.60,595.44 L125.80,597.93 L126.00,598.83 L126.20,599.28 L126.40,598.19 L126.60,595.73 L126.80,591.32 L127.00,587.54 L127.20,583.75 L127.40,580.29 L127.60,578.45 L127.80,577.45 L128.00,578.18 L128.20,579.92 L128.40,583.80 L128.60,587.11 L128.80,591.14 L129.00,594.00 L129.20,597.00 L129.40,598.27 L129.60,598.58 L129.80,597.73 L130.00,595.80 L130.20,592.70 L130.40,589.62 L130.60,585.12 L130.80,581.81 L131.00,580.10 L131.20,578.33 L131.40,577.40 L131.60,579.20 L131.80,581.33 L132.00,583.65 L132.20,587.65 L132.40,591.26 L132.60,594.49 L132.80,596.68 L133.00,597.39 L133.20,597.35 L133.40,595.42 L133.60,592.57 L133.80,589.19 L134.00,585.98 L134.20,581.74 L134.40,579.63 L134.60,577.15 L134.80,576.62 L135.00,577.39 L135.20,579.32 L135.40,581.04 L135.60,584.66 L135.80,588.41 L136.00,591.48 L136.20,594.49 L136.40,595.15 L136.60,596.20 L136.80,595.27 L137.00,593.12 L137.20,590.51 L137.40,586.37 L137.60,583.57 L137.80,579.90 L138.00,577.97 L138.20,576.37 L138.40,576.66 L138.60,577.82 L138.80,579.40 L139.00,582.82 L139.20,586.29 L139.40,589.55 L139.60,592.24 L139.80,595.21 L140.00,595.84 L140.20,596.18 L140.40,594.33 L140.60,591.98 L140.80,589.46 L141.00,586.08 L141.20,583.92 L141.40,580.77 L141.60,579.40 L141.80,578.45 L142.00,579.08 L142.20,580.95 L142.40,583.77 L142.60,586.95 L142.80,590.17 L143.00,593.29 L143.20,595.78 L143.40,597.66 L143.60,598.21 L143.80,597.23 L144.00,594.95 L144.20,591.70 L144.40,588.30 L144.60,584.67 L144.80,581.09 L145.00,578.49 L145.20,576.84 L145.40,576.92 L145.60,577.57 L145.80,579.95 L146.00,583.07 L146.20,586.69 L146.40,590.28 L146.60,592.96 L146.80,595.07 L147.00,595.52 L147.20,596.01 L147.40,595.18 L147.60,591.88 L147.80,588.73 L148.00,585.51 L148.20,582.61 L148.40,579.68 L148.60,577.46 L148.80,576.78 L149.00,577.50 L149.20,578.96 L149.40,582.04 L149.60,584.83 L149.80,588.21 L150.00,591.87 L150.20,594.53 L150.40,596.30 L150.60,597.39 L150.80,596.93 L151.00,594.66 L151.20,592.23 L151.40,588.96 L151.60,585.63 L151.80,582.21 L152.00,579.83 L152.20,578.14 L152.40,578.06 L152.60,578.14 L152.80,581.23 L153.00,584.19 L153.20,587.38 L153.40,591.14 L153.60,594.46 L153.80,596.46 L154.00,598.17 L154.20,598.64 L154.40,597.59 L154.60,595.80 L154.80,592.63 L155.00,589.20 L155.20,585.37 L155.40,582.18 L155.60,579.48 L155.80,578.38 L156.00,577.33 L156.20,577.51 L156.40,579.58 L156.60,582.11 L156.80,584.51 L157.00,589.09 L157.20,591.82 L157.40,595.19 L157.60,596.54 L157.80,597.07 L158.00,597.13 L158.20,594.89 L158.40,592.62 L158.60,589.61 L158.80,586.27 L159.00,583.00 L159.20,579.99 L159.40,577.77 L159.60,577.71 L159.80,577.24 L160.00,579.40 L160.20,581.13 L160.40,584.72 L160.60,588.12 L160.80,590.86 L161.00,594.23 L161.20,596.53 L161.40,597.71 L161.60,597.52 L161.80,596.64 L162.00,594.42 L162.20,591.41 L162.40,588.85 L162.60,585.10 L162.80,582.70 L163.00,580.10 L163.20,578.17 L163.40,577.93 L163.60,578.52 L163.80,579.97 L164.00,582.83 L164.20,585.53 L164.40,589.37 L164.60,592.24 L164.80,594.36 L165.00,596.50 L165.20,597.38 L165.40,596.89 L165.60,596.54 L165.80,594.56 L166.00,591.90 L166.20,588.46 L166.40,585.84 L166.60,582.67 L166.80,580.79 L167.00,579.64 L167.20,578.68 L167.40,578.74 L167.60,580.53 L167.80,583.15 L168.00,586.18 L168.20,588.59 L168.40,591.73 L168.60,594.37 L168.80,596.32 L169.00,597.57 L169.20,597.25 L169.40,596.76 L169.60,595.77 L169.80,593.57 L170.00,591.21 L170.20,588.93 L170.40,586.33 L170.60,584.55 L170.80,583.01 L171.00,582.18 L171.20,582.48 L171.40,583.95 L171.60,585.59 L171.80,587.67 L172.00,590.45 L172.20,592.61 L172.40,595.24 L172.60,597.09 L172.80,598.13 L173.00,598.28 L173.20,599.25 L173.40,598.11 L173.60,595.83 L173.80,594.70 L174.00,592.94 L174.20,590.76 L174.40,589.23 L174.60,587.39 L174.80,586.92 L175.00,586.66 L175.20,587.08 L175.40,588.14 L175.60,589.83 L175.80,591.96 L176.00,593.60 L176.20,595.74 L176.40,597.79 L176.60,599.21 L176.80,600.36 L177.00,600.88 L177.20,600.89 L177.40,599.75 L177.60,597.94 L177.80,597.13 L178.00,595.63 L178.20,593.86 L178.40,592.44 L178.60,590.63 L178.80,590.79 L179.00,590.30 L179.20,590.20 L179.40,591.12 L179.60,592.26 L179.80,594.15 L180.00,595.77 L180.20,597.62 L180.40,598.82 L180.60,599.45 L180.80,600.31 L181.00,601.52 L181.20,601.64 L181.40,600.63 L181.60,599.99 L181.80,598.15 L182.00,596.59 L182.20,595.32 L182.40,594.14 L182.60,592.87 L182.80,592.06 L183.00,591.48 L183.20,591.79 L183.40,592.42 L183.60,592.83 L183.80,594.60 L184.00,595.21 L184.20,596.77 L184.40,598.56 L184.60,599.74 L184.80,601.32 L185.00,601.50 L185.20,602.37 L185.40,601.88 L185.60,602.04 L185.80,600.23 L186.00,599.12 L186.20,597.84 L186.40,595.67 L186.60,595.10 L186.80,593.85 L187.00,592.88 L187.20,591.97 L187.40,592.00 L187.60,593.22 L187.80,594.45 L188.00,596.01 L188.20,596.88 L188.40,598.46 L188.60,600.11 L188.80,600.66 L189.00,601.72 L189.20,602.39 L189.40,602.58 L189.60,602.00 L189.80,602.03 L190.00,600.97 L190.20,600.02 L190.40,598.70 L190.60,597.32 L190.80,595.55 L191.00,593.93 L191.20,592.27 L191.40,591.36 L191.60,590.56 L191.80,589.92 L192.00,590.67 L192.20,591.39 L192.40,592.35 L192.60,594.69 L192.80,596.66 L193.00,598.13 L193.20,598.98 L193.40,599.03 L193.60,600.10 L193.80,600.25 L194.00,599.29 L194.20,600.02 L194.40,599.81 L194.60,599.49 L194.80,599.25 L195.00,598.72 L195.20,598.47 L195.40,596.86 L195.60,595.62 L195.80,594.14 L196.00,592.53 L196.20,590.20 L196.40,589.55 L196.60,587.88 L196.80,587.08 L197.00,586.56 L197.20,586.57 L197.40,587.15 L197.60,588.34 L197.80,589.70 L198.00,591.47 L198.20,592.66 L198.40,593.78 L198.60,595.78 L198.80,595.62 L199.00,596.11 L199.20,596.87 L199.40,596.78 L199.60,596.30 L199.80,596.69 L200.00,596.52 L200.20,597.02 L200.40,596.43 L200.60,596.80 L200.80,596.38 L201.00,595.74 L201.20,595.10 L201.40,594.15 L201.60,591.94 L201.80,591.08 L202.00,589.05 L202.20,587.84 L202.40,585.37 L202.60,584.48 L202.80,582.40 L203.00,582.94 L203.20,582.91 L203.40,583.43 L203.60,584.61 L203.80,586.04 L204.00,587.87 L204.20,589.40 L204.40,590.45 L204.60,592.14 L204.80,593.83 L205.00,593.83 L205.20,594.29 L205.40,594.26 L205.60,594.50 L205.80,594.50 L206.00,594.33 L206.20,594.64 L206.40,594.07 L206.60,594.24 L206.80,594.30 L207.00,593.76 L207.20,592.96 L207.40,592.70 L207.60,591.13 L207.80,589.89 L208.00,588.12 L208.20,586.55 L208.40,584.67 L208.60,583.05 L208.80,582.13 L209.00,581.65 L209.20,580.76 L209.40,581.35 L209.60,581.94 L209.80,583.36 L210.00,585.24 L210.20,586.59 L210.40,587.96 L210.60,589.43 L210.80,590.90 L211.00,591.99 L211.20,592.84 L211.40,592.50 L211.60,592.73 L211.80,592.78 L212.00,592.49 L212.20,593.35 L212.40,592.89 L212.60,593.20 L212.80,591.88 L213.00,592.28 L213.20,591.08 L213.40,590.29 L213.60,588.90 L213.80,587.31 L214.00,585.22 L214.20,583.41 L214.40,580.53 L214.60,578.44 L214.80,576.32 L215.00,574.76 L215.20,573.40 L215.40,573.17 L215.60,573.64 L215.80,574.54 L216.00,576.24 L216.20,577.76 L216.40,579.88 L216.60,582.66 L216.80,583.83 L217.00,584.72 L217.20,586.27 L217.40,586.38 L217.60,586.50 L217.80,586.32 L218.00,586.93 L218.20,586.32 L218.40,586.42 L218.60,586.71 L218.80,586.50 L219.00,586.28 L219.20,585.96 L219.40,585.82 L219.60,585.24 L219.80,583.05 L220.00,581.56 L220.20,579.73 L220.40,576.92 L220.60,573.72 L220.80,571.24 L221.00,568.96 L221.20,567.19 L221.40,566.34 L221.60,566.46 L221.80,566.85 L222.00,568.60 L222.20,570.20 L222.40,572.15 L222.60,574.69 L222.80,576.52 L223.00,578.19 L223.20,580.18 L223.40,580.95 L223.60,581.23 L223.80,581.70 L224.00,581.43 L224.20,582.01 L224.40,581.20 L224.60,580.95 L224.80,580.73 L225.00,580.08 L225.20,580.09 L225.40,579.17 L225.60,578.11 L225.80,577.02 L226.00,575.73 L226.20,573.01 L226.40,571.05 L226.60,567.92 L226.80,565.41 L227.00,562.18 L227.20,560.57 L227.40,558.46 L227.60,556.85 L227.80,557.60 L228.00,557.67 L228.20,558.90 L228.40,560.71 L228.60,563.38 L228.80,565.90 L229.00,567.34 L229.20,568.93 L229.40,569.77 L229.60,571.22 L229.80,571.52 L230.00,570.85 L230.20,570.82 L230.40,570.26 L230.60,569.78 L230.80,569.60 L231.00,568.95 L231.20,568.38 L231.40,567.56 L231.60,567.08 L231.80,565.63 L232.00,564.20 L232.20,562.50 L232.40,559.78 L232.60,557.27 L232.80,554.12 L233.00,550.93 L233.20,547.33 L233.40,544.44 L233.60,543.05 L233.80,541.52 L234.00,541.02 L234.20,541.88 L234.40,542.93 L234.60,544.96 L234.80,547.77 L235.00,549.81 L235.20,552.67 L235.40,555.50 L235.60,556.63 L235.80,557.37 L236.00,558.60 L236.20,558.93 L236.40,558.77 L236.60,558.33 L236.80,557.81 L237.00,557.83 L237.20,557.71 L237.40,557.27 L237.60,557.30 L237.80,556.62 L238.00,555.71 L238.20,553.62 L238.40,552.58 L238.60,550.15 L238.80,546.27 L239.00,542.23 L239.20,538.93 L239.40,534.76 L239.60,531.23 L239.80,529.28 L240.00,526.95 L240.20,527.22 L240.40,527.51 L240.60,530.43 L240.80,533.14 L241.00,536.48 L241.20,540.38 L241.40,544.18 L241.60,547.51 L241.80,551.03 L242.00,553.11 L242.20,554.26 L242.40,555.46 L242.60,555.29 L242.80,556.13 L243.00,556.11 L243.20,556.26 L243.40,555.49 L243.60,555.53 L243.80,555.46 L244.00,554.84 L244.20,553.79 L244.40,552.63 L244.60,550.49 L244.80,547.91 L245.00,543.81 L245.20,539.88 L245.40,535.29 L245.60,530.86 L245.80,526.47 L246.00,523.19 L246.20,521.06 L246.40,520.39 L246.60,521.12 L246.80,523.12 L247.00,527.29 L247.20,530.20 L247.40,534.51 L247.60,539.01 L247.80,543.06 L248.00,546.47 L248.20,549.48 L248.40,551.38 L248.60,552.08 L248.80,551.87 L249.00,553.04 L249.20,552.63 L249.40,552.90 L249.60,552.71 L249.80,553.17 L250.00,552.80 L250.20,553.02 L250.40,552.47 L250.60,551.34 L250.80,549.91 L251.00,547.93 L251.20,544.57 L251.40,541.35 L251.60,537.00 L251.80,532.85 L252.00,528.98 L252.20,525.69 L252.40,522.92 L252.60,521.44 L252.80,521.61 L253.00,522.20 L253.20,525.58 L253.40,528.01 L253.60,532.54 L253.80,536.14 L254.00,540.33 L254.20,543.55 L254.40,545.71 L254.60,547.24 L254.80,548.05 L255.00,549.50 L255.20,549.49 L255.40,549.51 L255.60,549.41 L255.80,550.10 L256.00,549.21 L256.20,549.35 L256.40,548.73 L256.60,549.22 L256.80,548.03 L257.00,546.44 L257.20,546.55 L257.40,543.34 L257.60,541.41 L257.80,538.11 L258.00,534.67 L258.20,530.94 L258.40,527.86 L258.60,525.52 L258.80,523.22 L259.00,522.52 L259.20,522.90 L259.40,523.84 L259.60,525.73 L259.80,528.96 L260.00,531.63 L260.20,534.48 L260.40,537.07 L260.60,539.38 L260.80,542.19 L261.00,543.56 L261.20,543.43 L261.40,544.26 L261.60,544.78 L261.80,545.08 L262.00,544.87 L262.20,544.46 L262.40,544.63 L262.60,544.18 L262.80,544.72 L263.00,544.33 L263.20,544.50 L263.40,544.33 L263.60,543.95 L263.80,541.97 L264.00,539.72 L264.20,537.13 L264.40,534.24 L264.60,532.49 L264.80,530.43 L265.00,529.63 L265.20,529.30 L265.40,530.67 L265.60,532.25 L265.80,535.69 L266.00,539.40 L266.20,543.09 L266.40,547.34 L266.60,550.51 L266.80,554.13 L267.00,557.00 L267.20,558.83 L267.40,561.38 L267.60,562.16 L267.80,562.57 L268.00,563.00 L268.20,563.90 L268.40,563.99 L268.60,563.23 L268.80,561.98 L269.00,560.00 L269.20,557.80 L269.40,555.86 L269.60,553.80 L269.80,551.39 L270.00,551.11 L270.20,550.83 L270.40,551.82 L270.60,554.25 L270.80,556.35 L271.00,558.66 L271.20,563.05 L271.40,566.48 L271.60,569.88 L271.80,571.99 L272.00,574.85 L272.20,575.41 L272.40,576.93 L272.60,577.70 L272.80,577.26 L273.00,576.43 L273.20,574.69 L273.40,572.31 L273.60,570.46 L273.80,567.88 L274.00,566.06 L274.20,563.52 L274.40,562.60 L274.60,561.79 L274.80,562.26 L275.00,562.75 L275.20,564.14 L275.40,565.70 L275.60,568.37 L275.80,570.62 L276.00,572.47 L276.20,572.83 L276.40,574.35 L276.60,575.93 L276.80,575.09 L277.00,574.26 L277.20,573.17 L277.40,570.88 L277.60,568.26 L277.80,565.85 L278.00,564.00 L278.20,560.81 L278.40,559.86 L278.60,558.24 L278.80,557.84 L279.00,558.83 L279.20,559.13 L279.40,561.25 L279.60,563.02 L279.80,565.08 L280.00,568.19 L280.20,571.06 L280.40,572.61 L280.60,574.07 L280.80,574.33 L281.00,573.72 L281.20,572.09 L281.40,569.94 L281.60,566.34 L281.80,563.49 L282.00,559.67 L282.20,557.10 L282.40,554.45 L282.60,552.30 L282.80,551.92 L283.00,551.99 L283.20,553.19 L283.40,555.15 L283.60,558.30 L283.80,561.82 L284.00,564.58 L284.20,567.54 L284.40,570.65 L284.60,571.32 L284.80,572.00 L285.00,571.93 L285.20,571.15 L285.40,568.70 L285.60,565.60 L285.80,561.80 L286.00,558.44 L286.20,554.87 L286.40,551.74 L286.60,548.89 L286.80,548.26 L287.00,548.02 L287.20,549.47 L287.40,551.74 L287.60,555.33 L287.80,559.28 L288.00,563.34 L288.20,566.89 L288.40,570.05 L288.60,572.52 L288.80,573.51 L289.00,573.61 L289.20,571.60 L289.40,568.83 L289.60,565.19 L289.80,561.46 L290.00,557.51 L290.20,553.46 L290.40,550.40 L290.60,549.19 L290.80,548.54 L291.00,549.42 L291.20,552.33 L291.40,555.69 L291.60,559.58 L291.80,564.91 L292.00,569.26 L292.20,572.52 L292.40,575.43 L292.60,577.90 L292.80,578.48 L293.00,577.46 L293.20,574.59 L293.40,571.60 L293.60,567.96 L293.80,563.04 L294.00,559.53 L294.20,556.27 L294.40,554.26 L294.60,552.37 L294.80,553.76 L295.00,556.36 L295.20,558.84 L295.40,563.11 L295.60,568.11 L295.80,572.33 L296.00,577.13 L296.20,580.20 L296.40,581.54 L296.60,582.75 L296.80,581.49 L297.00,580.07 L297.20,576.08 L297.40,572.16 L297.60,568.28 L297.80,564.59 L298.00,562.18 L298.20,559.85 L298.40,559.37 L298.60,560.50 L298.80,562.26 L299.00,565.76 L299.20,569.97 L299.40,574.87 L299.60,579.37 L299.80,582.66 L300.00,585.18 L300.20,586.78 L300.40,586.81 L300.60,586.22 L300.80,583.35 L301.00,580.37 L301.20,576.35 L301.40,572.32 L301.60,568.68 L301.80,566.51 L302.00,565.22 L302.20,564.89 L302.40,566.01 L302.60,568.00 L302.80,571.23 L303.00,574.97 L303.20,579.36 L303.40,583.72 L303.60,586.23 L303.80,588.07 L304.00,589.88 L304.20,588.91 L304.40,587.80 L304.60,584.82 L304.80,581.48 L305.00,578.36 L305.20,573.00 L305.40,569.39 L305.60,566.87 L305.80,565.07 L306.00,564.58 L306.20,565.45 L306.40,567.99 L306.60,571.23 L306.80,574.29 L307.00,577.88 L307.20,582.09 L307.40,583.75 L307.60,586.00 L307.80,586.38 L308.00,585.09 L308.20,583.59 L308.40,579.97 L308.60,576.23 L308.80,572.11 L309.00,568.91 L309.20,565.24 L309.40,563.35 L309.60,561.63 L309.80,562.21 L310.00,563.88 L310.20,565.97 L310.40,569.02 L310.60,572.91 L310.80,577.15 L311.00,580.28 L311.20,582.36 L311.40,583.18 L311.60,583.80 L311.80,582.57 L312.00,579.83 L312.20,575.74 L312.40,571.23 L312.60,566.60 L312.80,562.53 L313.00,558.84 L313.20,557.71 L313.40,556.40 L313.60,557.86 L313.80,559.19 L314.00,561.89 L314.20,566.83 L314.40,570.23 L314.60,574.47 L314.80,578.57 L315.00,580.95 L315.20,581.03 L315.40,581.32 L315.60,579.26 L315.80,576.79 L316.00,573.34 L316.20,568.27 L316.40,564.53 L316.60,559.96 L316.80,557.98 L317.00,555.44 L317.20,555.34 L317.40,556.83 L317.60,558.91 L317.80,563.40 L318.00,566.85 L318.20,571.79 L318.40,575.29 L318.60,578.96 L318.80,580.98 L319.00,581.27 L319.20,580.42 L319.40,577.40 L319.60,574.48 L319.80,569.59 L320.00,563.88 L320.20,560.70 L320.40,556.31 L320.60,553.82 L320.80,551.87 L321.00,551.34 L321.20,553.48 L321.40,556.10 L321.60,560.27 L321.80,564.67 L322.00,569.31 L322.20,572.63 L322.40,576.10 L322.60,577.57 L322.80,578.01 L323.00,575.91 L323.20,573.52 L323.40,570.30 L323.60,564.97 L323.80,560.92 L324.00,556.84 L324.20,553.03 L324.40,551.15 L324.60,550.42 L324.80,551.39 L325.00,553.08 L325.20,556.62 L325.40,561.16 L325.60,565.28 L325.80,569.87 L326.00,573.31 L326.20,575.36 L326.40,577.28 L326.60,577.26 L326.80,574.70 L327.00,571.60 L327.20,567.26 L327.40,562.35 L327.60,557.84 L327.80,553.90 L328.00,551.05 L328.20,548.79 L328.40,547.97 L328.60,549.13 L328.80,552.64 L329.00,556.12 L329.20,560.27 L329.40,564.75 L329.60,569.11 L329.80,573.13 L330.00,574.90 L330.20,575.42 L330.40,575.44 L330.60,573.10 L330.80,569.52 L331.00,565.56 L331.20,560.56 L331.40,556.73 L331.60,552.36 L331.80,550.00 L332.00,548.79 L332.20,549.60 L332.40,551.58 L332.60,555.12 L332.80,559.64 L333.00,564.58 L333.20,568.95 L333.40,572.97 L333.60,576.44 L333.80,577.67 L334.00,577.65 L334.20,577.23 L334.40,575.02 L334.60,570.98 L334.80,566.99 L335.00,562.17 L335.20,558.38 L335.40,555.26 L335.60,553.07 L335.80,551.88 L336.00,553.10 L336.20,554.64 L336.40,558.03 L336.60,561.84 L336.80,566.36 L337.00,570.75 L337.20,574.14 L337.40,577.10 L337.60,578.77 L337.80,578.45 L338.00,576.29 L338.20,573.44 L338.40,568.40 L338.60,564.83 L338.80,559.96 L339.00,555.41 L339.20,552.92 L339.40,551.38 L339.60,550.60 L339.80,552.67 L340.00,555.21 L340.20,558.30 L340.40,563.60 L340.60,568.14 L340.80,572.42 L341.00,576.26 L341.20,578.86 L341.40,579.61 L341.60,579.34 L341.80,577.74 L342.00,574.81 L342.20,570.80 L342.40,565.75 L342.60,561.51 L342.80,557.47 L343.00,555.18 L343.20,552.81 L343.40,552.76 L343.60,554.31 L343.80,557.21 L344.00,560.67 L344.20,565.30 L344.40,569.93 L344.60,574.24 L344.80,577.33 L345.00,579.86 L345.20,581.10 L345.40,580.53 L345.60,578.94 L345.80,575.44 L346.00,572.23 L346.20,568.36 L346.40,564.00 L346.60,560.85 L346.80,558.55 L347.00,557.37 L347.20,557.46 L347.40,559.30 L347.60,561.75 L347.80,565.50 L348.00,569.50 L348.20,573.30 L348.40,577.54 L348.60,580.32 L348.80,582.01 L349.00,582.40 L349.20,581.72 L349.40,579.33 L349.60,576.86 L349.80,573.17 L350.00,568.80 L350.20,565.50 L350.40,562.69 L350.60,560.35 L350.80,560.29 L351.00,560.72 L351.20,562.45 L351.40,565.14 L351.60,569.42 L351.80,574.28 L352.00,578.51 L352.20,582.65 L352.40,585.59 L352.60,587.61 L352.80,587.79 L353.00,586.51 L353.20,584.69 L353.40,581.47 L353.60,577.41 L353.80,574.35 L354.00,570.19 L354.20,567.08 L354.40,565.39 L354.60,564.36 L354.80,565.17 L355.00,566.34 L355.20,569.40 L355.40,573.62 L355.60,578.02 L355.80,581.61 L356.00,585.23 L356.20,587.64 L356.40,589.48 L356.60,589.60 L356.80,588.79 L357.00,586.92 L357.20,583.06 L357.40,580.11 L357.60,576.05 L357.80,572.60 L358.00,570.31 L358.20,568.20 L358.40,567.73 L358.60,567.54 L358.80,569.79 L359.00,572.64 L359.20,576.20 L359.40,580.47 L359.60,584.63 L359.80,587.56 L360.00,590.27 L360.20,591.71 L360.40,592.66 L360.60,591.11 L360.80,589.01 L361.00,586.05 L361.20,582.41 L361.40,579.23 L361.60,575.95 L361.80,573.51 L362.00,571.55 L362.20,571.14 L362.40,571.95 L362.60,574.70 L362.80,577.71 L363.00,581.27 L363.20,585.65 L363.40,589.32 L363.60,593.67 L363.80,595.50 L364.00,597.11 L364.20,597.44 L364.40,597.17 L364.60,594.71 L364.80,592.16 L365.00,588.48 L365.20,584.72 L365.40,582.21 L365.60,579.35 L365.80,577.67 L366.00,577.61 L366.20,578.78 L366.40,581.08 L366.60,582.65 L366.80,585.55 L367.00,590.02 L367.20,593.35 L367.40,596.10 L367.60,598.58 L367.80,599.82 L368.00,600.16 L368.20,598.38 L368.40,596.64 L368.60,593.20 L368.80,589.82 L369.00,586.68 L369.20,583.10 L369.40,581.05 L369.60,580.61 L369.80,579.65 L370.00,581.26 L370.20,583.12 L370.40,585.92 L370.60,589.00 L370.80,592.37 L371.00,596.16 L371.20,598.97 L371.40,601.47 L371.60,603.04 L371.80,603.26 L372.00,602.70 L372.20,601.66 L372.40,599.28 L372.60,596.80 L372.80,594.52 L373.00,592.46 L373.20,591.26 L373.40,590.08 L373.60,589.01 L373.80,589.64 L374.00,591.52 L374.20,593.77 L374.40,596.12 L374.60,599.43 L374.80,601.59 L375.00,603.79 L375.20,604.70 L375.40,605.42 L375.60,605.48 L375.80,605.11 L376.00,603.40 L376.20,601.64 L376.40,599.38 L376.60,597.33 L376.80,594.57 L377.00,592.30 L377.20,591.18 L377.40,590.67 L377.60,590.87 L377.80,591.28 L378.00,593.28 L378.20,595.54 L378.40,597.58 L378.60,599.90 L378.80,601.83 L379.00,603.40 L379.20,603.89 L379.40,604.76 L379.60,603.69 L379.80,602.25 L380.00,600.10 L380.20,597.02 L380.40,594.71 L380.60,591.92 L380.80,590.23 L381.00,588.37 L381.20,587.79 L381.40,587.88 L381.60,589.58 L381.80,590.47 L382.00,593.49 L382.20,596.44 L382.40,598.94 L382.60,601.76 L382.80,603.39 L383.00,605.38 L383.20,605.26 L383.40,605.00 L383.60,603.14 L383.80,600.56 L384.00,597.45 L384.20,594.62 L384.40,591.96 L384.60,589.29 L384.80,587.70 L385.00,586.32 L385.20,587.08 L385.40,587.54 L385.60,589.21 L385.80,592.32 L386.00,595.15 L386.20,597.74 L386.40,600.33 L386.60,602.82 L386.80,603.46 L387.00,604.16 L387.20,602.54 L387.40,601.02 L387.60,598.32 L387.80,595.43 L388.00,591.06 L388.20,588.39 L388.40,585.48 L388.60,583.49 L388.80,582.19 L389.00,582.10 L389.20,583.45 L389.40,585.54 L389.60,588.76 L389.80,591.45 L390.00,594.56 L390.20,597.58 L390.40,599.05 L390.60,600.99 L390.80,601.21 L391.00,600.26 L391.20,597.91 L391.40,594.82 L391.60,591.51 L391.80,588.46 L392.00,585.29 L392.20,582.76 L392.40,580.89 L392.60,579.77 L392.80,579.73 L393.00,581.11 L393.20,583.23 L393.40,586.62 L393.60,589.88 L393.80,593.20 L394.00,595.85 L394.20,598.96 L394.40,599.68 L394.60,600.81 L394.80,599.92 L395.00,597.28 L395.20,595.03 L395.40,591.40 L395.60,588.25 L395.80,585.16 L396.00,582.20 L396.20,579.91 L396.40,579.54 L396.60,579.85 L396.80,581.23 L397.00,583.42 L397.20,586.88 L397.40,590.61 L397.60,593.94 L397.80,597.76 L398.00,599.65 L398.20,601.00 L398.40,601.55 L398.60,600.24 L398.80,598.76 L399.00,596.28 L399.20,592.10 L399.40,588.79 L399.60,585.43 L399.80,581.74 L400.00,580.65 L400.20,579.06 L400.40,579.69 L400.60,581.52 L400.80,583.99 L401.00,587.73 L401.20,591.39 L401.40,595.22 L401.60,598.41 L401.80,601.45 L402.00,602.06 L402.20,603.27 L402.40,602.39 L402.60,600.40 L402.80,597.76 L403.00,594.35 L403.20,590.99 L403.40,587.03 L403.60,584.29 L403.80,582.36 L404.00,580.97 L404.20,581.92 L404.40,583.76 L404.60,585.30 L404.80,589.00 L405.00,592.24 L405.20,596.08 L405.40,599.02 L405.60,602.11 L405.80,602.81 L406.00,603.38 L406.20,602.32 L406.40,599.69 L406.60,596.36 L406.80,593.60" fill="none" stroke="#1a6890" stroke-width="1.6" stroke-linejoin="round"/></g>
<path d="M24,447 L405,447 L405,604" fill="none" stroke="#777" stroke-width="1.2"/>
<path d="M24,447 L24,604 L405,604" fill="none" stroke="#333" stroke-width="1.1"/>
<line x1="24" y1="458.4" x2="27" y2="458.4" stroke="#333" stroke-width="1"/>
<line x1="24" y1="474.6" x2="27" y2="474.6" stroke="#333" stroke-width="1"/>
<line x1="24" y1="490.6" x2="27" y2="490.6" stroke="#333" stroke-width="1"/>
<line x1="24" y1="506.8" x2="27" y2="506.8" stroke="#333" stroke-width="1"/>
<line x1="24" y1="522.8" x2="27" y2="522.8" stroke="#333" stroke-width="1"/>
<line x1="24" y1="539" x2="27" y2="539" stroke="#333" stroke-width="1"/>
<line x1="24" y1="555.3" x2="27" y2="555.3" stroke="#333" stroke-width="1"/>
<line x1="24" y1="571.8" x2="27" y2="571.8" stroke="#333" stroke-width="1"/>
<line x1="24" y1="588" x2="27" y2="588" stroke="#333" stroke-width="1"/>
<line x1="74.2" y1="604" x2="74.2" y2="601" stroke="#333" stroke-width="1"/>
<line x1="137.2" y1="604" x2="137.2" y2="601" stroke="#333" stroke-width="1"/>
<line x1="200.2" y1="604" x2="200.2" y2="601" stroke="#333" stroke-width="1"/>
<line x1="263.2" y1="604" x2="263.2" y2="601" stroke="#333" stroke-width="1"/>
<line x1="326.0" y1="604" x2="326.0" y2="601" stroke="#333" stroke-width="1"/>
<line x1="389.0" y1="604" x2="389.0" y2="601" stroke="#333" stroke-width="1"/>
<text x="74.5" y="618.2" font-family="Liberation Sans, sans-serif" font-size="10.5" font-weight="normal" fill="#1a1a1a" text-anchor="middle" >–3000</text>
<text x="137.8" y="618.2" font-family="Liberation Sans, sans-serif" font-size="10.5" font-weight="normal" fill="#1a1a1a" text-anchor="middle" >–2000</text>
<text x="200.0" y="618.2" font-family="Liberation Sans, sans-serif" font-size="10.5" font-weight="normal" fill="#1a1a1a" text-anchor="middle" >–1000</text>
<text x="263.2" y="618.2" font-family="Liberation Sans, sans-serif" font-size="10.5" font-weight="normal" fill="#1a1a1a" text-anchor="middle" >0</text>
<text x="326.0" y="618.2" font-family="Liberation Sans, sans-serif" font-size="10.5" font-weight="normal" fill="#1a1a1a" text-anchor="middle" >1000</text>
<text x="384.4" y="618.2" font-family="Liberation Sans, sans-serif" font-size="10.5" font-weight="normal" fill="#1a1a1a" text-anchor="middle" >2000</text>
<text x="214.5" y="635.4" font-family="Liberation Sans, sans-serif" font-size="10.65" font-weight="normal" fill="#1a1a1a" text-anchor="middle" >Omega-2Theta (arcsec)</text>
<text x="0" y="0" font-family="Liberation Sans, sans-serif" font-size="10.3" font-weight="normal" fill="#1a1a1a" text-anchor="middle" transform="translate(11.8,525.7) rotate(-90)">Log-intensity (a.u.)</text>
<line x1="33" y1="457.2" x2="50" y2="457.2" stroke="#1a6890" stroke-width="2"/>
<text x="54.7" y="460.9" font-family="Liberation Sans, sans-serif" font-size="10.1" font-weight="normal" fill="#1a6890" text-anchor="start" >Wafer 1</text>
<line x1="33" y1="473.2" x2="50" y2="473.2" stroke="#5dbab0" stroke-width="2"/>
<text x="54.7" y="476.9" font-family="Liberation Sans, sans-serif" font-size="10.1" font-weight="normal" fill="#5dbab0" text-anchor="start" >Wafer 2</text>
<line x1="33" y1="489.8" x2="50" y2="489.8" stroke="#c8437f" stroke-width="2"/>
<text x="54.7" y="493.5" font-family="Liberation Sans, sans-serif" font-size="10.1" font-weight="normal" fill="#c8437f" text-anchor="start" >Wafer 3</text>
<text x="-0.2" y="453" font-family="Liberation Sans, sans-serif" font-size="14" font-weight="bold" fill="#000" text-anchor="start" >i</text>
<rect x="454.4" y="447.3" width="225.60000000000002" height="156.7" fill="url(#bg_j)"/>
<g stroke="#cfcfcf" stroke-width="0.8" stroke-dasharray="2,3"><line x1="467.0" y1="447.3" x2="467.0" y2="604"/><line x1="507.5" y1="447.3" x2="507.5" y2="604"/><line x1="547.9" y1="447.3" x2="547.9" y2="604"/><line x1="588.4" y1="447.3" x2="588.4" y2="604"/><line x1="628.9" y1="447.3" x2="628.9" y2="604"/><line x1="669.3" y1="447.3" x2="669.3" y2="604"/><line x1="454.4" y1="551.8" x2="680" y2="551.8"/><line x1="454.4" y1="499.6" x2="680" y2="499.6"/></g>
<g clip-path="url(#clip_j)"><circle cx="468.4" cy="550.4" r="2.55" fill="url(#ball2)"/><circle cx="471.6" cy="553.9" r="2.55" fill="url(#ball2)"/><circle cx="474.1" cy="557.0" r="2.55" fill="url(#ball2)"/><circle cx="477.8" cy="552.7" r="2.55" fill="url(#ball2)"/><circle cx="480.3" cy="550.8" r="2.55" fill="url(#ball2)"/><circle cx="482.2" cy="555.2" r="2.55" fill="url(#ball2)"/><circle cx="485.3" cy="556.4" r="2.55" fill="url(#ball2)"/><circle cx="489.1" cy="557.0" r="2.55" fill="url(#ball2)"/><circle cx="491.6" cy="557.7" r="2.55" fill="url(#ball2)"/><circle cx="495.4" cy="558.3" r="2.55" fill="url(#ball2)"/><circle cx="497.9" cy="553.3" r="2.55" fill="url(#ball2)"/><circle cx="501.0" cy="558.9" r="2.55" fill="url(#ball2)"/><circle cx="504.2" cy="552.7" r="2.55" fill="url(#ball2)"/><circle cx="506.7" cy="558.9" r="2.55" fill="url(#ball2)"/><circle cx="510.4" cy="555.2" r="2.55" fill="url(#ball2)"/><circle cx="513.6" cy="555.2" r="2.55" fill="url(#ball2)"/><circle cx="516.7" cy="557.0" r="2.55" fill="url(#ball2)"/><circle cx="519.8" cy="563.3" r="2.55" fill="url(#ball2)"/><circle cx="522.3" cy="550.2" r="2.55" fill="url(#ball2)"/><circle cx="524.8" cy="553.9" r="2.55" fill="url(#ball2)"/><circle cx="526.7" cy="557.7" r="2.55" fill="url(#ball2)"/><circle cx="530.5" cy="552.7" r="2.55" fill="url(#ball2)"/><circle cx="457.8" cy="553.9" r="2.55" fill="url(#ball2)"/><circle cx="459.0" cy="560.8" r="2.55" fill="url(#ball2)"/><circle cx="462.8" cy="561.4" r="2.55" fill="url(#ball2)"/><circle cx="465.3" cy="557.7" r="2.55" fill="url(#ball2)"/><circle cx="466.5" cy="560.2" r="2.55" fill="url(#ball2)"/><circle cx="455.5" cy="556.0" r="2.55" fill="url(#ball2)"/><circle cx="588.3" cy="508.8" r="2.55" fill="url(#ball2)"/><circle cx="608.4" cy="506.3" r="2.55" fill="url(#ball2)"/><circle cx="600.2" cy="525.1" r="2.55" fill="url(#ball2)"/><circle cx="573.3" cy="530.8" r="2.55" fill="url(#ball2)"/><circle cx="551.3" cy="544.5" r="2.55" fill="url(#ball2)"/><circle cx="564.5" cy="544.5" r="2.55" fill="url(#ball2)"/><circle cx="582.7" cy="538.3" r="2.55" fill="url(#ball2)"/><circle cx="587.1" cy="541.4" r="2.55" fill="url(#ball2)"/><circle cx="589.6" cy="545.2" r="2.55" fill="url(#ball2)"/><circle cx="546.9" cy="548.3" r="2.55" fill="url(#ball2)"/><circle cx="548.8" cy="552.7" r="2.55" fill="url(#ball2)"/><circle cx="553.2" cy="551.4" r="2.55" fill="url(#ball2)"/><circle cx="555.7" cy="554.0" r="2.55" fill="url(#ball2)"/><circle cx="558.2" cy="550.2" r="2.55" fill="url(#ball2)"/><circle cx="562.6" cy="550.2" r="2.55" fill="url(#ball2)"/><circle cx="567.0" cy="550.2" r="2.55" fill="url(#ball2)"/><circle cx="563.9" cy="558.7" r="2.55" fill="url(#ball2)"/><circle cx="567.6" cy="557.7" r="2.55" fill="url(#ball2)"/><circle cx="572.0" cy="558.3" r="2.55" fill="url(#ball2)"/><circle cx="575.8" cy="555.8" r="2.55" fill="url(#ball2)"/><circle cx="580.2" cy="556.5" r="2.55" fill="url(#ball2)"/><circle cx="578.3" cy="548.3" r="2.55" fill="url(#ball2)"/><circle cx="584.5" cy="552.1" r="2.55" fill="url(#ball2)"/><circle cx="591.4" cy="551.4" r="2.55" fill="url(#ball2)"/><circle cx="592.7" cy="555.8" r="2.55" fill="url(#ball2)"/><circle cx="596.5" cy="554.0" r="2.55" fill="url(#ball2)"/><circle cx="598.3" cy="548.9" r="2.55" fill="url(#ball2)"/><circle cx="602.7" cy="548.3" r="2.55" fill="url(#ball2)"/><circle cx="606.5" cy="547.1" r="2.55" fill="url(#ball2)"/><circle cx="531.9" cy="552.1" r="2.55" fill="url(#ball2)"/><circle cx="665.2" cy="546.4" r="2.55" fill="url(#ball2)"/><circle cx="670.2" cy="547.0" r="2.55" fill="url(#ball2)"/><circle cx="672.7" cy="547.0" r="2.55" fill="url(#ball2)"/><circle cx="675.2" cy="541.4" r="2.55" fill="url(#ball2)"/><circle cx="667.7" cy="538.9" r="2.55" fill="url(#ball2)"/><circle cx="608.8" cy="506.3" r="2.55" fill="url(#ball2)"/><circle cx="610.4" cy="549.1" r="2.55" fill="url(#ball2)"/><circle cx="612.4" cy="547.1" r="2.55" fill="url(#ball2)"/><circle cx="615.5" cy="548.9" r="2.55" fill="url(#ball2)"/><circle cx="617.3" cy="546.4" r="2.55" fill="url(#ball2)"/><circle cx="620.0" cy="546.5" r="2.55" fill="url(#ball2)"/><circle cx="622.4" cy="546.7" r="2.55" fill="url(#ball2)"/><circle cx="624.7" cy="545.7" r="2.55" fill="url(#ball2)"/><circle cx="627.5" cy="546.5" r="2.55" fill="url(#ball2)"/><circle cx="629.2" cy="545.1" r="2.55" fill="url(#ball2)"/><circle cx="632.2" cy="545.7" r="2.55" fill="url(#ball2)"/><circle cx="634.6" cy="545.4" r="2.55" fill="url(#ball2)"/><circle cx="636.2" cy="546.7" r="2.55" fill="url(#ball2)"/><circle cx="639.5" cy="544.7" r="2.55" fill="url(#ball2)"/><circle cx="641.8" cy="545.5" r="2.55" fill="url(#ball2)"/><circle cx="643.8" cy="543.8" r="2.55" fill="url(#ball2)"/><circle cx="646.2" cy="545.0" r="2.55" fill="url(#ball2)"/><circle cx="649.0" cy="544.2" r="2.55" fill="url(#ball2)"/><circle cx="650.9" cy="546.3" r="2.55" fill="url(#ball2)"/><circle cx="653.8" cy="543.3" r="2.55" fill="url(#ball2)"/><circle cx="462.2" cy="532.0" r="2.55" fill="url(#ball1)"/><circle cx="457.1" cy="538.9" r="2.55" fill="url(#ball1)"/><circle cx="460.3" cy="540.8" r="2.55" fill="url(#ball1)"/><circle cx="464.7" cy="543.3" r="2.55" fill="url(#ball1)"/><circle cx="469.7" cy="543.3" r="2.55" fill="url(#ball1)"/><circle cx="473.4" cy="546.1" r="2.55" fill="url(#ball1)"/><circle cx="457.8" cy="550.2" r="2.55" fill="url(#ball1)"/><circle cx="471.6" cy="534.9" r="2.55" fill="url(#ball1)"/><circle cx="476.6" cy="539.5" r="2.55" fill="url(#ball1)"/><circle cx="479.7" cy="539.9" r="2.55" fill="url(#ball1)"/><circle cx="478.5" cy="537.0" r="2.55" fill="url(#ball1)"/><circle cx="489.1" cy="536.6" r="2.55" fill="url(#ball1)"/><circle cx="491.6" cy="542.0" r="2.55" fill="url(#ball1)"/><circle cx="494.1" cy="543.3" r="2.55" fill="url(#ball1)"/><circle cx="486.9" cy="545.4" r="2.55" fill="url(#ball1)"/><circle cx="496.6" cy="534.1" r="2.55" fill="url(#ball1)"/><circle cx="502.9" cy="535.7" r="2.55" fill="url(#ball1)"/><circle cx="505.4" cy="535.7" r="2.55" fill="url(#ball1)"/><circle cx="509.2" cy="539.9" r="2.55" fill="url(#ball1)"/><circle cx="511.7" cy="545.4" r="2.55" fill="url(#ball1)"/><circle cx="514.2" cy="535.1" r="2.55" fill="url(#ball1)"/><circle cx="516.7" cy="536.4" r="2.55" fill="url(#ball1)"/><circle cx="519.2" cy="532.6" r="2.55" fill="url(#ball1)"/><circle cx="524.8" cy="543.3" r="2.55" fill="url(#ball1)"/><circle cx="529.2" cy="525.1" r="2.55" fill="url(#ball1)"/><circle cx="532.4" cy="532.6" r="2.55" fill="url(#ball1)"/><circle cx="499.5" cy="535.0" r="2.55" fill="url(#ball1)"/><circle cx="560.7" cy="493.1" r="2.55" fill="url(#ball1)"/><circle cx="569.5" cy="501.3" r="2.55" fill="url(#ball1)"/><circle cx="596.5" cy="501.3" r="2.55" fill="url(#ball1)"/><circle cx="555.7" cy="520.1" r="2.55" fill="url(#ball1)"/><circle cx="565.1" cy="523.6" r="2.55" fill="url(#ball1)"/><circle cx="582.7" cy="518.8" r="2.55" fill="url(#ball1)"/><circle cx="552.0" cy="527.0" r="2.55" fill="url(#ball1)"/><circle cx="549.4" cy="535.1" r="2.55" fill="url(#ball1)"/><circle cx="553.8" cy="539.2" r="2.55" fill="url(#ball1)"/><circle cx="563.9" cy="537.0" r="2.55" fill="url(#ball1)"/><circle cx="567.6" cy="535.8" r="2.55" fill="url(#ball1)"/><circle cx="578.3" cy="528.9" r="2.55" fill="url(#ball1)"/><circle cx="580.2" cy="532.0" r="2.55" fill="url(#ball1)"/><circle cx="588.9" cy="527.6" r="2.55" fill="url(#ball1)"/><circle cx="592.7" cy="534.5" r="2.55" fill="url(#ball1)"/><circle cx="594.6" cy="526.4" r="2.55" fill="url(#ball1)"/><circle cx="605.2" cy="532.6" r="2.55" fill="url(#ball1)"/><circle cx="607.7" cy="528.9" r="2.55" fill="url(#ball1)"/><circle cx="533.1" cy="533.3" r="2.55" fill="url(#ball1)"/><circle cx="530.6" cy="525.7" r="2.55" fill="url(#ball1)"/><circle cx="588.3" cy="486.1" r="2.55" fill="url(#ball1)"/><circle cx="659.0" cy="508.8" r="2.55" fill="url(#ball1)"/><circle cx="614.4" cy="519.1" r="2.55" fill="url(#ball1)"/><circle cx="623.2" cy="522.4" r="2.55" fill="url(#ball1)"/><circle cx="625.7" cy="526.4" r="2.55" fill="url(#ball1)"/><circle cx="670.2" cy="523.6" r="2.55" fill="url(#ball1)"/><circle cx="677.1" cy="521.6" r="2.55" fill="url(#ball1)"/><circle cx="675.2" cy="527.6" r="2.55" fill="url(#ball1)"/><circle cx="672.7" cy="531.4" r="2.55" fill="url(#ball1)"/><circle cx="656.4" cy="533.9" r="2.55" fill="url(#ball1)"/><circle cx="610.1" cy="528.6" r="2.55" fill="url(#ball1)"/><circle cx="612.1" cy="528.3" r="2.55" fill="url(#ball1)"/><circle cx="614.7" cy="529.7" r="2.55" fill="url(#ball1)"/><circle cx="616.7" cy="529.8" r="2.55" fill="url(#ball1)"/><circle cx="619.9" cy="529.9" r="2.55" fill="url(#ball1)"/><circle cx="622.2" cy="528.2" r="2.55" fill="url(#ball1)"/><circle cx="624.5" cy="530.6" r="2.55" fill="url(#ball1)"/><circle cx="626.8" cy="529.4" r="2.55" fill="url(#ball1)"/><circle cx="629.1" cy="527.4" r="2.55" fill="url(#ball1)"/><circle cx="631.4" cy="528.9" r="2.55" fill="url(#ball1)"/><circle cx="633.9" cy="528.7" r="2.55" fill="url(#ball1)"/><circle cx="636.8" cy="527.4" r="2.55" fill="url(#ball1)"/><circle cx="639.3" cy="527.0" r="2.55" fill="url(#ball1)"/><circle cx="641.0" cy="527.2" r="2.55" fill="url(#ball1)"/><circle cx="643.9" cy="528.8" r="2.55" fill="url(#ball1)"/><circle cx="646.3" cy="526.9" r="2.55" fill="url(#ball1)"/><circle cx="648.3" cy="528.4" r="2.55" fill="url(#ball1)"/><circle cx="650.3" cy="529.8" r="2.55" fill="url(#ball1)"/><circle cx="652.8" cy="529.9" r="2.55" fill="url(#ball1)"/><circle cx="471.6" cy="518.6" r="2.55" fill="url(#ball3)"/><circle cx="477.6" cy="521.6" r="2.55" fill="url(#ball3)"/><circle cx="464.7" cy="523.8" r="2.55" fill="url(#ball3)"/><circle cx="462.2" cy="528.2" r="2.55" fill="url(#ball3)"/><circle cx="457.8" cy="533.2" r="2.55" fill="url(#ball3)"/><circle cx="460.3" cy="537.0" r="2.55" fill="url(#ball3)"/><circle cx="467.2" cy="537.6" r="2.55" fill="url(#ball3)"/><circle cx="473.4" cy="535.7" r="2.55" fill="url(#ball3)"/><circle cx="455.9" cy="546.4" r="2.55" fill="url(#ball3)"/><circle cx="475.3" cy="546.6" r="2.55" fill="url(#ball3)"/><circle cx="480.3" cy="530.7" r="2.55" fill="url(#ball3)"/><circle cx="482.8" cy="530.1" r="2.55" fill="url(#ball3)"/><circle cx="484.1" cy="535.4" r="2.55" fill="url(#ball3)"/><circle cx="486.6" cy="525.1" r="2.55" fill="url(#ball3)"/><circle cx="490.4" cy="526.1" r="2.55" fill="url(#ball3)"/><circle cx="493.5" cy="518.2" r="2.55" fill="url(#ball3)"/><circle cx="495.4" cy="521.3" r="2.55" fill="url(#ball3)"/><circle cx="497.9" cy="523.8" r="2.55" fill="url(#ball3)"/><circle cx="501.6" cy="522.6" r="2.55" fill="url(#ball3)"/><circle cx="500.4" cy="528.2" r="2.55" fill="url(#ball3)"/><circle cx="504.2" cy="526.3" r="2.55" fill="url(#ball3)"/><circle cx="506.7" cy="522.6" r="2.55" fill="url(#ball3)"/><circle cx="509.2" cy="530.7" r="2.55" fill="url(#ball3)"/><circle cx="511.1" cy="527.0" r="2.55" fill="url(#ball3)"/><circle cx="513.6" cy="519.1" r="2.55" fill="url(#ball3)"/><circle cx="516.1" cy="527.0" r="2.55" fill="url(#ball3)"/><circle cx="519.2" cy="528.2" r="2.55" fill="url(#ball3)"/><circle cx="522.3" cy="528.8" r="2.55" fill="url(#ball3)"/><circle cx="524.2" cy="533.9" r="2.55" fill="url(#ball3)"/><circle cx="526.7" cy="528.2" r="2.55" fill="url(#ball3)"/><circle cx="529.2" cy="532.9" r="2.55" fill="url(#ball3)"/><circle cx="531.1" cy="521.3" r="2.55" fill="url(#ball3)"/><circle cx="469.8" cy="536.5" r="2.55" fill="url(#ball3)"/><circle cx="551.3" cy="514.1" r="2.55" fill="url(#ball3)"/><circle cx="600.2" cy="500.0" r="2.55" fill="url(#ball3)"/><circle cx="548.8" cy="523.9" r="2.55" fill="url(#ball3)"/><circle cx="560.1" cy="523.2" r="2.55" fill="url(#ball3)"/><circle cx="557.6" cy="530.1" r="2.55" fill="url(#ball3)"/><circle cx="562.0" cy="528.2" r="2.55" fill="url(#ball3)"/><circle cx="566.4" cy="529.5" r="2.55" fill="url(#ball3)"/><circle cx="568.2" cy="532.0" r="2.55" fill="url(#ball3)"/><circle cx="555.7" cy="534.5" r="2.55" fill="url(#ball3)"/><circle cx="572.0" cy="536.6" r="2.55" fill="url(#ball3)"/><circle cx="575.8" cy="533.9" r="2.55" fill="url(#ball3)"/><circle cx="580.2" cy="536.6" r="2.55" fill="url(#ball3)"/><circle cx="577.6" cy="520.7" r="2.55" fill="url(#ball3)"/><circle cx="586.4" cy="521.3" r="2.55" fill="url(#ball3)"/><circle cx="584.5" cy="532.0" r="2.55" fill="url(#ball3)"/><circle cx="591.4" cy="526.4" r="2.55" fill="url(#ball3)"/><circle cx="592.7" cy="539.9" r="2.55" fill="url(#ball3)"/><circle cx="595.2" cy="530.1" r="2.55" fill="url(#ball3)"/><circle cx="597.7" cy="532.6" r="2.55" fill="url(#ball3)"/><circle cx="601.5" cy="532.0" r="2.55" fill="url(#ball3)"/><circle cx="605.2" cy="532.0" r="2.55" fill="url(#ball3)"/><circle cx="608.4" cy="521.3" r="2.55" fill="url(#ball3)"/><circle cx="531.9" cy="521.3" r="2.55" fill="url(#ball3)"/><circle cx="530.6" cy="532.6" r="2.55" fill="url(#ball3)"/><circle cx="588.3" cy="479.1" r="2.55" fill="url(#ball3)"/><circle cx="661.4" cy="533.3" r="2.55" fill="url(#ball3)"/><circle cx="665.2" cy="529.5" r="2.55" fill="url(#ball3)"/><circle cx="667.7" cy="534.5" r="2.55" fill="url(#ball3)"/><circle cx="672.1" cy="537.6" r="2.55" fill="url(#ball3)"/><circle cx="674.0" cy="535.8" r="2.55" fill="url(#ball3)"/><circle cx="669.6" cy="542.7" r="2.55" fill="url(#ball3)"/><circle cx="608.8" cy="520.7" r="2.55" fill="url(#ball3)"/><circle cx="611.5" cy="533.5" r="2.55" fill="url(#ball3)"/><circle cx="613.3" cy="533.5" r="2.55" fill="url(#ball3)"/><circle cx="615.1" cy="533.1" r="2.55" fill="url(#ball3)"/><circle cx="617.7" cy="532.9" r="2.55" fill="url(#ball3)"/><circle cx="620.4" cy="533.4" r="2.55" fill="url(#ball3)"/><circle cx="622.8" cy="533.7" r="2.55" fill="url(#ball3)"/><circle cx="625.2" cy="535.4" r="2.55" fill="url(#ball3)"/><circle cx="627.7" cy="535.1" r="2.55" fill="url(#ball3)"/><circle cx="630.4" cy="534.0" r="2.55" fill="url(#ball3)"/><circle cx="632.4" cy="536.1" r="2.55" fill="url(#ball3)"/><circle cx="634.7" cy="533.0" r="2.55" fill="url(#ball3)"/><circle cx="636.3" cy="534.6" r="2.55" fill="url(#ball3)"/><circle cx="639.3" cy="532.4" r="2.55" fill="url(#ball3)"/><circle cx="642.6" cy="534.1" r="2.55" fill="url(#ball3)"/><circle cx="644.2" cy="533.6" r="2.55" fill="url(#ball3)"/><circle cx="646.8" cy="533.1" r="2.55" fill="url(#ball3)"/><circle cx="649.3" cy="534.3" r="2.55" fill="url(#ball3)"/><circle cx="651.7" cy="534.8" r="2.55" fill="url(#ball3)"/><circle cx="654.0" cy="533.3" r="2.55" fill="url(#ball3)"/></g>
<path d="M454.4,447.3 L680,447.3 L680,604" fill="none" stroke="#222" stroke-width="1.2"/>
<path d="M454.4,447.3 L454.4,604 L680,604" fill="none" stroke="#222" stroke-width="1.2"/>
<line x1="454.4" y1="604.0" x2="457.4" y2="604.0" stroke="#222" stroke-width="1"/>
<text x="450" y="608.8" font-family="Liberation Sans, sans-serif" font-size="10.3" font-weight="normal" fill="#1a1a1a" text-anchor="end" >0</text>
<line x1="454.4" y1="551.8" x2="457.4" y2="551.8" stroke="#222" stroke-width="1"/>
<text x="450" y="556.5999999999999" font-family="Liberation Sans, sans-serif" font-size="10.3" font-weight="normal" fill="#1a1a1a" text-anchor="end" >10</text>
<line x1="454.4" y1="499.6" x2="457.4" y2="499.6" stroke="#222" stroke-width="1"/>
<text x="450" y="504.40000000000003" font-family="Liberation Sans, sans-serif" font-size="10.3" font-weight="normal" fill="#1a1a1a" text-anchor="end" >20</text>
<line x1="454.4" y1="447.4" x2="457.4" y2="447.4" stroke="#222" stroke-width="1"/>
<text x="450" y="452.2" font-family="Liberation Sans, sans-serif" font-size="10.3" font-weight="normal" fill="#1a1a1a" text-anchor="end" >30</text>
<line x1="467.0" y1="604" x2="467.0" y2="601" stroke="#222" stroke-width="1"/>
<text x="467.0" y="618.2" font-family="Liberation Sans, sans-serif" font-size="10.5" font-weight="normal" fill="#1a1a1a" text-anchor="middle" >–3000</text>
<line x1="507.5" y1="604" x2="507.5" y2="601" stroke="#222" stroke-width="1"/>
<text x="507.5" y="618.2" font-family="Liberation Sans, sans-serif" font-size="10.5" font-weight="normal" fill="#1a1a1a" text-anchor="middle" >–2000</text>
<line x1="547.9" y1="604" x2="547.9" y2="601" stroke="#222" stroke-width="1"/>
<text x="547.9" y="618.2" font-family="Liberation Sans, sans-serif" font-size="10.5" font-weight="normal" fill="#1a1a1a" text-anchor="middle" >–1000</text>
<line x1="588.4" y1="604" x2="588.4" y2="601" stroke="#222" stroke-width="1"/>
<text x="588.4" y="618.2" font-family="Liberation Sans, sans-serif" font-size="10.5" font-weight="normal" fill="#1a1a1a" text-anchor="middle" >0</text>
<line x1="628.9" y1="604" x2="628.9" y2="601" stroke="#222" stroke-width="1"/>
<text x="628.9" y="618.2" font-family="Liberation Sans, sans-serif" font-size="10.5" font-weight="normal" fill="#1a1a1a" text-anchor="middle" >1000</text>
<line x1="669.3" y1="604" x2="669.3" y2="601" stroke="#222" stroke-width="1"/>
<text x="669.3" y="618.2" font-family="Liberation Sans, sans-serif" font-size="10.5" font-weight="normal" fill="#1a1a1a" text-anchor="middle" >2000</text>
<text x="567.3" y="633.6" font-family="Liberation Sans, sans-serif" font-size="10.65" font-weight="normal" fill="#1a1a1a" text-anchor="middle" >Omega-2Theta (arcsec)</text>
<text x="0" y="0" font-family="Liberation Sans, sans-serif" font-size="10" font-weight="normal" fill="#1a1a1a" text-anchor="middle" transform="translate(429.9,531.5) rotate(-90)">FWHM (arcsec)</text>
<circle cx="461.6" cy="456.2" r="2.5" fill="url(#ball1)"/>
<text x="474.4" y="462.09999999999997" font-family="Liberation Sans, sans-serif" font-size="10.6" font-weight="normal" fill="#1a6890" text-anchor="start" >Wafer 1: 13.2</text>
<circle cx="461.6" cy="472.3" r="2.5" fill="url(#ball2)"/>
<text x="474.4" y="478.2" font-family="Liberation Sans, sans-serif" font-size="10.6" font-weight="normal" fill="#5dbab0" text-anchor="start" >Wafer 2: 10.1</text>
<circle cx="461.6" cy="488.3" r="2.5" fill="url(#ball3)"/>
<text x="474.4" y="494.2" font-family="Liberation Sans, sans-serif" font-size="10.6" font-weight="normal" fill="#c8437f" text-anchor="start" >Wafer 3: 15.1</text>
<text x="422.7" y="449.7" font-family="Liberation Sans, sans-serif" font-size="14" font-weight="bold" fill="#000" text-anchor="start" >j</text>
</svg></body></html>
